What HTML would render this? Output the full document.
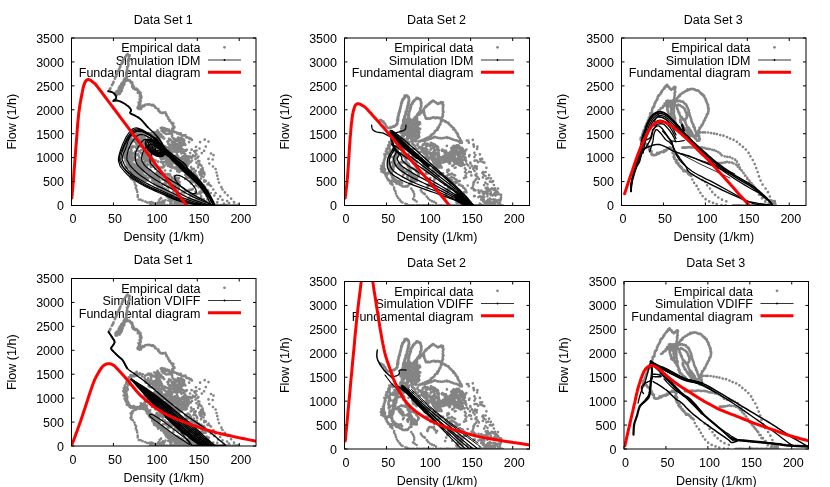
<!DOCTYPE html><html><head><meta charset="utf-8"><title>Fundamental diagrams</title>
<style>html,body{margin:0;padding:0;background:#fff}body{width:830px;height:487px;overflow:hidden}svg{display:block;will-change:transform}text{font-family:"Liberation Sans",sans-serif;font-size:13.33px;fill:#000}</style></head><body>
<svg width="830" height="487" viewBox="0 0 830 487">
<rect width="830" height="487" fill="#fff"/>
<g>
<clipPath id="cT1"><rect x="71.5" y="38" width="184.5" height="167.5"/></clipPath>
<text transform="translate(200.5 52) scale(0.94 1)" text-anchor="end">Empirical data</text>
<text transform="translate(200.5 64.7) scale(0.94 1)" text-anchor="end">Simulation IDM</text>
<text transform="translate(200.5 77) scale(0.94 1)" text-anchor="end">Fundamental diagram</text>
<circle cx="224.5" cy="47.3" r="1.4" fill="#888"/>
<path d="M208 60 H241" stroke="#999" stroke-width="1.8" fill="none"/>
<circle cx="224.5" cy="60" r="0.9" fill="#000"/>
<path d="M208 72.3 H241" stroke="#f00" stroke-width="3" fill="none"/>
<g clip-path="url(#cT1)">
<path d="M109.1 90.7h0M109.9 89.8h0M109.8 89.1h0M110.4 88.4h0M111.9 85.2h0M112.5 84.6h0M112.9 83.4h0M113.4 82.7h0M113.5 81.9h0M114.9 78.7h0M115.3 77.7h0M115.6 76.9h0M116.3 76.2h0M116.4 75h0M117 74.3h0M117.1 73.7h0M118.1 71.1h0M118.8 70.2h0M118.9 69.3h0M119.6 68.6h0M119.9 67.7h0M120.1 66.9h0M120.5 66.1h0M121.6 63.7h0M121.9 62.6h0M122.2 61.8h0M122.4 61.1h0M123 60.6h0M123.4 59.3h0M124 58.7h0M125.1 57h0M125.9 56.3h0M126.3 55.7h0M126.8 54.8h0M127.6 54.2h0M117.3 92.7h0M125 81.5h0M124.9 79.3h0M125.2 78.7h0M123 84.7h0M116.9 94.3h0M120.4 92.3h0M117.6 92h0M125.3 78.4h0M124.4 82.4h0M124.2 83.4h0M123.5 84.1h0M120.6 89.8h0M121.8 85.8h0M120.8 90.3h0M119.5 87h0M116.4 92.4h0M120.1 88.4h0M123.9 83.1h0M121.4 88.2h0M118.9 91.8h0M124.2 82.3h0M121.3 86.5h0M115.6 95h0M124 81.7h0M120.8 90.7h0M124.4 81.5h0M125.1 78.3h0M120.8 86.8h0M119.9 92.8h0M119 92.8h0M123.8 84h0M124.4 80.8h0M119.8 91.7h0M118.8 89.3h0M123.8 80.3h0M117.7 91.6h0M123.3 84.8h0M119.9 86.1h0M122.8 86.1h0M121.2 85.7h0M125.7 78.5h0M125.8 78.7h0M116.8 91.2h0M123.6 84.5h0M124.3 83.8h0M116.6 91.7h0M123.8 84.9h0M120.6 90.1h0M121.5 85.3h0M126.2 78.8h0M118.7 88.3h0M125.5 78.5h0M117.3 91.7h0M126.4 78.5h0M123.6 81.6h0M119.6 89.6h0M124.9 79h0M123.8 83.1h0M121.9 88.9h0M124.4 84.2h0M118.9 92.5h0M123.1 83.4h0M120.2 92.6h0M115.5 92.6h0M126.8 77.5h0M120 91.9h0M123.5 82.3h0M124.5 81.5h0M122 87.6h0M123.3 85.8h0M124.4 79.5h0M122.7 82.3h0M120.6 89.7h0M120.8 91.5h0M118.5 91.1h0M119.7 91.8h0M123.6 85h0M125.5 79.9h0M119.6 94.1h0M125.6 79.6h0M126.5 77.9h0M125 78.7h0M121.3 83.9h0M124 82h0M120.4 90.2h0M126.4 77.5h0M116.5 93.1h0M124.2 79.7h0M121.4 85.2h0M118.6 92.4h0M120.4 90.5h0M120.5 89.1h0M119 88.3h0M124.9 79.2h0M125.3 78.9h0M121.5 89.1h0M122.1 88.7h0M120.7 88.5h0M121.9 90.5h0M120.8 92.2h0M115.6 94.1h0M126.1 78.8h0M123 86.2h0M118 93.1h0M126 78.8h0M117.4 91.6h0M122.7 87.6h0M123.6 83.3h0M126.2 79.1h0M123.8 80.3h0M121.6 87.5h0M126 79.5h0M120.7 86.5h0M119 92.1h0M122.5 83.9h0M120.1 88.8h0M122.7 82.4h0M122.9 85.7h0M124 83.8h0M124.6 80.4h0M118.8 90.4h0M121.4 91h0M121.2 89.7h0M124.8 79.2h0M116.1 93.8h0M119.5 89.2h0M124 81.4h0M124 81.3h0M117.1 94.9h0M126 78.3h0M126.6 77.9h0M126.4 76.1h0M126.2 75.3h0M126.8 74.5h0M126.5 73.1h0M126.7 73.1h0M127.2 71.9h0M127.6 71.3h0M126.8 70.4h0M127.2 69.4h0M127.2 68.1h0M127 67.1h0M127.9 66.5h0M128.3 65.6h0M128.3 64.9h0M128.4 64.1h0M128.1 63.4h0M128.7 61.2h0M127.8 61.3h0M128.9 60h0M129.7 59.2h0M129.2 58.9h0M128.9 57.1h0M129.1 56.4h0M129.6 55.3h0M129.8 55.7h0M125.9 80.2h0M127.2 80.5h0M127.5 79.9h0M129.7 80.3h0M129.9 81.2h0M131.1 81.6h0M131 82.3h0M132.1 82.4h0M132.4 83.1h0M132.4 84.4h0M132.2 86.2h0M132.4 86.9h0M134 87h0M134.3 88.8h0M134.9 88.9h0M136.4 89.7h0M137.5 89.7h0M138.6 90.9h0M138.3 90.6h0M139.5 91.9h0M139.4 93.2h0M140.5 94.1h0M139.9 94.2h0M140 95.6h0M141.4 97.1h0M141.4 96.9h0M140.8 98.2h0M140.6 99.7h0M140.6 99.7h0M140.7 101.3h0M140.2 101.6h0M139.8 103.5h0M140.2 103.6h0M138.9 104.7h0M138 106.8h0M138.3 107.3h0M138 108h0M137.8 108.4h0M139.3 109.1h0M139.6 109h0M140.6 107.2h0M141.6 107.4h0M141.6 106.7h0M143.4 105.9h0M144.3 106.1h0M144.2 105.6h0M145.6 104.5h0M146.9 104.5h0M147.9 104.3h0M148.2 104.5h0M149.6 104.4h0M150.4 104.6h0M151.7 105.3h0M152.4 105.4h0M153.1 104.8h0M154.6 106.2h0M155.2 107.4h0M155.3 107.2h0M156.2 108h0M158.4 109h0M157.9 109.5h0M158.3 110.6h0M159.5 111.4h0M159.9 112.1h0M160.2 112.5h0M161.5 112.9h0M162.7 113.1h0M163 112.6h0M164.5 112.6h0M165.4 112.4h0M166.2 114.2h0M166.6 115.1h0M166.4 115.5h0M167.8 117.1h0M168 117.7h0M168.4 118.8h0M168.4 118.2h0M170 120.4h0M169.5 121h0M171.5 122.5h0M171.4 122.9h0M171.7 123.4h0M173.3 123.4h0M172.8 125.6h0M174.2 126.7h0M173.5 126.3h0M174.4 127.5h0M172.3 128.5h0M173.2 129.7h0M171.9 130.7h0M172.5 132.4h0M173.6 131.6h0M175.2 132.2h0M176.5 132.6h0M177.1 133.5h0M178 133.1h0M179.6 133.6h0M179.3 134.2h0M180.8 133.4h0M181.5 135.5h0M182.7 135.3h0M184 135.7h0M183.8 135.3h0M185.4 135.1h0M186.3 137.5h0M187.1 137.4h0M186.7 137h0M188.9 137.9h0M189.6 138.8h0M190.7 138.6h0M191.6 139.7h0M192 140h0M125.6 81h0M126.9 79.7h0M127.8 79.9h0M129.2 80.5h0M130.1 81h0M130.2 81.4h0M131.4 82.1h0M131.9 82.8h0M131 82.8h0M132.3 85.7h0M133.1 85.4h0M133.2 86.7h0M132.7 87.1h0M133.2 88.3h0M136.3 88.7h0M135.1 89.5h0M137.4 89.4h0M138 90.6h0M138.2 91h0M140 93.2h0M137.8 92.7h0M140.6 92.8h0M140 94.8h0M141 95.7h0M139.9 96.6h0M141.2 98.1h0M139.9 99.5h0M140.3 100.6h0M139.6 99.4h0M140.1 102h0M139.4 102.5h0M138.5 102.5h0M139 104.3h0M139.9 105.6h0M138.6 106.3h0M137.6 108h0M137.6 107.7h0M139.6 108.6h0M139.3 108.9h0M139.4 108h0M140.9 108.9h0M142 106.8h0M143 106.5h0M142.6 105.6h0M200.1 142.2h0M204.7 139.7h0M208.5 141.6h0M196 146.8h0M199.5 148.5h0M205.8 146.6h0M204.1 150.8h0M201.8 153.1h0M211 153.5h0M213.5 155.1h0M198.4 156.6h0M208.5 158.9h0M212.7 159.5h0M209.3 163.5h0M200 165h0M213 166.5h0M215.6 169h0M217.3 175.7h0M216.5 172.5h0M219 182.6h0M218 179h0M203.5 176.9h0M205.8 180.9h0M211 186h0M213.3 189.5h0M215.6 193h0M221.4 187.2h0M222.5 189.5h0M224.8 192.4h0M227.7 195.3h0M231.1 198.7h0M234 202.2h0M238.6 204.5h0M220.2 196.4h0M222.5 199.9h0M227.1 201h0M229 203h0M218 199h0M224 203.5h0M183.9 165.3h0M184.7 166.5h0M184.9 167h0M185.8 168.3h0M185.5 169.2h0M179.3 172.1h0M178.4 170.5h0M177.9 169.5h0M177 169.1h0M176.5 167.6h0M176.7 166.2h0M176.9 165.2h0M177.6 164.9h0M178.6 163.6h0M180.5 163.1h0M181.1 163.5h0M167.6 151.1h0M167.5 151h0M165.3 150.3h0M164.8 150.1h0M164.2 149.5h0M162.7 148.4h0M162.3 147.7h0M161.7 146.3h0M162.1 144.4h0M179 166.4h0M177.2 165.4h0M177.5 164.6h0M177.4 163.2h0M176.6 161.4h0M178.1 161.5h0M178.7 161.3h0M180.4 161.3h0M181.8 161.5h0M182.2 163h0M184.2 163.2h0M184.6 164.7h0M184.5 166.2h0M185.7 167h0M157.6 130.3h0M158.5 132.1h0M159.1 132.8h0M157 133h0M156.2 132.5h0M156.1 132.1h0M175.9 141h0M177 141.1h0M178.9 141.5h0M179 142.7h0M179.9 143.6h0M180.9 145h0M180.6 145.8h0M181.3 147.5h0M181 148.5h0M179.4 149.1h0M177.9 148.3h0M176.7 148.6h0M176 148.1h0M174.8 147h0M174.5 145.4h0M174.5 144.7h0M174.4 142.8h0M174 141.5h0M175 141.4h0M155.8 145.2h0M155.4 144.4h0M154.2 143.5h0M153.6 142.7h0M153.6 141.1h0M154.6 140.7h0M156.3 141.2h0M156.5 141.7h0M158.1 142.2h0M158.4 143.8h0M171.3 149.1h0M170.6 148.2h0M169.8 147.2h0M170.1 146h0M169.4 145.1h0M171 144.8h0M171 144.9h0M172.7 146.1h0M173.1 147.6h0M186.9 149.8h0M185.9 150.7h0M184.5 150.8h0M183.3 149.7h0M182.5 149.3h0M180.5 148.4h0M179.8 147.8h0M178.6 146.3h0M178.8 145h0M179.1 144.4h0M181 143.7h0M181.6 143.7h0M183.4 143.3h0M184.8 144.2h0M185.3 144.9h0M176.6 144.1h0M177.3 144.4h0M178.2 145.8h0M178.2 146.6h0M178.3 147.6h0M179.1 149.3h0M178.3 149.8h0M177 149.7h0M176 149.4h0M174.6 148.5h0M174.3 148h0M173.4 146.2h0M173.3 144.6h0M178.9 138.2h0M179.3 139.1h0M181.4 140h0M181.9 140.3h0M182.5 141.1h0M183 142h0M183 143.1h0M182.9 145.1h0M181.7 145.6h0M180.9 146.5h0M179.1 146.3h0M177.7 146.7h0M177 146.4h0M175 145.7h0M174.8 144.8h0M184 161.6h0M184 163h0M183.6 163.7h0M184.4 165.2h0M183.8 166.6h0M182.5 166.5h0M182 166h0M180.4 164.8h0M180.2 163.7h0M179.5 162.8h0M180 162h0M180.5 164.7h0M181.4 165.1h0M182 165.1h0M183.3 165.6h0M184.2 166.4h0M184.1 167.9h0M183.6 168.7h0M181.9 168.1h0M180.6 168h0M179 168.1h0M177.9 167.8h0M179 159.5h0M180.1 158.3h0M181.7 157.9h0M182.5 157.9h0M183.5 157.8h0M184.4 159.1h0M185.6 159.9h0M186.4 161.5h0M186.5 163.2h0M186.7 163.3h0M186 164.4h0M179.6 158.6h0M180.3 159.2h0M180.8 160.8h0M181.7 161.4h0M181.9 163.2h0M180.7 163.5h0M179.2 164.4h0M178.5 163.7h0M177.7 163.5h0M177 162.7h0M174.8 162.2h0M174.5 162h0M173.2 160.2h0M172.9 159.5h0M172.3 158.1h0M173.9 157.5h0M174.3 157.3h0M175.7 157.2h0M176.8 158.3h0M142.1 135.9h0M142.7 133.9h0M142.3 133.7h0M148.4 133h0M149.6 133.6h0M150.2 134.9h0M151.1 135.7h0M151.3 136.5h0M151.1 138.1h0M151.3 139.7h0M150.3 139.9h0M186.8 164.7h0M187.6 165.8h0M186.3 166.7h0M184.8 166.2h0M183.9 165.6h0M183.5 164.5h0M183.5 164h0M182 162.9h0M164.7 129.7h0M163.3 129.1h0M162.7 128.6h0M161.8 127.7h0M175.3 163.5h0M175.1 162.7h0M174.6 161.7h0M173.6 159.8h0M173.3 158.9h0M174.2 157.8h0M174.8 155.8h0M175.1 157.1h0M177.3 157.6h0M178.7 158.1h0M179.2 159.1h0M179.2 160.2h0M179.9 161.1h0M176.9 167.3h0M175.7 167.4h0M174.2 167.7h0M173 167.3h0M171.8 167.7h0M170.8 166.6h0M169.8 166.7h0M168.5 165.4h0M168.1 164.6h0M168.1 163.6h0M167.8 161.9h0M167.7 161h0M169.2 160.6h0M145.7 142.1h0M145.3 140.8h0M145.1 139.2h0M145.2 138.8h0M144.5 136.8h0M145.3 134.9h0M146.2 134.7h0M146.2 134.7h0M147.8 134.1h0M148.9 133.5h0M151 133.3h0M150.8 134.1h0M152.3 134.7h0M153.3 135.3h0M154.1 136h0M155.8 136.4h0M156.5 138.3h0M173.2 156.9h0M172 156h0M171.2 156h0M169.8 154.8h0M169.9 153.4h0M169.8 152.1h0M170.2 151.6h0M171.2 151.4h0M173 151.6h0M174.8 151.1h0M175.3 151.8h0M176.9 152.6h0M159.8 140.7h0M160.8 141.7h0M161.6 143h0M161.5 144h0M160 145.6h0M159.2 145.6h0M157.4 144.9h0M157.2 144.8h0M156.9 143.3h0M155.9 141.9h0M155.2 140.8h0M156.3 139.8h0M157.2 139.1h0M157.6 139.5h0M163.4 157.5h0M163.9 156.3h0M164.2 154.8h0M165.4 154.2h0M165.5 153.2h0M166.8 153.4h0M168.4 153.6h0M169.1 154.1h0M170.5 154.8h0M171 156h0M171.7 157.2h0M172.2 157.5h0M172.7 159.6h0M171.6 160.6h0M170.8 161.8h0M170.8 161.9h0M169.2 162.4h0M167.6 161.6h0M166.5 161.2h0M172.2 165.1h0M171 164.2h0M171.1 163.6h0M172.3 162.5h0M173.8 162.8h0M175.2 163.1h0M176 163.9h0M153.9 142.7h0M154.2 142.5h0M152.8 144.1h0M151.5 143.4h0M149.8 142.1h0M148.9 142.2h0M148.5 141.7h0M147.6 140.1h0M146.3 139.5h0M144.8 138.6h0M149.7 146.6h0M151.5 146.8h0M152.2 146.6h0M153.9 147h0M154.9 147h0M155.4 147h0M157.1 148.7h0M158.2 148.8h0M158.6 150.4h0M159.3 151.6h0M159.6 153h0M159.9 153.4h0M158.7 154.2h0M157.8 154.4h0M156.9 154.5h0M169 138.8h0M169.7 139.2h0M170.9 139.8h0M171.9 141.3h0M171.7 142.2h0M172.5 142.5h0M173.2 144h0M172.1 145.2h0M170.7 145.5h0M169.6 145.4h0M168.7 144.1h0M168.2 143.8h0M167.9 142.2h0M167.4 141.5h0M179.6 151.4h0M180.6 150.9h0M182.4 152.6h0M182.8 152.3h0M184.2 153h0M185.2 154.2h0M185.2 155.7h0M184.9 156.8h0M185.2 157.7h0M183.8 158.8h0M182.7 158.6h0M181.3 158.8h0M180 158h0M179 157.7h0M177.8 157.3h0M177.7 156.2h0M177 154.5h0M170 157.4h0M169.6 159.4h0M167.9 158.8h0M166.5 158.7h0M165.6 157.3h0M165.4 156.3h0M165.9 154.9h0M166.9 155.4h0M168.2 155.2h0M169.6 156.1h0M169.7 157.1h0M152.6 140.8h0M153.1 142h0M152.8 143.7h0M151.5 143h0M150.5 143h0M149.5 142.3h0M147.9 141.5h0M146.8 141h0M146.2 139.8h0M185.9 155.8h0M187.1 156.4h0M187.9 157h0M188.4 158.7h0M188.6 159.5h0M188.6 160.9h0M187.7 160.8h0M186.9 160.9h0M185.3 160.7h0M184.6 159.2h0M183.6 159h0M183 157.8h0M183.9 156.9h0M184.2 155.5h0M187.3 156.5h0M189 156.5h0M190 156.6h0M191.6 157h0M189.1 161h0M188.7 160.7h0M154.7 148.4h0M155.5 147.3h0M156.9 147.7h0M157.8 147.8h0M159.2 148.2h0M160.9 148.5h0M161 149.9h0M161.7 151.4h0M161.8 152.3h0M162.8 153.8h0M162.1 155.3h0M161.4 155.7h0M160.4 156.5h0M159.8 156.3h0M157.7 155.3h0M156.5 154h0M156.6 152.9h0M155.5 151.6h0M154.4 152.1h0M148.6 145.6h0M148.9 144.8h0M149.2 143.7h0M150.3 143.7h0M151.6 142.5h0M152.5 143.6h0M153.9 144.3h0M188.4 156.7h0M188.2 157.7h0M187.9 159.8h0M186.3 160.2h0M185.7 159.6h0M184.3 159.4h0M184.1 159.4h0M183.1 157.8h0M182.4 156.5h0M160.8 134.3h0M161.4 135.2h0M161.2 136h0M160.7 136.5h0M158.6 137.1h0M158.3 137h0M156.9 136.8h0M156.6 135.2h0M155.9 134.2h0M155.9 133.1h0M156.2 132.5h0M157.7 131h0M188.6 163.8h0M187.6 163h0M186.9 162.3h0M186.3 161.3h0M186.4 159.9h0M186.4 159.3h0M186.9 158.5h0M187.9 158.2h0M179.7 141.4h0M178.1 140.4h0M176.9 141h0M175.5 140.2h0M175 139.6h0M173.8 139.1h0M173.3 138.1h0M172.1 136.7h0M172.2 135.3h0M171.7 134.5h0M172 133.6h0M180.2 163.5h0M180.4 161.7h0M182 161.9h0M183.3 162.9h0M183.8 163.9h0M184.9 163.8h0M185.7 165h0M186.7 166.3h0M181.1 170.7h0M179.6 170.3h0M179.5 170.2h0M178 169.3h0M177.5 168.5h0M178 166.7h0M177.4 165.6h0M178.8 165.1h0M179.7 164.9h0M180.7 164.2h0M182.2 164.4h0M183.3 165.2h0M184.5 165.3h0M185.9 166.3h0M186.9 166.2h0M186.8 168.2h0M179.1 138h0M180.2 138h0M181.2 138.2h0M182.3 138.7h0M183.8 139.6h0M184.2 140.6h0M183.9 142.6h0M184.2 142.9h0M184.1 144.4h0M183.1 144.5h0M181.9 144.7h0M181 143.6h0M180.3 143.1h0M179.5 142.4h0M177 151.6h0M176.3 151.8h0M174.5 150.6h0M173.9 149.7h0M174.4 148.6h0M173.3 148.3h0M173.9 146.2h0M174.9 146.4h0M176.1 147h0M177.4 147h0M177.6 147.4h0M178.6 149.1h0M179.2 149.9h0M179.8 151.3h0M178.2 151.7h0M164.2 148.3h0M164.2 147.8h0M164.2 146.1h0M165.4 146.7h0M166.8 147.4h0M168.4 147.7h0M168.7 148.9h0M169.1 149.9h0M169.8 151.1h0M170.8 151.5h0M169.5 153.2h0M168.9 152.2h0M160.8 128.2h0M162.2 128.7h0M163.1 128.1h0M164.5 128h0M164.8 128.4h0M167.1 129.1h0M167.7 130.7h0M169.4 130.8h0M169.6 131.3h0M170.1 132.7h0M169.4 133.7h0M168.4 133.7h0M166.6 134h0M165.4 133.6h0M164.5 132.5h0M163.3 131.9h0M162.5 131.1h0M165.9 160.8h0M166.9 160.6h0M167.6 162.1h0M167.8 163.3h0M168 163.6h0M161.3 159.1h0M163 158.4h0M164.3 158.3h0M163.2 159.1h0M163.6 157.6h0M163.7 156.6h0M165.7 156.5h0M167.2 157.8h0M167.5 158h0M168.3 159.3h0M169 160.2h0M169.4 161.8h0M169.2 162.5h0M168.2 162.2h0M166.8 162.9h0M169.6 158.8h0M170.2 159.3h0M170.9 159.9h0M171.2 161.7h0M171.2 163.4h0M170.8 164.3h0M169.3 164.8h0M168.6 164.8h0M167.8 165.8h0M161.2 159.1h0M160.5 157.6h0M153.2 135.6h0M155.1 135h0M156.2 134.9h0M157.3 136.5h0M157.8 135.7h0M158.7 136.8h0M159.1 138.3h0M160 139.7h0M159.7 140.8h0M158.8 141.7h0M157.8 141.5h0M156.1 140.7h0M155.9 140.1h0M165.2 131h0M159.3 134.3h0M178.2 160.6h0M176.1 160.9h0M177.5 168.7h0M154.1 132h0M168.7 140.9h0M177.9 166.1h0M181.8 149.4h0M178 166.8h0M172.1 153.6h0M169.1 129.6h0M163.8 131.4h0M174.8 143.6h0M139.8 134.1h0M175.5 157.1h0M158.8 133.5h0M161.6 130.8h0M180 144.6h0M162.4 137.4h0M180.4 139.4h0M171.3 159.4h0M148.2 137.9h0M163.3 132.5h0M174.9 168.4h0M181.5 153.3h0M170.1 158.9h0M176.1 159.6h0M169.9 149.9h0M185.7 160.7h0M191.6 149.7h0M165.1 162.1h0M155.1 143.9h0M145.6 140.1h0M182.7 142.2h0M178.4 164.4h0M177.2 171.2h0M178 137.7h0M168 163.5h0M190.1 153h0M185.6 165.6h0M180.4 144.4h0M148 133.8h0M175.6 139.1h0M185.8 150.1h0M158.2 143h0M157.6 151.4h0M177.2 166.3h0M159 154.9h0M190.9 157.8h0M146.6 141.4h0M175 141.9h0M160.7 158.2h0M164.2 138.6h0M174.9 159.7h0M139.8 132.9h0M163.2 136.9h0M149.3 142.3h0M160 144.5h0M166.6 163.6h0M169.9 158.8h0M179.1 160.7h0M160.1 142.1h0M171.4 166.4h0M177.6 162.1h0M178 139.2h0M182 170.7h0M160.3 150.7h0M177.1 167.1h0M189.1 142.2h0M197.4 184.3h0M199.3 183.5h0M199.9 184.9h0M201.3 185h0M201.7 185.2h0M203 186.7h0M203.8 186.8h0M204.2 188.9h0M205.2 189.9h0M205.4 191.6h0M203.5 192.2h0M203 192.2h0M202.4 191.9h0M200.4 191.6h0M204.5 174.4h0M203.5 173.4h0M202.1 173.5h0M201.6 171.7h0M201 170.6h0M200.9 169.6h0M201.7 169.5h0M202.6 168.1h0M186.7 178.4h0M186.5 178h0M186.4 175.9h0M186.1 174.5h0M186.6 174h0M187.8 173h0M188.9 173.8h0M189.7 174.3h0M190.2 175.3h0M191 176.6h0M190.9 177.4h0M187.6 177.5h0M188.5 178h0M189.9 177.7h0M191 177.9h0M191.6 179.2h0M191.9 180h0M192.4 181.8h0M191.8 182.5h0M201.4 176h0M201.5 175.6h0M200.4 175.2h0M199.8 174.2h0M200 172.9h0M200.9 172.1h0M203 171.6h0M203.7 172.3h0M204.2 172.6h0M198.2 183.2h0M196.5 183.3h0M195.1 182.4h0M195 182h0M194.4 180.7h0M193.7 179.6h0M193.9 178.1h0M202.9 170.1h0M196.5 150.5h0M207.8 190.4h0M196.8 176.1h0M198.5 164.9h0M192 160.5h0M215.4 205h0M196.5 162.7h0M194.3 186.3h0M198 167.3h0M192.6 156.5h0M191.1 183.5h0M191.9 168.8h0M195.7 192.3h0M191.1 167.2h0M193.5 174.6h0M209.6 185h0M196.4 181.2h0M204.3 181.7h0M185.2 178.9h0M205 187h0M199.1 193.2h0M199 187.2h0M204 185.7h0M201.4 165.7h0M185.2 174.8h0M209.8 201.6h0M205.4 181.3h0M191.6 170.1h0M199.4 163.7h0M195 156.2h0M201.2 196.4h0M192.1 157.4h0M214.3 195.5h0M199.4 192.3h0M190.6 162.2h0M197.6 184.3h0M205.5 192.4h0M195.4 191.8h0M192.9 182.1h0M194.2 151.1h0M201.5 184.4h0M197.5 157.6h0M195.7 170.9h0M197.4 193.8h0M208.6 183h0M193.8 168.8h0M194 171.8h0M196.4 154.3h0M199.4 172.2h0M197.2 177.4h0M189.9 177h0M217.3 202.3h0M195.7 174.7h0M198.7 184.3h0M192.7 189.1h0M193.8 179h0M207.6 199.3h0M197.1 185.9h0M195.3 152.4h0M198.3 160.8h0M207.2 199.5h0M210.8 193h0M196.2 184.4h0M202.6 190.4h0M194.9 172.1h0M204.3 172.6h0M201.2 198.1h0M203.8 199.1h0M213.3 202.1h0M199.3 161.1h0M190.6 180.6h0M201.4 188.7h0M195.5 159.1h0M206.7 196.2h0M192.9 155.3h0M204.2 180.3h0M190.7 171h0M196.8 180.3h0M200.5 193.8h0M207.5 184.3h0M204.5 202.8h0M201 178.7h0M208.2 191.1h0M208.9 197.1h0M136.8 131.4h0M135.7 132.9h0M135.9 132.2h0M134.2 133h0M134.5 133.3h0M133.9 134.4h0M132.6 135.7h0M131.3 134.8h0M130.6 134.7h0M130.5 137.1h0M130.3 136h0M128.6 136.9h0M128.6 137.7h0M128.8 138.5h0M127.7 139.2h0M128 139.7h0M126.5 141.4h0M126.2 142.7h0M126.8 143.2h0M126.5 143.5h0M124.8 145.1h0M124.8 145.2h0M124.9 146.6h0M124.1 148.2h0M123.7 147.8h0M124.9 149h0M124.1 150.1h0M123.3 150.6h0M124.2 152.2h0M124.9 151.9h0M124.7 153.4h0M123.6 155h0M125.7 155.3h0M125.2 155.7h0M125.3 157.5h0M125.3 157.5h0M124.5 158h0M125.8 159.2h0M125.4 160.1h0M126.7 160.7h0M126.5 162h0M127.2 162.7h0M126.8 164.2h0M128.1 164.7h0M129.4 165.7h0M129.4 166.1h0M129.9 166.5h0M130.6 167.1h0M131.6 166.2h0M132.9 167.7h0M133.9 165.6h0M133.7 166.3h0M135.3 166.8h0M135.9 166.6h0M137.4 166.5h0M138.4 167.2h0M139.3 166.7h0M140 165.6h0M140.6 165.6h0M141.4 165.3h0M142.1 165.7h0M142.8 165.4h0M143.9 163.4h0M144.8 163.7h0M144.5 161.9h0M145 162h0M145.2 161.4h0M145.3 160.1h0M146.4 159.1h0M146.9 159.2h0M147.1 157.9h0M146.4 156.2h0M139.2 133.2h0M139 133.3h0M137.6 134.2h0M137.1 135.3h0M136.4 134.7h0M134.8 135.4h0M133.6 135.7h0M134.1 135.8h0M131.7 138.8h0M131.2 138.4h0M130 140.1h0M130.4 140.6h0M130 142.4h0M129.4 143.4h0M128.7 143.8h0M128.5 144.4h0M127.2 146.7h0M126.7 147.2h0M127.8 148.9h0M127.6 148.6h0M127.6 149.6h0M126.6 150.6h0M126.2 152.3h0M126.6 153.2h0M126.8 154.8h0M127.4 156.3h0M126.6 155.7h0M125.9 156.8h0M127.1 158h0M127.3 160.1h0M127.3 160h0M128 161.6h0M128.4 162h0M129 163.9h0M129.3 164.1h0M129.6 164.8h0M131.3 165.8h0M131.6 166.7h0M133.6 166.7h0M132.3 167.2h0M133.6 168h0M136.5 167.7h0M136.9 167.9h0M138.2 167.7h0M139.6 168.4h0M140.8 167.9h0M141.8 168.2h0M142.7 166.5h0M143.7 167.5h0M144.3 165.7h0M143.2 165.2h0M146.7 165.2h0M138.9 166.6h0M137.7 167.4h0M136.6 167.7h0M136.6 168.8h0M135 169h0M135.3 169.3h0M133.2 170.8h0M132.9 170.9h0M132.1 171.1h0M132.3 172.8h0M130.7 172.9h0M131.4 174.1h0M131.3 175.4h0M131.5 176.9h0M130.6 177.4h0M130.8 177.5h0M131.1 178.6h0M132.8 179.8h0M134.4 182h0M135.1 184.3h0M136.2 185.9h0M135.8 187.9h0M136.8 189.9h0M137.2 192h0M137.7 195.1h0M137.7 196.8h0M138.8 199.5h0M140.4 199.6h0M142.6 200.7h0M145.3 201.6h0M147.3 202.6h0M149.5 202.4h0M151.5 202.2h0M153.3 202.8h0M155.7 203.6h0M157.8 202.8h0M159.9 203.7h0M162.3 204.4h0M141.5 164.5h0M141.3 164.8h0M143.4 165.1h0M143.1 166h0M143.3 168.3h0M145.4 169h0M145.8 170.2h0M146.4 169.8h0M148.4 171.2h0M149.2 175.4h0M148.7 173.3h0M151.5 174.7h0M151.8 176.3h0M151.2 176.8h0M151.4 177.8h0M152.2 178.9h0M152.3 180.6h0M154.9 182.2h0M155.1 184.1h0M154.2 184.3h0M155.8 184.6h0M156.1 185.1h0M160.7 187.5h0M158.2 187.4h0M160 186.6h0M162.2 187.1h0M161.7 189.9h0M162 189.2h0M165.6 189.6h0M165.6 190.5h0M167.1 191.7h0M167.4 192.9h0M167.2 195.6h0M169.5 197h0M168.2 197.2h0M170.5 198.3h0M171 199.1h0M171.6 199.4h0M172.2 199.6h0M173.6 199.8h0M175.2 203h0M176.1 200.8h0M177.9 201.9h0M140.9 162.8h0M143.3 164.2h0M141.1 166.1h0M142.8 166h0M143.4 165.5h0M143.7 168.6h0M146.6 169.8h0M145.8 170.2h0M147.9 170.4h0M146.9 172.7h0M148.5 174.3h0M149.6 173.8h0M149.1 175.7h0M152.9 175h0M151.2 177.5h0M153.2 177.5h0M152.2 178.1h0M153.7 181h0M154.6 180.2h0M153.8 182.9h0M156.9 185.2h0M158.3 184.2h0M159.5 184.8h0M158 185.9h0M159.4 186.5h0M161.7 185.4h0M162.5 187.3h0M163.8 188h0M165.7 188.9h0M165.2 189.9h0M165.4 191.2h0M166.6 192.1h0M167.1 193.5h0M168.6 193.6h0M170 193.6h0M171 196.9h0M171.1 199h0M169.8 198.8h0M171.9 200.2h0M171.6 200.3h0M174.4 200.6h0M175.7 200.5h0M177.7 201.7h0M177.6 201.6h0M141.4 166.4h0M142.9 165.4h0M141.9 165.8h0M143.2 165.7h0M144.2 167.5h0M146.7 167.2h0M146.6 167.3h0M147.5 168.7h0M149.6 172h0M148 171.4h0M148.9 173.6h0M149.2 172.9h0M151.3 174.7h0M150.3 177h0M153.4 176.4h0M153.4 178.7h0M153.6 180h0M153.6 180.8h0M155.4 182.9h0M155.8 182.9h0M156.9 185.6h0M157.6 183.7h0M159.1 185.4h0M159 187.1h0M161.4 186.2h0M162.5 188.6h0M163.1 189.2h0M163.9 190.4h0M164.2 192.4h0M165.8 191.7h0M166.3 192h0M166.1 193.7h0M169.2 196.1h0M170.2 194.1h0M173.4 195h0M171.8 196.8h0M173.8 197.4h0M173.6 197h0M173.9 198.8h0M176.4 198.2h0M177.4 200.8h0M180.4 200.4h0M165.1 173.9h0M165.3 175.4h0M164.4 175.5h0M163.2 176.8h0M162.1 176.3h0M160.7 175.4h0M158.9 175.1h0M158.6 174h0M157.9 174.2h0M156.6 173.1h0M156.9 172.3h0M154.9 178.6h0M155.6 178.9h0M156.1 179.3h0M157.7 179.6h0M158.1 181h0M158.6 182.2h0M158.7 183.7h0M158 184.6h0M156.8 183.3h0M156.3 183.1h0M155.3 182h0M154.2 180.8h0M177.6 199.9h0M176.4 200.3h0M174.9 199.7h0M173.8 199h0M172.4 198.8h0M171.7 197.8h0M170.9 197h0M172 195.2h0M172.7 195.4h0M173.7 194.9h0M174.1 195.8h0M175 196.6h0M176.8 196.6h0M177.5 197.3h0M192.2 204.1h0M191.7 202.5h0M191.3 201.7h0M193.1 200.3h0M194.5 200.1h0M194.9 200.1h0M196.2 199.7h0M196.9 201h0M197.8 200.7h0M178.1 189.9h0M176.8 189.5h0M175.5 188.4h0M175.1 187h0M174.8 186.3h0M174.3 184.7h0M174.8 183.6h0M175.9 182.8h0M176.3 184.3h0M177.5 184.8h0M178.3 186.1h0M178.9 186.5h0M178.8 187.9h0M161.3 190h0M161.2 189.7h0M163.4 190.3h0M164.6 190.1h0M165.4 191h0M165.5 191.8h0M166.2 192.6h0M167.2 193.8h0M167.8 195.7h0M166.9 196.3h0M154.2 162.9h0M154.5 164h0M155.7 165.5h0M154.3 166.4h0M152.5 165.9h0M152.2 166.5h0M151.4 164.5h0M168.1 195.1h0M168.8 196.2h0M169.8 196.6h0M169.7 198.1h0M168.8 198.1h0M168.2 197.7h0M166.8 196.4h0M166.3 195.8h0M165.4 194.3h0M153.2 174.6h0M154 175.4h0M154.9 175.3h0M156 175h0M157.1 176.3h0M158.6 177.5h0M158.4 178.2h0M159.2 179.2h0M159.7 180.9h0M159.3 181.7h0M158.8 182.7h0M190.9 201.8h0M189.8 201.9h0M188.7 200.1h0M188.2 200.6h0M188 199.3h0M188.6 198.1h0M189.5 197.5h0M190.7 199.4h0M191.4 200.1h0M192.4 200.7h0M192.1 202.2h0M174.9 179h0M176.3 180.3h0M177.7 180.6h0M178.2 181.1h0M179.5 182h0M179.2 183.7h0M179.7 184.8h0M178.8 185.7h0M178.3 185.2h0M177.2 185.1h0M175.6 185.1h0M174.5 184.1h0M174 182.3h0M173.8 181.5h0M178.5 198.8h0M179.2 197.3h0M180.4 197.8h0M181.4 198.2h0M183.1 199h0M183.4 200h0M185 201h0M185.5 201.1h0M184.8 202.9h0M183.4 203.2h0M182.4 202.6h0M182.2 202.7h0M180.3 201.2h0M179.7 200.5h0M179 185.1h0M177.4 184.5h0M176.7 182.9h0M175.8 182h0M175.3 181h0M175 180h0M175.1 178.1h0M176.3 178.3h0M177.7 178.1h0M171.7 177.3h0M172.5 178.7h0M171.9 179.8h0M170.3 179.7h0M169.5 178.9h0M168.5 177.7h0M167.7 177.5h0M166.5 176.1h0M166.7 174.7h0M167.6 174.2h0M168.9 174.7h0M169.5 174.1h0M170.3 175.4h0M174.5 176.2h0M176.1 177.8h0M177.1 177.9h0M178.2 179.2h0M177.9 180.3h0M177.7 181.5h0M177.6 183.3h0M177 183.6h0M174.7 183.5h0M173.5 183.5h0M172.7 182.5h0M172.2 181.9h0M171.4 180.8h0M171.2 179.5h0M163.7 175.6h0M163.1 174.9h0M161.5 175.2h0M161.1 173.8h0M159.8 172.6h0M159.9 171.2h0M159.2 170.7h0M159.8 168.9h0M160.2 167.5h0M161.8 167.3h0M162.5 167.5h0M163.5 167.3h0M192.2 196.1h0M191.6 195.6h0M190.5 194.8h0M189.6 193.6h0M189.6 192.8h0M188.4 190.7h0M189.3 190.2h0M190.6 189.6h0M191.6 189.9h0M195.2 194.8h0M195.6 196.1h0M192.7 203.1h0M193.7 203.5h0M194.3 204.7h0M187.2 204h0M187.3 202.5h0M187.9 201.8h0M189.3 201.3h0M190.2 201.6h0M169.3 194.3h0M168.9 194.9h0M168 195h0M166.2 194.7h0M165.5 194.4h0M165 192.7h0M163.9 192.2h0M163.1 189.7h0M164.7 165.6h0M163.7 165.8h0M162.9 163.7h0M162.6 162.8h0M163.3 162h0M166.9 181.8h0M168.7 182.7h0M169 182.7h0M170.2 183.9h0M171.6 184.1h0M172 185.4h0M171.5 186.4h0M170.4 186.7h0M169.7 186.1h0M168.7 185.4h0M167.7 186.2h0M165.8 184.1h0M165.2 183.4h0M165.3 182.1h0M165.6 182.7h0M166.4 182.7h0M167.8 182.2h0M168.6 183.5h0M168.9 184.7h0M169 186.4h0M168.2 187.6h0M144.6 156.1h0M144.5 154.9h0M146.7 155.9h0M146.9 157h0M148.4 157.2h0M149.2 157.7h0M150.6 158.6h0M151 159.9h0M151.2 160.9h0M151.3 162.1h0M151.2 163.5h0M152 164.5h0M151.4 163.3h0M150.3 162.1h0M149.2 161.8h0M149.5 160.4h0M150 159h0M150.9 158.6h0M152.6 159.1h0M154 159.8h0M190.4 194.7h0M191.7 195.5h0M193.4 195.1h0M194.8 196.2h0M195.3 196.7h0M196 198h0M197.4 198.3h0M197.7 199.6h0M198.7 200.9h0M198.3 201.8h0M197.5 202.4h0M195.7 202.4h0M149.9 159.3h0M148.7 159.4h0M148 158.6h0M147.2 157.1h0M146.7 156h0M146.4 155.6h0M146.8 154h0M148 154.5h0M150.1 154.5h0M150.2 154.3h0M151.4 156.1h0M152 157.1h0M151.5 158.2h0M151.2 158.7h0M173.4 191.7h0M156.8 184.7h0M150.6 155.4h0M165.8 181.7h0M170.6 170.7h0M162.6 179.4h0M177.3 180.8h0M155.2 168.8h0M183.5 191.8h0M184.4 193.1h0M151.5 177.8h0M155.9 160.6h0M156.7 168.2h0M180.9 197.9h0M150.6 158.1h0M199 203.8h0M149.9 152.5h0M199.6 203.3h0M188.3 198.4h0M168.1 190.6h0M151.2 158.2h0M198.6 198.2h0M201.7 201.6h0M154.1 180.5h0M170.2 179.6h0M149.1 154.8h0M160.3 173.7h0M189 200.1h0M193 197.1h0M156.6 177.1h0M178.8 196.9h0M153.4 178.2h0M164.9 180.1h0M170.5 193.7h0M157 185.9h0M153.8 164.5h0M172.8 198.2h0M147.2 157.1h0M176.8 180.7h0M185.7 191.1h0M158.3 180.8h0M161.1 161.9h0M174 178.4h0M185.1 202.9h0M161.3 176h0M152.2 176.1h0M176.8 203.6h0M181.6 192.6h0M149.4 171.8h0M159.3 167.7h0M160.4 171h0M173.7 189.4h0M146.6 151.3h0M158.2 161.7h0M178.9 178h0M198.9 203.6h0M160.1 170.4h0M149.3 161.2h0M155.3 177.3h0M184.9 202.4h0M155.3 182.4h0M147 159.4h0M143.1 163.7h0M176.4 204.9h0M172.4 195.7h0M160.9 172.5h0M165.1 170.5h0M153.8 177.6h0M176.1 188.7h0M162.4 188h0M199.8 201.9h0M182.1 201.1h0M175.3 182.9h0M191.5 203.4h0M178 191.5h0M163 183.9h0M178.9 186.7h0M159.8 175.4h0M152.7 166.3h0M161.1 175.9h0M201.8 203.9h0M178.7 203.8h0M150.2 169.8h0M177.4 195.9h0M151.5 175.6h0M169.3 192.7h0M158.3 188.2h0M151.5 173.4h0M154 176h0M154.3 179.2h0M171.4 203.9h0M158.7 201.5h0M159.6 199.5h0M188.9 201.1h0M194.8 204.2h0M172.8 205h0M174.4 197.8h0M163.9 203.4h0M187.8 204.4h0M176.4 197.1h0M161.3 203.8h0M165.5 200h0M174.5 202.2h0M170.1 201.3h0M161 204.6h0M174.9 203.9h0M180.3 200.8h0M191.1 204.6h0M186.6 201h0M161.5 203.4h0M164 202.1h0M171.6 201.9h0M176.4 196.5h0M177.7 198h0M175.6 200.5h0M180 199.4h0M157.8 204.3h0M151.2 204.6h0M174.1 198.9h0M192.8 201.6h0M157.5 203.5h0M177.4 200.5h0M162.9 200.9h0M162.7 202.1h0M174.2 200.5h0M174.8 202.7h0M181.8 203.9h0M175.4 198.4h0M181.2 204.3h0M175.9 200.1h0M161 198.2h0M182.9 198.9h0M161.3 202.1h0M168.3 200.5h0M170.4 203.4h0M176.5 198.2h0M180.2 201.9h0M164.4 201.7h0M170.7 205h0M185 202.3h0M181.5 198h0M185.4 202.5h0M169.8 199.2h0M190.8 204.6h0M193.7 203h0M171.2 202.1h0M195.7 203.4h0M173.7 197.4h0M175.3 202.7h0M194.1 203.9h0M150 205.1h0M151.1 205.3h0M152 205.3h0M152.9 205.3h0M154.3 205.4h0M155 205.2h0M156.1 205.1h0M157 205.1h0M157.8 205.4h0M159 205.1h0M159.8 205.3h0M161 205.1h0M161.9 205.4h0M163 205.3h0M164 205.3h0M165.1 205.3h0M166 205.5h0M167 205.1h0M168 205.5h0M169.1 205.3h0M170.1 205.3h0M171.1 205.2h0M171.6 205.4h0M173.1 205h0M173.9 205.5h0M175.1 205.2h0M176.1 205.4h0M177.1 205.5h0M178.1 204.9h0M179 205.5h0M179.7 205.3h0M181 205.1h0M182.1 205.4h0M183.1 205.2h0M184.2 205.6h0M185 205.3h0M185.9 205.1h0M186.8 205.3h0M188 205.4h0M189.1 205.2h0M189.9 205.7h0M191 205.4h0M191.8 205.4h0M193.1 205.3h0M194 205.5h0M194.9 205.3h0M195.8 205.4h0M197 205.4h0M197.8 205.7h0M199.2 205.5h0M200.1 205.4h0M201.1 205h0M201.9 205.2h0M203.1 205.4h0M203.9 205.3h0M205.2 205.3h0M206.1 205.3h0M206.9 205.1h0M207.9 205.4h0M208.8 205.3h0M210.1 205.4h0M211.2 205.3h0M212 205.3h0M212.9 205.4h0M214.2 205.1h0M215 205.1h0M215.9 205.2h0M217.1 205.2h0M217.9 205.4h0M219.3 205.4h0M220.1 205.3h0M221 205.2h0M222.3 205.2h0M223.3 205.1h0M224 205.3h0M224.8 205.4h0M226.3 205.2h0M227.1 205.2h0M228 205.5h0M228.9 205.2h0M230.2 205.1h0M231.1 205.3h0M232.1 205.3h0M233.1 205.1h0M234.3 205.2h0M235 205.1h0M236 205.2h0M237.2 205.2h0M237.9 205.3h0M238.9 205.3h0M147.1 146.3h0M148.4 146.6h0M149 147.3h0M149.8 148.7h0M150.5 149.8h0M150.5 150.5h0M150.4 151.6h0M150 152.1h0M148.5 152.5h0M148.1 153.9h0M146.3 153.2h0M145.1 152.4h0M144.9 151.4h0M144.4 150.4h0M143.8 150.4h0M125.8 161.2h0M123.8 152.4h0M125.1 151.9h0M125.6 152.1h0M126.4 152.4h0M128.3 152.9h0M129 153.3h0M130.1 153.6h0M130.5 155.3h0M131.3 155.3h0M131.3 157.3h0M132 158.1h0M131.6 158.5h0M131.9 159.9h0M131 160.3h0M129.9 160.7h0M128.8 161h0M142.3 162.4h0M143.1 163.7h0M142.5 164.5h0M141.2 165h0M139.1 164.6h0M138.7 165h0M138.4 164.4h0M136.9 163h0M137.2 162.5h0M138.4 162h0M139.7 161.5h0M130.1 162.7h0M131.1 162.9h0M131.4 163.4h0M132 164.5h0M131.7 165.8h0M131.9 167.1h0M131 167.6h0M129.6 167h0M128.4 167.5h0M127.6 167.6h0M127.1 166.8h0M135.1 173.8h0M135.8 172.4h0M137.3 172.6h0M138.3 173.1h0M138.3 174.2h0M140.3 174.5h0M141 175.3h0M140.8 176.5h0M139.1 176.2h0M141.4 177.3h0M140.7 177.5h0M138.5 177.3h0M137.9 177.6h0M136.3 177.1h0M136.5 176.5h0M135.5 175.6h0M135.8 174.7h0M135 173.8h0M135.3 172.4h0M136.2 171.2h0M136.3 170.6h0M137.9 171h0M139.6 171h0M139.3 171.4h0M140.5 172.1h0M126.7 150.2h0M126.3 149.4h0M126 148h0M127.7 147.6h0M127.8 147h0M129.7 148.2h0M130.3 148h0M131 149.1h0M131.1 150.1h0M137.5 141.7h0M138.2 140.5h0M139.2 141.3h0M140.5 142.4h0M141 143.4h0M141.2 143.7h0M141.7 145.6h0M141.4 146.1h0M140.8 146.4h0M129 158.4h0M130 159h0M130.8 158.4h0M131.6 160.6h0M131.9 160.9h0M131.6 162.9h0M131 163.1h0M129.3 162.8h0M129 162.6h0M127.5 162.2h0M127.1 161.1h0M127.3 160.1h0M127.6 159h0M140.7 169.6h0M139.6 170.1h0M138.1 171h0M137.9 170.6h0M137.4 169.4h0M135.7 168.4h0M135.1 169h0M134.3 167.8h0M133.4 167.2h0M132.4 166.2h0M133.4 165.1h0M135 165.4h0M136 165.6h0M148.1 178.2h0M146.7 179.5h0M145.9 178.5h0M144.5 178.1h0M143.6 177.6h0M142.8 176.9h0M142.2 176.1h0M141.7 175.2h0M141.2 173.6h0M141.5 172.2h0M141.5 171.4h0M141.8 170.9h0M143.1 170.7h0M144.4 170.7h0M145.7 171.4h0M146.2 171.7h0M127.7 156.9h0M127.1 158.1h0M127.3 158.8h0M126 157.2h0M125.4 157.1h0M124.4 156.5h0M124.9 155h0M124.8 154.4h0M143.9 139.5h0M144.7 139.9h0M144.4 141.6h0M142.8 142.1h0M141.6 142.1h0M140.5 142.5h0M139.2 142.2h0M138.6 141.5h0M137.7 141.2h0M136.3 141.3h0M135.5 140.4h0M134.7 139.1h0M135.3 138.2h0M134.6 137.2h0M135.3 136.5h0M136.9 135.6h0M139.3 167.4h0M140 168.8h0M141.4 168.7h0M141.6 169.9h0M142.4 170.7h0M141.8 172.3h0M142.4 173h0M141.6 174h0M141.2 174.9h0M140.1 175.2h0M139.3 175.2h0M137.7 176.2h0M136.3 175.2h0M134.5 174.6h0M131.2 171.1h0M130.8 170.1h0M131.2 169.2h0M131.8 168.1h0M138.7 135.3h0M139.4 135.6h0M141.1 135.8h0M142.1 136.5h0M142.8 137.8h0M144 137.9h0M144.8 139.1h0M145.2 140.3h0M145.2 141.4h0M144.7 142.9h0M144.5 143.5h0M144.2 144.3h0M142.2 144.1h0M141.8 144.2h0M145.7 180.9h0M143.2 178.6h0M142.5 178.4h0M142.8 177.5h0M142.5 176.3h0M143.4 176.5h0M144.8 176.9h0M145.7 176.6h0M147.5 178h0M147.9 179.2h0M138.8 146.4h0M137.3 145.9h0M137.5 145.4h0M136.4 143.8h0M136.3 143.1h0M136.1 141.9h0M136.9 141.3h0M138.9 141.8h0M139.5 142.9h0M140.7 143.2h0M140.7 144.7h0M142.5 145.5h0M141.8 145.8h0M133.7 167.3h0M133.5 167.1h0M134.1 165.7h0M134.2 164.5h0M136.2 164.8h0M136.8 164.8h0M136.9 165.3h0M138.2 165.2h0M140.3 166.6h0M140.6 167.9h0M140.9 168.6h0M141.5 169.5h0M141.3 170.7h0M140.9 171.8h0M140.6 172.1h0M139.6 173.8h0M138.7 174.3h0M143.8 148.9h0M145.3 148.7h0M147.1 148.6h0M148 149.2h0M148.1 149.6h0M149.2 150.4h0M150.1 151.9h0M150.4 152.7h0M150.4 153.4h0M151.3 154.5h0M150.6 155.4h0M150.1 156.6h0M148.6 156.9h0M147.6 156.4h0M147.4 156.5h0M146.3 156.6h0M145.1 155.5h0M144.4 154.4h0M142.8 154.4h0M141.8 153h0M143.1 137.7h0M147.2 165.5h0M147.4 164.4h0M148.3 164.5h0M150 164.1h0M150.6 165.1h0M151.6 165.8h0M124.3 153.3h0M126.1 153.2h0M126.5 154.2h0M127 155h0M128.1 156h0M128.4 157h0M128.7 158.2h0M128.2 158.6h0M127.3 159.4h0M125.7 160h0M140.7 138.2h0M141.4 137.9h0M141.6 136.7h0M142.1 136.4h0M134.8 139.3h0M134.6 139.2h0M134.4 140.8h0M133 140.6h0M131.9 140.4h0M130.8 139.6h0M130.7 139.2h0M129.6 138.9h0M150.8 166.8h0M148.8 173.3h0M148 173h0M146.9 172.4h0M146.2 170.7h0M146.2 170.6h0M143.4 140.1h0M142.6 140.3h0M141.6 140.4h0M139.7 140.1h0M139.5 139.8h0M139.3 139.1h0M138 137.7h0M137.7 137.8h0M136.5 136.6h0M136.8 135.1h0M138.4 165.8h0M138.5 167h0M139.3 167.8h0M139.8 168.4h0M140.4 169.3h0M140.8 170.3h0M141.4 171.7h0M141 172.5h0M141.6 173.7h0M141.3 174.6h0M140 176.2h0M139.7 175.6h0M138.5 175.5h0M137.4 174.9h0M136.9 173.9h0M136.9 173.5h0M135.2 172.6h0M134.6 171.4h0M134.6 170.4h0M133.6 169.8h0M133.4 169.2h0M133.7 166.8h0M133.5 166.3h0M132.8 154.2h0M133.8 153.2h0M134.5 153.7h0M136.2 154.7h0M137.5 154.6h0M137.8 154.2h0M138.6 155.2h0M139.1 156.6h0M139.8 157.8h0M139.5 158.1h0M139.9 159.5h0M137.7 159.9h0M137.2 159.8h0M135.5 160.2h0M134.9 160.1h0M133.8 159.5h0M133.1 159.5h0M132.3 159.2h0M131.3 158.4h0M130.5 157.4h0M129.9 156.6h0M131.8 168.7h0M132.9 169.2h0M133.6 169.7h0M134.9 170.4h0M134.6 171.6h0M134.2 173.5h0M134.2 173.4h0M130.6 159.8h0M129.9 159.4h0M127.9 159.3h0M126.9 158.5h0M126.9 157.7h0M127.9 157h0M128.5 155.8h0M129.8 155.6h0M130.4 154.9h0M131.5 156.4h0M132 157.1h0M133.5 157.6h0M133.4 158.6h0M133.4 159.9h0M132.5 160h0M147.2 169.9h0M126.1 151.1h0M137.1 177.5h0M143.6 167.6h0M131.3 142.4h0M132.7 146.1h0M135.4 151.6h0M142.5 136.5h0M147 179.5h0M133.5 163.5h0M147.1 161.3h0M129.9 153.6h0M144.3 142.6h0M150.1 156.2h0M134.9 146.6h0M128.3 156.3h0M145.6 159.1h0M143.8 148.7h0M134.4 157.2h0M141.2 150h0M138.3 178.1h0M134.5 141.6h0M133.2 173.3h0M143.2 146.3h0M127 158.7h0M135 157.6h0M138.7 162.8h0M148.1 178.4h0M144 158h0M150.8 161.9h0M136.2 143.7h0M135.7 166.7h0M146.6 165.7h0M148.8 172.3h0M133.6 141h0M132.2 157.8h0M138.5 143.1h0M138.3 169.5h0M137.5 154.5h0M144.3 153.4h0M140.8 161h0M142.2 174.9h0M147.9 160.2h0M138.7 135.9h0M131.5 163.6h0M143.4 157.5h0M136.7 173h0M124.7 153.3h0M131.5 162.5h0M145.2 145.7h0M128.2 145h0M142.9 180h0M131.1 143.6h0M148.6 145.6h0M126.5 149.9h0M138.4 173.2h0M144.8 151.1h0M130.5 169.4h0M141.5 163.5h0M128.2 147h0M137.9 147.7h0M142 180h0M133.9 174.6h0M128.4 160h0M146.3 177.8h0M137.8 150.7h0M142.6 179h0M143.6 159.2h0M134.4 158h0M128.8 138.8h0M130.7 166h0M149 161.1h0M139.3 157.4h0M136.4 160h0M137.2 170.3h0M127.6 143.7h0M151.6 153.5h0M140.5 164.9h0M131.6 153h0M150.5 156.5h0M130.6 147.2h0M135.8 155.5h0M127.7 154.4h0M129.7 151.8h0M139.5 151.7h0M146.2 177.4h0M142.7 145h0M139.1 134.3h0M131.6 150.8h0M141 153.2h0M144.6 138.3h0M150.3 156h0M125.1 152.4h0M137.6 155.1h0M139.7 135.1h0M144.6 155.7h0M136 160.6h0M136.6 148.2h0M137 167.4h0M134.4 154.5h0M139.6 151.4h0M146.4 147.7h0M139.4 157.8h0M130.5 168.5h0M147.4 180.3h0M142.5 155.2h0M139.8 178.5h0M145.8 175.9h0M140.6 166.6h0M145.4 153.1h0M134.2 170.1h0M143.7 174.9h0M136.8 138.6h0M130.5 151.7h0M131.1 149.5h0M136.1 154h0M132.6 147.5h0M136 147.3h0M129 166.7h0M143.6 180.5h0" stroke="#848484" stroke-width="2.7" stroke-linecap="round" fill="none"/><path d="M108.1 91.3L108.8 91.4L109.7 91.6L110.8 91.8L111.8 92L112.7 92.4L113.4 92.9L114.1 93.4L114.6 94.1L115.1 94.7L115.5 95.3L115.8 95.9L116.1 96.5L116.2 97L116.2 97.6L116.1 98.2L115.6 98.8L114.9 99.5L114 100.1L113.4 100.7L113.2 101L113.5 101.1L114.3 100.9L115.2 100.7L116.3 100.5L117.3 100.5L118.3 100.8L119.5 101.1L120.6 101.6L121.8 102.2L123 102.8L124.2 103.5L125.5 104.3L126.7 105.2L127.9 106L128.8 106.8L129.5 107.5L130.1 108.3L130.6 109L130.9 109.7L131.1 110.3L131 110.9L130.7 111.5L130.3 112L130 112.6L130.1 113.1L130.6 113.6L131.4 114L132.4 114.4L133.4 114.9L134.5 115.4L135.5 115.9L136.6 116.5L137.8 117.1L139 117.9L140.3 118.9L141.8 120.4L143.6 122.3L145.3 124.3L146.8 126.1L147.9 127.3" stroke="#000" stroke-width="1.9" stroke-linejoin="round" stroke-linecap="round" fill="none"/><path d="M147.9 127.3L149.2 128.5L151 130.2L153.1 132.2L155.3 134.4L157.2 136.5L158.9 138.7L160.4 141.1L162 143.5L163.5 145.9L165.2 148L166.9 149.8L168.7 151.5L170.6 153L172.5 154.5L174.4 156L176.5 157.7L178.8 159.4L181.1 161L183.2 162.6L184.8 164L185.8 165.1L186.2 165.8L186.5 166.6L186.9 167.5L188 168.8L189.8 170.7L192.1 172.9L194.7 175.3L197.2 177.8L199.5 180.3L201.5 182.8L203.5 185.4L205.4 187.9L207.1 190.5L208.7 193L210.2 195.6L211.5 198.2L212.8 200.8L213.8 203L214.5 204.5" stroke="#000" stroke-width="1.5" stroke-linejoin="round" stroke-linecap="round" fill="none"/><path d="M135 128L133.4 128.5L132 129.5L130.6 130.7L129.3 132.3L128 134L126.7 136L125.4 138.4L124.2 140.9L123 143.5L122 146L121.1 148.5L120.2 151.1L119.5 153.6L118.9 156L118.5 158L118.4 159.6L118.5 160.9L118.8 162L119.2 163L119.5 164L119.7 164.8L119.9 165.5L120.2 166.1L120.7 166.9L121.5 168L122.7 169.5L124.1 171.2L125.9 173.2L127.8 175.1L130 177L132.5 178.8L135.2 180.6L138.2 182.5L141.3 184.3L144.5 186L147.8 187.7L151.3 189.3L154.9 190.9L158.5 192.5L162 194L165.4 195.5L168.6 197L171.9 198.5L175.4 199.8L179 201L183.1 202.1L187.5 203L192 203.8L196.2 204.5L200 205L203.4 205.4L206.6 205.8L209.5 206L211.7 205.8L213 205L213.2 203.5L212.5 201.5L211.2 199.1L209.6 196.5L208 194L206.4 191.4L204.5 188.7L202.4 185.9L200.2 183.1L198 180.5L195.7 178.1L193.4 175.8L191 173.6L188.5 171.3L186 169L183.4 166.5L180.7 163.9L178 161.3L175.4 158.8L173 156.5L170.9 154.6L169.1 152.8L167.3 151.2L165.7 149.7L164 148L162.4 146.2L160.9 144.4L159.4 142.6L157.8 140.7L156 139L153.9 137.3L151.6 135.5L149.1 133.8L146.7 132.3L144.5 131L142.4 129.9L140.4 129L138.5 128.3L136.7 127.9Z" stroke="#000" stroke-width="1.2" stroke-linejoin="round" stroke-linecap="round" fill="none"/><path d="M135.7 129.1L134.2 129.7L132.8 130.7L131.5 132L130.2 133.6L128.9 135.3L127.7 137.3L126.4 139.6L125.2 142.1L124.1 144.6L123.1 146.9L122.1 149.2L121.1 151.5L120.3 153.7L119.6 155.7L119.3 157.6L119.3 159.3L119.6 160.7L120.2 162.1L120.8 163.3L121.3 164.3L121.6 165.2L121.9 165.7L122.2 166.2L122.7 166.9L123.5 167.8L124.6 169.2L125.9 170.9L127.5 172.7L129.3 174.6L131.4 176.4L133.8 178.3L136.5 180.2L139.5 182.1L142.5 183.9L145.7 185.7L148.9 187.2L152.2 188.7L155.6 190.1L159.1 191.5L162.5 193L165.8 194.6L168.9 196.2L172.2 197.9L175.5 199.4L179.2 200.7L183.3 201.8L187.9 202.8L192.5 203.6L196.9 204.3L200.7 204.8L204.1 205.3L207.3 205.7L210.1 205.9L212.2 205.7L213.5 205L213.7 203.6L213 201.5L211.7 199.1L210 196.5L208.3 194L206.5 191.4L204.4 188.7L202.1 186L199.7 183.2L197.4 180.7L195.1 178.2L192.9 175.9L190.6 173.6L188.4 171.3L186 169L183.6 166.7L181 164.4L178.5 162.1L176 159.8L173.7 157.7L171.5 155.8L169.5 154L167.6 152.3L165.7 150.6L163.9 148.8L162.4 147L161 145.2L159.6 143.4L158.2 141.7L156.4 139.9L154.3 138.2L151.8 136.4L149.3 134.7L146.8 133.2L144.5 131.9L142.6 130.9L140.7 130L139 129.4L137.3 129Z" stroke="#000" stroke-width="1.2" stroke-linejoin="round" stroke-linecap="round" fill="none"/><path d="M136.4 130.2L135 130.7L133.7 131.6L132.5 132.7L131.4 134.1L130.2 135.7L128.9 137.5L127.6 139.6L126.3 141.9L125.1 144.3L124.1 146.5L123.2 148.8L122.4 151.1L121.7 153.4L121.2 155.6L120.9 157.5L120.8 159L120.9 160.4L121.2 161.6L121.6 162.6L121.9 163.6L122.1 164.4L122.2 165L122.3 165.6L122.7 166.2L123.6 167.3L124.8 168.7L126.3 170.4L128.2 172.2L130.3 174.1L132.5 176L135.1 177.9L137.9 179.8L140.9 181.7L144 183.6L147.1 185.4L150.3 187.1L153.6 188.6L156.9 190.1L160.2 191.6L163.6 193L166.9 194.5L170.2 196L173.6 197.5L177.1 198.9L180.7 200.1L184.8 201.3L189.1 202.3L193.5 203.3L197.7 204.1L201.3 204.7L204.5 205.3L207.5 205.9L210.1 206.2L212 206.1L213.1 205.4L213.1 204L212.2 201.9L210.8 199.3L209 196.7L207.4 194.1L205.8 191.6L204 188.9L202.1 186.3L200.1 183.6L198 181.1L195.8 178.6L193.5 176.2L191.1 173.8L188.6 171.5L186.1 169.2L183.5 166.8L180.8 164.4L178 162.1L175.4 159.8L173.1 157.7L171 155.8L169.2 154.1L167.5 152.5L165.9 150.9L164.4 149.3L162.9 147.7L161.6 146.1L160.3 144.5L158.9 142.9L157.2 141.2L155.1 139.4L152.8 137.5L150.3 135.6L147.8 133.8L145.6 132.5L143.5 131.5L141.6 130.7L139.7 130.3L138 130.1Z" stroke="#000" stroke-width="1.2" stroke-linejoin="round" stroke-linecap="round" fill="none"/><path d="M137.4 131.3L135.7 131.7L134.2 132.5L132.8 133.5L131.5 134.9L130.3 136.5L129.2 138.4L128.3 140.7L127.4 143.2L126.6 145.7L125.8 148L124.9 150.2L124 152.3L123.2 154.4L122.6 156.3L122.2 158L122.2 159.4L122.4 160.4L122.9 161.3L123.4 162.2L123.8 163.1L124.1 164L124.4 164.7L124.8 165.5L125.3 166.5L126.2 167.6L127.3 169L128.6 170.6L130.2 172.4L132.1 174.1L134.2 175.9L136.6 177.6L139.4 179.3L142.4 181L145.5 182.8L148.6 184.4L151.8 186L155.1 187.6L158.4 189.2L161.8 190.7L165.1 192.2L168.2 193.7L171.3 195.1L174.3 196.5L177.5 197.8L180.9 199.1L184.8 200.4L189 201.8L193.3 203.1L197.4 204.1L200.9 204.8L204.1 205.3L207 205.5L209.6 205.5L211.6 205.2L212.8 204.4L213.1 203.2L212.6 201.5L211.5 199.5L210.1 197.2L208.6 194.9L207 192.4L205 189.7L202.9 186.8L200.6 183.9L198.4 181.3L196.1 179.1L193.8 177L191.5 175L189.1 173L186.7 170.8L184.2 168.4L181.6 165.8L179 163.2L176.5 160.7L174.1 158.5L172 156.6L170.1 154.9L168.2 153.4L166.4 151.9L164.7 150.3L163.1 148.5L161.7 146.7L160.3 144.8L158.8 143L157.2 141.3L155.3 139.7L153.3 138.1L151.3 136.6L149.2 135.2L147.1 134L145.1 133.1L143.1 132.2L141.1 131.6L139.1 131.2Z" stroke="#000" stroke-width="1.2" stroke-linejoin="round" stroke-linecap="round" fill="none"/><path d="M140 134.6L138.6 135L137.3 135.8L136 136.9L134.9 138.2L133.7 139.6L132.6 141.1L131.5 142.9L130.5 144.8L129.6 146.7L128.8 148.6L128.1 150.6L127.6 152.6L127.2 154.7L126.9 156.5L126.8 158.1L126.9 159.4L127.2 160.4L127.7 161.2L128.2 162L128.7 162.9L129 163.7L129.4 164.4L129.8 165.2L130.4 166L131.4 167.1L132.6 168.4L134.1 169.9L135.8 171.5L137.7 173.2L139.7 174.8L141.9 176.4L144.3 178.1L146.8 179.8L149.5 181.5L152.3 183.2L155.3 184.8L158.5 186.4L161.8 187.9L165.1 189.5L168.3 191L171.4 192.5L174.3 193.9L177.3 195.4L180.4 196.8L183.6 198.1L187.1 199.4L190.8 200.7L194.6 202L198.2 203.1L201.5 203.9L204.5 204.7L207.5 205.4L210.2 205.9L212.3 206L213.5 205.5L213.6 204.2L212.8 202.2L211.5 199.9L209.9 197.4L208.2 194.9L206.6 192.5L204.7 189.8L202.6 187.2L200.4 184.6L198.3 182.2L196.3 180.1L194.2 178.2L192.1 176.5L189.9 174.6L187.6 172.6L185.1 170.3L182.5 167.8L179.8 165.2L177.2 162.8L175 160.7L173.1 158.9L171.5 157.4L170 156L168.6 154.6L167.1 153.1L165.6 151.5L164.2 149.8L162.7 148.1L161.1 146.4L159.4 144.8L157.4 143.1L155.1 141.4L152.8 139.7L150.5 138.3L148.4 137.1L146.5 136.1L144.7 135.3L143.1 134.8L141.5 134.5Z" stroke="#000" stroke-width="1.2" stroke-linejoin="round" stroke-linecap="round" fill="none"/><path d="M145 139.5L143.7 140L142.6 140.9L141.6 142L140.7 143.4L139.8 144.7L138.8 146.1L137.9 147.7L137 149.3L136.2 151L135.6 152.6L135.3 154.1L135.2 155.7L135.3 157.2L135.4 158.6L135.6 159.7L135.7 160.7L135.8 161.4L136 162L136.3 162.6L136.6 163.2L136.9 163.8L137.1 164.3L137.5 164.8L138.1 165.5L138.9 166.4L140.1 167.6L141.5 169L143.1 170.5L144.9 172.2L146.8 173.8L149 175.4L151.4 177L153.9 178.7L156.6 180.4L159.2 182L161.9 183.6L164.7 185.1L167.6 186.6L170.4 188.1L173.2 189.6L176 191.2L178.8 192.8L181.5 194.4L184.4 195.9L187.3 197.3L190.4 198.6L193.7 199.9L197.1 201.1L200.2 202.1L203 203L205.7 203.9L208.3 204.7L210.5 205.4L212.3 205.7L213.3 205.4L213.4 204.4L212.8 202.9L211.6 200.9L210.2 198.8L208.7 196.6L207.2 194.4L205.5 191.9L203.6 189.4L201.6 186.9L199.6 184.6L197.5 182.5L195.3 180.6L193.1 178.6L190.8 176.7L188.7 174.8L186.5 172.7L184.4 170.6L182.3 168.5L180.3 166.4L178.4 164.6L176.6 162.9L174.9 161.5L173.3 160.1L171.7 158.8L170.2 157.3L168.8 155.7L167.6 154.1L166.4 152.5L165.1 150.9L163.5 149.4L161.7 147.9L159.7 146.5L157.6 145.1L155.5 143.9L153.5 142.8L151.7 141.8L149.8 140.9L148.1 140.1L146.4 139.6Z" stroke="#000" stroke-width="1.2" stroke-linejoin="round" stroke-linecap="round" fill="none"/><path d="M150 144.6L148.8 145L147.6 145.7L146.5 146.7L145.5 147.8L144.7 149L143.9 150.2L143.3 151.6L142.7 153.1L142.3 154.5L142 155.7L141.7 156.8L141.6 157.7L141.6 158.6L141.7 159.4L141.8 160.3L142.1 161.1L142.5 162L143 162.8L143.5 163.6L144 164.3L144.2 164.8L144.4 165.1L144.6 165.4L145.1 165.9L145.8 166.6L147 167.6L148.5 168.8L150.2 170.1L152.1 171.5L154 172.9L156 174.4L158.1 175.9L160.3 177.5L162.6 179.1L164.9 180.6L167.4 182.1L169.8 183.6L172.4 185L174.9 186.5L177.5 188L180 189.5L182.5 191L185 192.5L187.5 194L190.2 195.4L193 196.8L196.1 198.2L199.1 199.5L202 200.7L204.5 201.7L206.8 202.7L208.9 203.7L210.8 204.6L212.2 205L213 204.9L213.1 204L212.5 202.6L211.4 200.7L210.1 198.7L208.8 196.8L207.3 194.8L205.6 192.7L203.8 190.5L201.8 188.3L199.9 186.2L198.1 184.2L196.1 182.3L194.2 180.4L192.2 178.5L190.2 176.6L188.2 174.7L186 172.6L183.9 170.7L181.9 168.8L180 167L178.3 165.5L176.7 164.2L175.1 163L173.7 161.8L172.3 160.5L171.1 159.1L170 157.6L169 156L167.8 154.6L166.5 153.1L164.9 151.8L163.1 150.4L161.2 149.1L159.3 147.9L157.5 147L155.9 146.1L154.3 145.4L152.8 144.9L151.4 144.6Z" stroke="#000" stroke-width="1.2" stroke-linejoin="round" stroke-linecap="round" fill="none"/><path d="M156.2 150.5L155.1 150.9L154 151.7L153 152.6L152.1 153.7L151.3 154.7L150.8 155.7L150.4 156.8L150.2 157.9L150 159L149.9 160L150 160.9L150.1 161.7L150.3 162.5L150.6 163.2L150.9 163.8L151.2 164.3L151.5 164.7L151.9 165L152.3 165.3L152.7 165.7L153 166.1L153.3 166.5L153.6 166.9L154.1 167.4L154.8 168.2L155.8 169.2L157.1 170.4L158.6 171.7L160.1 173L161.8 174.3L163.6 175.6L165.5 176.8L167.5 178.1L169.6 179.3L171.7 180.7L174 182.1L176.4 183.6L178.9 185.1L181.3 186.6L183.6 188.1L185.6 189.5L187.5 190.8L189.3 192.1L191.2 193.4L193.3 194.7L195.8 196.1L198.6 197.6L201.4 199.1L204.1 200.4L206.3 201.6L208.2 202.8L210 203.9L211.4 204.9L212.4 205.4L213 205.4L212.9 204.5L212.3 203.1L211.4 201.2L210.2 199.2L209 197.3L207.7 195.4L206.3 193.5L204.7 191.5L203.1 189.5L201.5 187.7L199.9 186.1L198.4 184.6L196.9 183.2L195.2 181.7L193.5 180.2L191.7 178.6L189.6 176.8L187.6 175L185.6 173.3L183.8 171.7L182.2 170.2L180.9 168.8L179.6 167.5L178.4 166.2L177.2 165L176 163.7L175 162.6L174 161.4L172.9 160.3L171.6 159.1L170 157.8L168.2 156.4L166.3 155L164.4 153.8L162.8 152.7L161.3 151.9L159.9 151.2L158.6 150.7L157.4 150.5Z" stroke="#000" stroke-width="1.2" stroke-linejoin="round" stroke-linecap="round" fill="none"/><path d="M155.9 137.6L157 139.2L158.5 141.5L160.2 144.2L162.1 146.8L163.9 149.1L165.6 150.9L167.4 152.6L169.3 154.1L171.2 155.6L173.1 157.1L175.2 158.8L177.5 160.5L179.8 162.1L181.9 163.7L183.5 165.1L184.5 166.2L184.9 166.9L185.2 167.7L185.6 168.6L186.7 169.9L188.5 171.8L190.8 174L193.4 176.4L195.9 178.9L198.2 181.4L200.2 183.9L202.2 186.5L204.1 189L205.8 191.6L207.4 194.1L208.9 196.7L210.2 199.3L211.5 201.9L212.5 204.1L213.2 205.6" stroke="#000" stroke-width="1.2" stroke-linejoin="round" stroke-linecap="round" fill="none"/><path d="M154.5 138.7L155.6 140.3L157.1 142.6L158.8 145.3L160.7 147.9L162.5 150.2L164.2 152L166 153.7L167.9 155.2L169.8 156.7L171.7 158.2L173.8 159.9L176.1 161.6L178.4 163.2L180.5 164.8L182.1 166.2L183.1 167.3L183.5 168L183.8 168.8L184.2 169.7L185.3 171L187.1 172.9L189.4 175.1L192 177.5L194.5 180L196.8 182.5L198.8 185L200.8 187.6L202.7 190.1L204.4 192.7L206 195.2L207.5 197.8L208.8 200.4L210.1 203L211.1 205.2L211.8 206.7" stroke="#000" stroke-width="1.2" stroke-linejoin="round" stroke-linecap="round" fill="none"/><path d="M163.9 155.3L163.6 155.6L163.2 155.9L162.7 156.2L162.2 156.4L161.7 156.6L161.2 156.7L160.5 156.7L159.9 156.7L159.2 156.7L158.5 156.5L157.8 156.4L157.1 156.2L156.3 155.9L155.5 155.6L154.8 155.2L154 154.8L153.3 154.4L152.5 153.9L151.8 153.3L151.1 152.8L150.4 152.2L149.7 151.6L149.1 151L148.5 150.3L148 149.6L147.5 149L147 148.3L146.6 147.6L146.2 146.9L145.9 146.2L145.7 145.6L145.5 144.9L145.4 144.3L145.3 143.7L145.3 143.1L145.3 142.6L145.4 142L145.6 141.6L145.8 141.1L146.1 140.7L146.4 140.4L146.8 140.1L147.3 139.8L147.8 139.6L148.3 139.4L148.8 139.3L149.5 139.3L150.1 139.3L150.8 139.3L151.5 139.5L152.2 139.6L152.9 139.8L153.7 140.1L154.5 140.4L155.2 140.8L156 141.2L156.7 141.6L157.5 142.1L158.2 142.7L158.9 143.2L159.6 143.8L160.3 144.4L160.9 145L161.5 145.7L162 146.4L162.5 147L163 147.7L163.4 148.4L163.8 149.1L164.1 149.8L164.3 150.4L164.5 151.1L164.6 151.7L164.7 152.3L164.7 152.9L164.7 153.4L164.6 154L164.4 154.4L164.2 154.9Z" stroke="#000" stroke-width="1.25" stroke-linejoin="round" stroke-linecap="round" fill="none"/><path d="M163.4 154.8L163.1 155.1L162.7 155.4L162.3 155.6L161.9 155.8L161.4 156L160.9 156.1L160.4 156.1L159.8 156.1L159.2 156L158.5 156L157.9 155.8L157.2 155.6L156.6 155.4L155.9 155.1L155.2 154.8L154.5 154.4L153.8 154L153.2 153.6L152.5 153.1L151.9 152.6L151.3 152.1L150.7 151.5L150.1 150.9L149.6 150.4L149.1 149.8L148.7 149.2L148.2 148.6L147.9 147.9L147.5 147.3L147.3 146.7L147.1 146.1L146.9 145.5L146.8 145L146.7 144.4L146.7 143.9L146.7 143.4L146.8 143L147 142.5L147.2 142.1L147.4 141.8L147.7 141.5L148.1 141.2L148.5 141L148.9 140.8L149.4 140.6L149.9 140.5L150.4 140.5L151 140.5L151.6 140.6L152.3 140.6L152.9 140.8L153.6 141L154.2 141.2L154.9 141.5L155.6 141.8L156.3 142.2L157 142.6L157.6 143L158.3 143.5L158.9 144L159.5 144.5L160.1 145.1L160.7 145.7L161.2 146.2L161.7 146.8L162.1 147.4L162.6 148L162.9 148.7L163.3 149.3L163.5 149.9L163.7 150.5L163.9 151.1L164 151.6L164.1 152.2L164.1 152.7L164.1 153.2L164 153.6L163.8 154.1L163.6 154.5Z" stroke="#000" stroke-width="1.25" stroke-linejoin="round" stroke-linecap="round" fill="none"/><path d="M162.8 154.4L162.6 154.6L162.3 154.9L161.9 155.1L161.5 155.3L161.1 155.4L160.7 155.5L160.2 155.5L159.7 155.5L159.1 155.4L158.6 155.4L158 155.2L157.4 155.1L156.8 154.8L156.2 154.6L155.6 154.3L155 154L154.4 153.6L153.8 153.2L153.3 152.8L152.7 152.4L152.2 151.9L151.6 151.4L151.1 150.9L150.7 150.4L150.2 149.9L149.8 149.4L149.5 148.8L149.2 148.3L148.9 147.7L148.6 147.2L148.4 146.7L148.3 146.2L148.2 145.7L148.1 145.2L148.1 144.7L148.1 144.3L148.2 143.9L148.4 143.5L148.5 143.1L148.8 142.8L149 142.6L149.3 142.3L149.7 142.1L150.1 141.9L150.5 141.8L150.9 141.7L151.4 141.7L151.9 141.7L152.5 141.8L153 141.8L153.6 142L154.2 142.1L154.8 142.4L155.4 142.6L156 142.9L156.6 143.2L157.2 143.6L157.8 144L158.3 144.4L158.9 144.8L159.4 145.3L160 145.8L160.5 146.3L160.9 146.8L161.4 147.3L161.8 147.8L162.1 148.4L162.4 148.9L162.7 149.5L163 150L163.2 150.5L163.3 151L163.4 151.5L163.5 152L163.5 152.5L163.5 152.9L163.4 153.3L163.2 153.7L163.1 154.1Z" stroke="#000" stroke-width="1.25" stroke-linejoin="round" stroke-linecap="round" fill="none"/><path d="M162.3 153.9L162.1 154.1L161.8 154.4L161.5 154.5L161.2 154.7L160.8 154.8L160.4 154.9L160 154.9L159.6 154.9L159.1 154.8L158.6 154.8L158.1 154.7L157.6 154.5L157.1 154.3L156.6 154.1L156.1 153.9L155.5 153.6L155 153.3L154.5 152.9L154 152.6L153.5 152.2L153 151.8L152.6 151.4L152.2 150.9L151.7 150.5L151.4 150L151 149.6L150.7 149.1L150.4 148.6L150.2 148.1L150 147.7L149.8 147.2L149.7 146.8L149.6 146.3L149.5 145.9L149.5 145.5L149.6 145.2L149.6 144.8L149.7 144.5L149.9 144.2L150.1 143.9L150.3 143.7L150.6 143.4L150.9 143.3L151.2 143.1L151.6 143L152 142.9L152.4 142.9L152.8 142.9L153.3 143L153.8 143L154.3 143.1L154.8 143.3L155.3 143.5L155.8 143.7L156.3 143.9L156.9 144.2L157.4 144.5L157.9 144.9L158.4 145.2L158.9 145.6L159.4 146L159.8 146.4L160.2 146.9L160.7 147.3L161 147.8L161.4 148.2L161.7 148.7L162 149.2L162.2 149.7L162.4 150.1L162.6 150.6L162.7 151L162.8 151.5L162.9 151.9L162.9 152.3L162.8 152.6L162.8 153L162.7 153.3L162.5 153.6Z" stroke="#000" stroke-width="1.25" stroke-linejoin="round" stroke-linecap="round" fill="none"/><path d="M161.8 153.4L161.6 153.6L161.4 153.8L161.1 154L160.8 154.1L160.5 154.2L160.2 154.2L159.8 154.3L159.4 154.3L159.1 154.2L158.7 154.2L158.2 154.1L157.8 153.9L157.4 153.8L156.9 153.6L156.5 153.4L156 153.2L155.6 152.9L155.2 152.6L154.7 152.3L154.3 152L153.9 151.6L153.5 151.3L153.2 150.9L152.8 150.5L152.5 150.1L152.2 149.8L152 149.4L151.7 149L151.5 148.6L151.3 148.2L151.2 147.8L151.1 147.4L151 147L150.9 146.7L150.9 146.3L151 146L151 145.7L151.1 145.4L151.3 145.2L151.4 145L151.6 144.8L151.8 144.6L152.1 144.4L152.4 144.3L152.7 144.2L153 144.2L153.4 144.1L153.8 144.1L154.1 144.2L154.5 144.2L155 144.3L155.4 144.5L155.8 144.6L156.3 144.8L156.7 145L157.2 145.2L157.6 145.5L158 145.8L158.5 146.1L158.9 146.4L159.3 146.8L159.7 147.1L160 147.5L160.4 147.9L160.7 148.3L161 148.6L161.2 149L161.5 149.4L161.7 149.8L161.9 150.2L162 150.6L162.1 151L162.2 151.4L162.3 151.7L162.3 152.1L162.2 152.4L162.2 152.7L162.1 153L161.9 153.2Z" stroke="#000" stroke-width="1.25" stroke-linejoin="round" stroke-linecap="round" fill="none"/><path d="M161.3 153L161.1 153.2L160.9 153.3L160.7 153.4L160.5 153.5L160.2 153.6L159.9 153.6L159.7 153.7L159.3 153.7L159 153.6L158.7 153.6L158.3 153.5L158 153.4L157.6 153.3L157.3 153.1L156.9 152.9L156.5 152.7L156.2 152.5L155.8 152.3L155.5 152L155.1 151.8L154.8 151.5L154.5 151.2L154.2 150.9L153.9 150.6L153.6 150.3L153.4 150L153.2 149.6L153 149.3L152.8 149L152.7 148.6L152.6 148.3L152.5 148L152.4 147.7L152.4 147.4L152.4 147.2L152.4 146.9L152.4 146.6L152.5 146.4L152.6 146.2L152.7 146L152.9 145.8L153.1 145.7L153.3 145.6L153.5 145.5L153.8 145.4L154.1 145.4L154.3 145.3L154.7 145.3L155 145.4L155.3 145.4L155.7 145.5L156 145.6L156.4 145.7L156.7 145.9L157.1 146.1L157.5 146.3L157.8 146.5L158.2 146.7L158.5 147L158.9 147.2L159.2 147.5L159.5 147.8L159.8 148.1L160.1 148.4L160.4 148.7L160.6 149L160.8 149.4L161 149.7L161.2 150L161.3 150.4L161.4 150.7L161.5 151L161.6 151.3L161.6 151.6L161.6 151.8L161.6 152.1L161.6 152.4L161.5 152.6L161.4 152.8Z" stroke="#000" stroke-width="1.25" stroke-linejoin="round" stroke-linecap="round" fill="none"/><path d="M160.7 152.5L160.6 152.7L160.5 152.8L160.3 152.9L160.1 152.9L159.9 153L159.7 153L159.5 153.1L159.2 153L159 153L158.7 153L158.5 152.9L158.2 152.8L157.9 152.7L157.6 152.6L157.3 152.5L157 152.3L156.8 152.2L156.5 152L156.2 151.8L155.9 151.6L155.7 151.4L155.4 151.1L155.2 150.9L155 150.6L154.8 150.4L154.6 150.2L154.4 149.9L154.3 149.6L154.1 149.4L154 149.1L153.9 148.9L153.9 148.6L153.8 148.4L153.8 148.2L153.8 148L153.8 147.8L153.8 147.6L153.9 147.4L154 147.2L154.1 147.1L154.2 146.9L154.3 146.8L154.5 146.7L154.7 146.7L154.9 146.6L155.1 146.6L155.3 146.5L155.6 146.6L155.8 146.6L156.1 146.6L156.3 146.7L156.6 146.8L156.9 146.9L157.2 147L157.5 147.1L157.8 147.3L158 147.4L158.3 147.6L158.6 147.8L158.9 148L159.1 148.2L159.4 148.5L159.6 148.7L159.8 149L160 149.2L160.2 149.4L160.4 149.7L160.5 150L160.7 150.2L160.8 150.5L160.9 150.7L160.9 151L161 151.2L161 151.4L161 151.6L161 151.8L161 152L160.9 152.2L160.8 152.4Z" stroke="#000" stroke-width="1.25" stroke-linejoin="round" stroke-linecap="round" fill="none"/><path d="M160.2 152.1L160.1 152.2L160 152.2L159.9 152.3L159.8 152.4L159.6 152.4L159.5 152.4L159.3 152.4L159.1 152.4L158.9 152.4L158.8 152.4L158.6 152.3L158.4 152.3L158.2 152.2L158 152.1L157.8 152L157.5 151.9L157.3 151.8L157.1 151.7L156.9 151.5L156.8 151.4L156.6 151.2L156.4 151.1L156.2 150.9L156.1 150.7L155.9 150.5L155.8 150.3L155.7 150.2L155.5 150L155.4 149.8L155.4 149.6L155.3 149.4L155.2 149.3L155.2 149.1L155.2 148.9L155.2 148.8L155.2 148.6L155.2 148.5L155.3 148.4L155.3 148.2L155.4 148.1L155.5 148L155.6 148L155.7 147.9L155.8 147.8L156 147.8L156.1 147.8L156.3 147.8L156.5 147.8L156.7 147.8L156.8 147.8L157 147.9L157.2 147.9L157.4 148L157.6 148.1L157.8 148.2L158.1 148.3L158.3 148.4L158.5 148.5L158.7 148.7L158.8 148.8L159 149L159.2 149.1L159.4 149.3L159.5 149.5L159.7 149.7L159.8 149.9L159.9 150L160.1 150.2L160.2 150.4L160.2 150.6L160.3 150.8L160.4 150.9L160.4 151.1L160.4 151.3L160.4 151.4L160.4 151.6L160.4 151.7L160.3 151.8L160.3 152Z" stroke="#000" stroke-width="1.25" stroke-linejoin="round" stroke-linecap="round" fill="none"/><path d="M195.9 193L195.7 193.2L195.4 193.4L195 193.5L194.5 193.6L194 193.7L193.5 193.6L192.9 193.5L192.2 193.4L191.5 193.2L190.8 193L190.1 192.7L189.3 192.3L188.5 191.9L187.6 191.4L186.8 191L186 190.4L185.1 189.9L184.3 189.2L183.4 188.6L182.6 188L181.8 187.3L181 186.6L180.2 185.9L179.5 185.1L178.8 184.4L178.2 183.7L177.6 183L177 182.2L176.5 181.5L176.1 180.9L175.7 180.2L175.3 179.6L175.1 179L174.9 178.4L174.7 177.9L174.7 177.4L174.7 176.9L174.7 176.5L174.9 176.1L175.1 175.8L175.3 175.6L175.6 175.4L176 175.3L176.5 175.2L177 175.1L177.5 175.2L178.1 175.3L178.8 175.4L179.5 175.6L180.2 175.8L180.9 176.1L181.7 176.5L182.5 176.9L183.4 177.4L184.2 177.8L185 178.4L185.9 178.9L186.7 179.6L187.6 180.2L188.4 180.8L189.2 181.5L190 182.2L190.8 182.9L191.5 183.7L192.2 184.4L192.8 185.1L193.4 185.8L194 186.6L194.5 187.3L194.9 187.9L195.3 188.6L195.7 189.2L195.9 189.8L196.1 190.4L196.3 190.9L196.3 191.4L196.3 191.9L196.3 192.3L196.1 192.7Z" stroke="#000" stroke-width="1.2" stroke-linejoin="round" stroke-linecap="round" fill="none"/><path d="M203 205.5L227 205.5" stroke="#000" stroke-width="1.3" stroke-linejoin="round" stroke-linecap="round" fill="none"/><path d="M71.8 198L71.9 197.4L71.9 196.7L72 196.1L72.1 195.3L72.2 194.3L72.3 193.1L72.4 191.7L72.6 189.9L72.8 187.7L73 185L73.3 181.7L73.6 177.8L73.9 173.3L74.3 168.4L74.7 163.4L75.1 158.2L75.5 153.2L75.8 148.4L76.2 143.9L76.5 140L76.8 136.5L77 133.4L77.2 130.4L77.4 127.6L77.6 125L77.8 122.5L78.1 120.1L78.3 117.8L78.5 115.4L78.8 113L79.1 110.6L79.5 108.1L79.8 105.7L80.2 103.3L80.6 101L81 98.9L81.4 96.8L81.8 94.9L82.1 93.1L82.4 91.6L82.6 90.3L82.9 89.2L83 88.3L83.2 87.6L83.4 87L83.5 86.5L83.6 86L83.8 85.6L83.9 85.1L84.1 84.6L84.3 84.1L84.5 83.6L84.6 83.1L84.8 82.7L85 82.3L85.2 82L85.4 81.6L85.6 81.3L85.8 81.1L86 80.8L86.2 80.6L86.4 80.4L86.6 80.2L86.8 80L87 79.9L87.2 79.8L87.4 79.7L87.7 79.7L87.9 79.6L88.1 79.6L88.3 79.6L88.6 79.6L88.8 79.6L89 79.7L89.3 79.8L89.5 79.8L89.8 79.9L90 80L90.3 80.2L90.5 80.3L90.7 80.4L91 80.6L91.2 80.8L91.4 80.9L91.7 81.1L91.9 81.3L92.2 81.5L92.4 81.8L92.7 82L93 82.3L93.3 82.5L93.5 82.7L93.7 82.7L93.9 82.8L94.1 83L94.4 83.2L94.8 83.6L95.3 84.1L95.9 84.8L96.7 85.8L97.7 87.1L98.9 88.6L100.2 90.4L101.7 92.3L103.2 94.4L104.8 96.5L106.4 98.7L108 100.8L109.6 102.9L111.1 104.9L112.6 106.8L114 108.8L115.6 110.8L117.1 112.8L118.6 114.9L120 116.8L121.5 118.8L122.9 120.6L124.2 122.4L125.5 124.1L126.5 125.4L127.1 126.3L127.6 126.9L127.9 127.3L128.3 127.8L128.8 128.6L129.7 129.7L131 131.5L133 134.1L135.6 137.6L139.3 142.5L144 148.8L149.5 156.1L155.5 164.1L161.7 172.4L167.9 180.6L173.8 188.4L179 195.4L183.4 201.2L186.6 205.5" stroke="#f00" stroke-width="3" stroke-linejoin="round" stroke-linecap="round" fill="none"/>
</g>
<rect x="71.5" y="38" width="184.5" height="167.5" fill="none" stroke="#000" stroke-width="1"/>
<path d="M71.5 205.5 v-3 M71.5 38 v3 M113.43 205.5 v-3 M113.43 38 v3 M155.36 205.5 v-3 M155.36 38 v3 M197.3 205.5 v-3 M197.3 38 v3 M239.23 205.5 v-3 M239.23 38 v3 M71.5 205.5 h3 M256 205.5 h-3 M71.5 181.57 h3 M256 181.57 h-3 M71.5 157.64 h3 M256 157.64 h-3 M71.5 133.71 h3 M256 133.71 h-3 M71.5 109.79 h3 M256 109.79 h-3 M71.5 85.86 h3 M256 85.86 h-3 M71.5 61.93 h3 M256 61.93 h-3 M71.5 38 h3 M256 38 h-3" stroke="#000" stroke-width="1" fill="none"/>
<text transform="translate(73.1 223.2) scale(0.94 1)" text-anchor="middle">0</text>
<text transform="translate(115.03 223.2) scale(0.94 1)" text-anchor="middle">50</text>
<text transform="translate(156.96 223.2) scale(0.94 1)" text-anchor="middle">100</text>
<text transform="translate(198.9 223.2) scale(0.94 1)" text-anchor="middle">150</text>
<text transform="translate(240.83 223.2) scale(0.94 1)" text-anchor="middle">200</text>
<text transform="translate(64 210.3) scale(0.94 1)" text-anchor="end">0</text>
<text transform="translate(64 186.37) scale(0.94 1)" text-anchor="end">500</text>
<text transform="translate(64 162.44) scale(0.94 1)" text-anchor="end">1000</text>
<text transform="translate(64 138.51) scale(0.94 1)" text-anchor="end">1500</text>
<text transform="translate(64 114.59) scale(0.94 1)" text-anchor="end">2000</text>
<text transform="translate(64 90.66) scale(0.94 1)" text-anchor="end">2500</text>
<text transform="translate(64 66.73) scale(0.94 1)" text-anchor="end">3000</text>
<text transform="translate(64 42.8) scale(0.94 1)" text-anchor="end">3500</text>
<text transform="translate(163.25 23.5) scale(0.94 1)" text-anchor="middle">Data Set 1</text>
<text transform="translate(163.75 241) scale(0.94 1)" text-anchor="middle">Density (1/km)</text>
<text transform="translate(15.9 121.75) rotate(-90) scale(0.94 1)" text-anchor="middle">Flow (1/h)</text>
</g>
<g>
<clipPath id="cT2"><rect x="344.5" y="38" width="185" height="167.5"/></clipPath>
<text transform="translate(473.5 52) scale(0.94 1)" text-anchor="end">Empirical data</text>
<text transform="translate(473.5 64.7) scale(0.94 1)" text-anchor="end">Simulation IDM</text>
<text transform="translate(473.5 77) scale(0.94 1)" text-anchor="end">Fundamental diagram</text>
<circle cx="497.5" cy="47.3" r="1.4" fill="#888"/>
<path d="M481 60 H514" stroke="#999" stroke-width="1.8" fill="none"/>
<circle cx="497.5" cy="60" r="0.9" fill="#000"/>
<path d="M481 72.3 H514" stroke="#f00" stroke-width="3" fill="none"/>
<g clip-path="url(#cT2)">
<path d="M397.3 122.6h0M397.3 122.3h0M397.2 120.7h0M397.2 120.9h0M398.2 119.9h0M398.1 119.4h0M397.7 117.9h0M397.7 117.4h0M398.3 116.8h0M398.1 116h0M398.7 115h0M398.9 114.6h0M398.5 113.7h0M399.2 112.9h0M399.9 111.6h0M399.6 111.1h0M399.8 110.6h0M400.1 109.6h0M400.3 109h0M400.4 107.9h0M400.8 107.3h0M400.6 106.4h0M400.8 106.4h0M401.3 105h0M401.3 104.3h0M401.6 103.7h0M401.4 102.6h0M401.9 102.1h0M402 101.1h0M402.1 101.1h0M402.9 99.7h0M404 98.8h0M403 98.8h0M404.6 98h0M404.8 97.5h0M404.7 95.7h0M405.5 96.2h0M406.5 95.4h0M407.2 96h0M407.7 96.3h0M408.4 96.9h0M408.3 97.3h0M408.6 98.3h0M409.1 99.4h0M408.8 100h0M409.2 100.9h0M409 101.5h0M408.7 102.4h0M408.2 102.7h0M408.4 104.2h0M408.5 104.8h0M408 105.1h0M407.8 106.1h0M407.4 106.8h0M407.3 107.8h0M406.8 108.7h0M407.1 109.8h0M407.2 110.2h0M407.1 110.8h0M405.8 111.7h0M406.1 112.1h0M405.6 113.7h0M405.4 113.9h0M405.4 114.9h0M405.4 115.9h0M404.5 116.2h0M404.4 117.1h0M404.2 117.7h0M404.6 118.4h0M403.8 119.6h0M404 119.4h0M403.2 120.2h0M403.2 121.3h0M407.3 120.9h0M408.1 120h0M407.4 119h0M407.6 119h0M408.2 117.2h0M408.5 117.5h0M408.4 115.6h0M408.8 115.4h0M409.1 115.1h0M408.6 113.8h0M409 112.3h0M409.3 112.3h0M409.7 111.3h0M410 110.5h0M410.1 109.8h0M410.1 108.7h0M410.4 108.3h0M410.9 107.5h0M410.5 107h0M411.2 106.1h0M411.1 105.1h0M411.6 104.2h0M412 103.3h0M412 103.3h0M412.5 102.9h0M413.3 101.4h0M414 100.7h0M414.6 100.1h0M415.1 99.6h0M415.1 99.7h0M416.3 98.6h0M416.5 97.9h0M417.3 98.2h0M418 98h0M418.4 98.6h0M419.3 99.1h0M420.4 99.4h0M420.3 100.2h0M420.7 100.7h0M420.8 101h0M421.2 102.3h0M421.5 103.1h0M421.2 104.2h0M421.2 105.3h0M421.1 105.7h0M421.2 106.5h0M421.2 107h0M421 107.6h0M420.6 108.6h0M420.3 109.6h0M420.2 110.5h0M419.5 111.6h0M419.6 111.8h0M419 112.8h0M418.4 113.2h0M418.4 113.7h0M417.5 114.2h0M417.5 115.2h0M417.1 116.1h0M416.7 115.9h0M416 116.7h0M414.9 117.3h0M414.6 118.5h0M414.3 119h0M413.1 119.9h0M413.1 120.2h0M412.5 120.4h0M411.3 120.8h0M410.2 121.2h0M410 121.9h0M409.9 122.2h0M409.2 122.6h0M419.5 114.6h0M419.7 113.7h0M420.2 113.7h0M420.5 113.1h0M421.3 112.3h0M421.7 112.3h0M422.6 111.6h0M422.5 110.9h0M423.3 109.9h0M423.7 109.7h0M424.2 108.5h0M424.6 108.3h0M425.1 107.4h0M425.9 107h0M425.8 106.2h0M427 106.1h0M427.6 105.1h0M427.8 104.7h0M428.8 104.4h0M429.4 103.2h0M429.9 103.5h0M430.6 102.6h0M431.1 101.9h0M431.8 101.8h0M432.1 101h0M433.1 100.7h0M433.9 101.1h0M434.7 101.8h0M435.4 102.2h0M436 102.6h0M436.6 103.1h0M437.5 103.7h0M437.8 103.9h0M438.5 103.7h0M439 103.2h0M440.1 103.2h0M440.4 102.8h0M441.2 102h0M441.7 102.3h0M443 102.6h0M442.6 104h0M442.5 104.6h0M443.4 105.1h0M443.2 106.6h0M443.3 106.4h0M442.9 107.7h0M442.9 108.3h0M443 109.1h0M442.9 110h0M442.8 110.8h0M443.5 111.9h0M443 112.1h0M442.8 113.5h0M442.7 114h0M442.8 114.8h0M443 115.9h0M442.3 116.5h0M442.5 116.9h0M441.9 118.3h0M441.9 118.8h0M442.2 120.1h0M442.3 120.5h0M441 120.2h0M441.5 121.6h0M440.8 122.3h0M440.4 124h0M439.9 124.3h0M440.1 124.8h0M439.8 125.1h0M439.1 125.8h0M438.9 127.2h0M437.9 127.5h0M438.2 128.2h0M437.3 128.4h0M437.5 130h0M435.8 130.5h0M436.1 130.5h0M435 131.1h0M434.8 131.7h0M434.4 132.7h0M433.3 133.7h0M432.8 133.9h0M432.8 134.2h0M431.4 135.2h0M431.1 135.7h0M431 135h0M430.4 136.5h0M429.7 136.6h0M429.1 137.7h0M428.3 138.1h0M427.7 137.5h0M426.7 138.1h0M425.7 138.5h0M425.2 139.5h0M425.1 138.9h0M423.4 139.6h0M423.5 139.8h0M422.1 140.3h0M422.1 140.7h0M421.2 140.8h0M423.9 110.9h0M424.2 112.4h0M423.7 113h0M424.4 114.1h0M424.3 114.7h0M424.5 114.9h0M425.2 116h0M425.2 116.5h0M425.5 117.9h0M426 118.6h0M426.7 118.3h0M427.5 118.8h0M428 118.3h0M428.7 118.4h0M429.9 118.8h0M430.5 118.5h0M431.3 117.9h0M432.1 117.8h0M433.2 117.6h0M433.6 117.3h0M435 117.7h0M435.5 118.3h0M436.2 117.9h0M437 117.6h0M437.7 117.7h0M438.5 118.1h0M439.7 117.8h0M440.3 118.4h0M440.8 118.5h0M441.6 119.3h0M441.8 119.4h0M443.2 120h0M443.5 120.4h0M444.5 120.8h0M445.4 121.1h0M445.4 122h0M446.5 122h0M447.4 122.7h0M447.3 122.5h0M448.5 122.8h0M448.8 123.7h0M449.7 124.5h0M449.8 125.1h0M450.4 125.5h0M451.1 125.8h0M451.7 126.6h0M451.7 126.8h0M452.9 127.5h0M453.7 128h0M453.3 129.2h0M454.5 129.7h0M455.1 130.1h0M455.6 131.3h0M455.8 131.7h0M456.2 132.4h0M456.6 132.8h0M457.5 133.4h0M457.5 134.6h0M458 134.9h0M458.2 135.9h0M458 135.9h0M458.7 137h0M459.8 138h0M459.9 138.7h0M459.8 139h0M460.6 140.1h0M461.4 141h0M461.4 141.4h0M461.4 141.4h0M461.9 142.8h0M397.5 123.5h0M397.6 121.8h0M397.9 121.1h0M397.2 119.8h0M398.2 119.1h0M398.2 118.2h0M398.1 117.5h0M398.4 116.2h0M398.8 115.1h0M398.8 114.9h0M398.9 113.3h0M399.2 111.9h0M399.4 111.1h0M399.5 110.6h0M400 108.9h0M400.2 108.1h0M400.5 107.5h0M400.6 106.7h0M401.1 105.5h0M401.1 104.6h0M401.1 103.7h0M402 103h0M401.9 101.7h0M402.8 100.6h0M402.4 99.7h0M403.6 99.1h0M404.1 98h0M404.1 97.3h0M405.6 96.6h0M406 96.1h0M407.2 95.8h0M407.4 95.9h0M407.8 97h0M408.9 97.8h0M408.8 99h0M408.9 99.7h0M408.7 100.9h0M408.8 101.4h0M408.1 103.1h0M408.7 103.1h0M408.2 104.6h0M407.5 105.7h0M407.6 106.4h0M407.7 107.9h0M407.8 108h0M407 109.5h0M406.6 110.3h0M406.7 110.9h0M405.7 112.4h0M406.3 112.6h0M405.9 114.3h0M404.9 115.8h0M405.2 116.2h0M405 117.1h0M404.8 118.4h0M404 118.6h0M403.4 120h0M403.4 121.2h0M407.6 121h0M407.9 120.2h0M408.2 118.4h0M408.1 117.8h0M408.6 116.8h0M408.9 115.3h0M408.3 115.1h0M409.2 113.1h0M409 112.3h0M409.3 112h0M409.7 110.9h0M410.1 109.9h0M410.6 108.4h0M410.1 108h0M410.8 107.6h0M410.8 106.2h0M411.1 105.2h0M412.4 103.9h0M412.7 103.3h0M412.7 102.3h0M413.2 101.5h0M414.2 101.3h0M414.3 100.4h0M415.2 99.7h0M416.2 99.1h0M416.8 98.3h0M417.5 98.2h0M418.5 98.9h0M419.2 98.8h0M420.3 99.9h0M420.7 100.4h0M420.7 101.4h0M421.1 102.9h0M420.9 103.6h0M421 104.3h0M421.4 105.6h0M421.3 106.4h0M420.7 107.8h0M420.2 108.5h0M420.3 109.5h0M420.4 110.2h0M419.9 111.4h0M419.3 112.2h0M419.3 112.9h0M418.2 114h0M418 114.7h0M416.9 115.6h0M416 116.6h0M415.5 117.2h0M415.1 117.5h0M414.7 118.7h0M414.1 119.3h0M412.6 119.9h0M412.1 120.5h0M411 121h0M410.8 121.9h0M410 122.7h0M408.5 123.2h0M434.1 137h0M435.1 137.1h0M436.9 137.6h0M438.1 137.9h0M440.2 138.2h0M441.2 138.3h0M442.8 138.1h0M444.5 137.9h0M446.7 137.2h0M447.3 137.9h0M448.9 137.8h0M450.4 138.6h0M451.8 139h0M453 139.6h0M454.6 140h0M456.3 140.4h0M457.8 141.1h0M459.1 141.5h0M459.9 142.8h0M418.5 141.6h0M418.9 141.4h0M420.2 141.4h0M420.7 140.6h0M422.3 140.8h0M422.6 140.7h0M424.3 140.8h0M424.9 141h0M426 139.6h0M426.6 140.1h0M428.3 139.4h0M428.4 138.8h0M429.8 138.8h0M430.2 138.6h0M431.3 138.6h0M432.3 138h0M433.8 137.4h0M435 137.2h0M419.1 152.2h0M419.9 152.1h0M421.4 151.6h0M422.4 152.1h0M422.9 151.8h0M423.5 152.2h0M424.5 152h0M425 152.6h0M425.7 152.3h0M426.6 152.9h0M428.5 153.3h0M429.2 153.1h0M430.3 154.2h0M430.7 154.1h0M431.1 154.1h0M431.8 155.8h0M432.4 155.9h0M433.3 156.9h0M434.4 156.6h0M434.4 157.5h0M435 158.6h0M435.4 159h0M436.4 158.8h0M437.1 159.3h0M438 160.2h0M440 160.5h0M439.4 161.6h0M440.5 161.3h0M441.3 162.7h0M442.9 162.4h0M442.9 162.6h0M443.4 162.5h0M443.8 162.1h0M445.2 161h0M446 160.6h0M447.2 159.4h0M446.9 158.8h0M447 159h0M447.8 158.1h0M447.7 156.7h0M448.7 155.5h0M449.7 155.8h0M449.7 154h0M450.2 154.1h0M450.5 153.3h0M450.3 152.5h0M451.8 151.8h0M451.8 150.6h0M451.5 149.2h0M452.4 149.1h0M453.3 148.3h0M452.5 147h0M453.2 146.5h0M380.1 120.2h0M380.8 120.1h0M382 120.8h0M382.1 121.4h0M383.2 121.9h0M383.5 121.6h0M384.2 123.5h0M385 123.6h0M385.2 124.1h0M385.5 125h0M385.7 126.4h0M385.7 126.6h0M386.6 126.4h0M387.4 127.6h0M388.2 128h0M389.8 128.1h0M390.5 127.2h0M390.9 127.7h0M392.1 127.2h0M392.4 127h0M394.2 126.7h0M393.8 126.1h0M395.3 125.8h0M396 124.5h0M396.6 124.9h0M419.3 123.5h0M419.3 123.5h0M418.1 122.7h0M417 121.5h0M416.3 120.8h0M415.8 120.4h0M415.2 119.5h0M415.1 119.7h0M413.9 118.6h0M415.2 129h0M416.8 129.1h0M417 130.5h0M418.5 130.8h0M418.3 132.3h0M418.3 132.8h0M418.3 133.5h0M418.7 135.2h0M417.8 135h0M416.7 135.9h0M415.7 135.2h0M414.8 136.2h0M413.7 135.2h0M412.6 134.9h0M412.3 134.2h0M410.9 133h0M410.8 131.9h0M410.7 130.6h0M410.8 130.6h0M411.8 129.6h0M412.1 129h0M409.4 131.2h0M408.8 131.6h0M407.4 130.6h0M406.8 130.4h0M405.4 130.7h0M404.9 129.5h0M404.5 128.4h0M403.3 128.6h0M404.1 126.5h0M403.7 125.5h0M404.6 124.5h0M409.1 147.5h0M407.9 147.7h0M406.2 146.6h0M405.1 146.2h0M404.1 145.8h0M403.3 142.8h0M404.4 142.4h0M404.9 142.2h0M405.6 143.4h0M407.4 143.7h0M409 143.6h0M409.8 127.4h0M408.4 128.3h0M408 128.7h0M406.3 129.3h0M405.8 129.3h0M404.8 128.6h0M403.9 128.5h0M402.6 127.7h0M402 126.7h0M405.6 120.7h0M405.9 120.1h0M406.3 120.3h0M407.9 120.1h0M408.6 121.7h0M409.4 121.8h0M410.5 122.5h0M410 123.5h0M411.4 137.2h0M411.5 136.7h0M411.9 135.6h0M412.1 135.9h0M414.4 134.7h0M414.9 135h0M416 135.6h0M416.6 135.7h0M417.7 136.1h0M418.3 136.4h0M419.3 136.7h0M407.4 119.5h0M407.9 120.4h0M408.6 120.9h0M407.5 122.3h0M407.3 122.5h0M406.3 122.5h0M405.1 122.6h0M404.7 122.1h0M403 121.8h0M403.3 121.2h0M419.6 122.2h0M417.4 121.8h0M417.7 122.2h0M416.4 120.5h0M417.2 120h0M415.7 119.2h0M400.8 132.9h0M400.5 132.3h0M401 130.9h0M401.6 131h0M403 131.2h0M403.4 130.6h0M405.5 130.3h0M405.4 130.8h0M407 132.2h0M407.1 131.6h0M408.3 132.4h0M408.5 133.1h0M410.1 133.2h0M410.8 134.6h0M411.7 134.7h0M411.8 135.7h0M412.2 136.7h0M411.2 136.8h0M410 137.5h0M409.5 137.6h0M420.2 128.9h0M419.4 129.4h0M418.5 128.2h0M417.6 127.3h0M417.7 127.3h0M417.6 126.1h0M416.3 125.5h0M416.5 124.4h0M416.6 123.6h0M418 122.9h0M419.1 123.9h0M420.1 123.7h0M414.8 146h0M414.3 144.8h0M413.2 144.6h0M412.5 144.1h0M412.2 143.5h0M412.6 142.4h0M411.6 141.1h0M411.3 139.6h0M411.9 138.8h0M412.1 138h0M413 137.5h0M413.9 136.5h0M413.9 137.2h0M415.3 136.7h0M417.2 137.5h0M410.9 134.5h0M410.7 133h0M410.5 132.3h0M410 131.2h0M410.7 131.1h0M411.1 130.6h0M412.7 129.9h0M412.9 129.7h0M414.5 129.4h0M415.3 129.9h0M416.3 130.6h0M417.4 130.7h0M417.7 130.4h0M418.8 131.4h0M419.4 132.4h0M419 135.9h0M418.8 136.5h0M406 129.1h0M407.5 127.3h0M407.5 127.2h0M409.2 127.4h0M410 126.8h0M411.1 126.7h0M412.5 126.9h0M412.5 127.8h0M413.4 128.5h0M414.2 128.2h0M414.6 129.5h0M414.6 131h0M414.9 131.3h0M413.1 132.2h0M412.2 132.5h0M411.6 133.1h0M410.4 133h0M409.2 132.6h0M412.9 131.2h0M413.3 132.6h0M413.2 134h0M413.7 134h0M413.2 135.1h0M412.8 136h0M411.7 136h0M410.3 136h0M410.1 135.6h0M409.2 134.4h0M408 134.8h0M407.9 133.9h0M407.3 132.2h0M406.7 132h0M406.2 131.2h0M407.1 130h0M407.2 129h0M407.8 129h0M416.5 126h0M416.7 127.1h0M417.8 127.4h0M418 128.3h0M419.4 129.5h0M418.8 130.4h0M418.8 131.2h0M418 131.8h0M416.5 132.5h0M415.7 132.9h0M415.6 132.2h0M402.3 125h0M403.1 123.8h0M404.6 123.6h0M405.3 124.5h0M406.1 124.7h0M407.9 125.1h0M408 124.6h0M408.8 125.2h0M410.2 126.1h0M409.9 125.4h0M410.9 127.7h0M411.5 128.3h0M412.4 129.3h0M412.4 130.8h0M411.9 131.6h0M412.5 132.5h0M411.4 133.7h0M410.1 133.4h0M409.8 134.1h0M408.9 134.3h0M408.2 134.7h0M407.4 134.6h0M405.7 134.7h0M405.1 134.6h0M403.8 134.1h0M403.6 133.5h0M402.8 133.4h0M401.9 133h0M401 132h0M400.7 131h0M411.2 128.4h0M411.9 128.8h0M412.9 129.4h0M413.3 129.8h0M414.2 131h0M413.8 131.4h0M413.1 132.6h0M412.8 133.7h0M412.3 133h0M410.7 133.4h0M409.8 133.1h0M408.6 133.5h0M408.2 133.3h0M407.6 131.9h0M406.2 132.2h0M406.1 130.8h0M405 130.8h0M404.2 129.6h0M403.2 128.9h0M403.7 128.3h0M409.2 132.6h0M407.9 132.5h0M407.4 132.9h0M406.1 132.3h0M405.4 131.6h0M404.5 131.4h0M403.8 131h0M403.1 130h0M401.7 129.7h0M401.5 128.2h0M402.8 124.6h0M403.1 125h0M404.4 125.1h0M405 125.7h0M405.9 126.5h0M407.2 127.5h0M407.6 127.4h0M408.5 128.4h0M409.2 129h0M410.2 130.2h0M410.3 130.7h0M406.1 125h0M407.1 123.9h0M407 122.8h0M407.6 122.2h0M409.2 122.4h0M409.7 122.4h0M411.3 121.9h0M411.4 123.1h0M412.3 123.1h0M413.4 124.7h0M414.2 123.7h0M415 125.7h0M415.8 126.2h0M415.5 126.4h0M416.4 128.2h0M416.8 129.4h0M416.7 130h0M416.1 131.4h0M416.5 131.7h0M415 133.2h0M413.9 133.7h0M412.9 133.4h0M412.3 133.5h0M411.5 133h0M410.6 132.7h0M409.2 131.9h0M408.2 131.6h0M419.1 136.6h0M418.1 138h0M417.7 136.1h0M416.6 135.4h0M415.8 135.3h0M415.2 134.2h0M414.7 133.3h0M414.5 132.5h0M414.9 130.9h0M403 141.7h0M404.8 142.8h0M405.2 142.7h0M406 143.2h0M406.8 144h0M407.6 145h0M408 146.2h0M407.4 146.9h0M406.6 119.9h0M406.9 121.2h0M407.3 122h0M408.1 122.7h0M408.2 123.2h0M408.1 124.3h0M408.2 125.2h0M407.8 125.6h0M406.1 125.9h0M405.5 124.7h0M405.1 124.4h0M404.6 124.1h0M404 122.8h0M403.1 121.6h0M407.2 120.6h0M408.2 121.7h0M408.8 122.5h0M407.9 123.8h0M407.7 124.5h0M407.4 125h0M406.5 126.4h0M405.9 126.4h0M404.7 126.6h0M404 126.6h0M403.1 126.9h0M401.8 126.2h0M411.1 133h0M412 133.7h0M412.8 134.1h0M413.7 135.6h0M414.9 135.7h0M414.9 136.2h0M415.5 137.5h0M416 137h0M415.7 138.8h0M416.3 140.1h0M414.9 140.8h0M414.1 140.4h0M412.9 140.5h0M412.5 138.9h0M412.4 139h0M411.5 136.9h0M411.5 136.7h0M410.6 136.7h0M410.3 134.5h0M410.6 119.5h0M418.8 133.1h0M413.8 123.4h0M415.7 141.5h0M401.7 130.6h0M418.7 125h0M407.3 141.6h0M407.5 138.2h0M415.3 130.8h0M403.6 142.4h0M412.3 149.4h0M406.9 139.4h0M409.9 137.5h0M414.2 123.1h0M408.2 124.2h0M418.3 130.8h0M413.1 148.9h0M407.3 142.2h0M412.4 124.6h0M401.3 128.4h0M409.3 137.8h0M413.9 140.1h0M401.8 135.5h0M418.8 134.1h0M406 127.6h0M407.4 131.2h0M408.1 132.5h0M417.7 138h0M403.2 143.1h0M416.3 130.2h0M417.8 132.3h0M412.5 130.7h0M414.6 119.1h0M417.4 135.9h0M418.2 128.8h0M407.2 124h0M414.7 139.9h0M417.2 135.2h0M409.5 121.8h0M418.1 124.1h0M419.1 136.6h0M401.6 128.8h0M414.6 132.8h0M407.6 128.9h0M409.4 142h0M409.2 117.7h0M408.9 118h0M407.7 120.1h0M408.4 120.9h0M408.3 120.8h0M407 121.8h0M406.8 122.8h0M407.5 123.1h0M407.1 124.8h0M406.4 125.9h0M406.1 126h0M405.9 127.1h0M405.5 128.6h0M405.1 128.4h0M405.6 130.1h0M405.1 130.9h0M404.6 131.6h0M404.8 132.6h0M404 133h0M403 134.7h0M401.9 135.7h0M403.8 136.1h0M402.5 136.4h0M402.4 137.7h0M402.4 138h0M402.2 139.2h0M401.5 140.4h0M401.4 140.5h0M401.4 142h0M417.4 115.6h0M416.4 116.7h0M416 118.1h0M417.1 118.1h0M415.1 118.7h0M415.6 120.7h0M414.6 120.5h0M414.4 121.1h0M414.5 122.6h0M414.1 124h0M414 123.9h0M413.2 124.9h0M412.4 125.5h0M412.6 125.8h0M412.4 128h0M412.6 128.6h0M411.6 129.3h0M410.6 130.9h0M410.2 131.2h0M409.9 132.5h0M409.3 132.9h0M409.6 132.5h0M410.1 133.5h0M409.1 135.9h0M408.3 135.3h0M407.2 136.9h0M408.5 137.4h0M407.3 138.3h0M407.7 139.5h0M406.7 139.6h0M406 141h0M406.4 141.4h0M403.7 174.6h0M403.4 174.8h0M403 175.8h0M393.4 168.8h0M393.2 167.4h0M394 165.8h0M394.6 165.6h0M396.5 165.6h0M397.2 164.8h0M398.4 165.5h0M399.8 165.5h0M401.1 166h0M401.7 167.8h0M402.7 168.5h0M403.1 169.2h0M403.7 171h0M417 161.7h0M416.5 162.7h0M415.7 161.8h0M414.2 160.4h0M413.2 160.3h0M413.2 159.1h0M412.7 158.1h0M412.1 156.9h0M396.4 146.3h0M397.7 145.7h0M398.5 146.2h0M399.4 147.7h0M400.9 147.3h0M401.2 148.4h0M401.3 149.8h0M402.5 151.1h0M402.3 152.3h0M400.5 153.5h0M399.4 153.4h0M459.7 181.1h0M458.4 181h0M457 182.2h0M455.7 182.5h0M455.2 182.4h0M453.3 182.5h0M451.9 181.9h0M450.9 182h0M449.8 181.4h0M449.1 181.1h0M448.5 179.6h0M447.3 179h0M446.8 177.9h0M445.9 176.7h0M447.1 175.8h0M447.9 174.9h0M449 174.3h0M449.8 174.6h0M451.7 173.5h0M452.3 174.1h0M454.2 175h0M455.1 175.3h0M409.1 165.7h0M410.1 166.5h0M410.5 168.7h0M409.9 168.7h0M408.5 170.9h0M409.5 171.1h0M407.5 171.8h0M407.1 171.8h0M405 171.8h0M404.3 171.7h0M402.9 171h0M402 170.9h0M400.8 169.9h0M399.6 168.7h0M398.9 167.5h0M398.9 166.8h0M398.2 165.4h0M398.6 164.7h0M398.2 163.7h0M400.3 162.5h0M401.4 161.9h0M402.5 162.6h0M403.8 162.3h0M405 163.1h0M405.7 163.1h0M407.3 163.5h0M449.6 191h0M449 189.8h0M448 189h0M448.4 187.4h0M449.4 187.2h0M450.2 187.2h0M451.3 188.2h0M452.9 188.4h0M454.1 189.2h0M454.3 190.1h0M455.1 191.7h0M466.9 201.5h0M467.3 202.3h0M468.4 203.9h0M468.6 203.8h0M457.8 204.6h0M457.5 203.2h0M456.5 202.5h0M457.9 201.4h0M457 200.9h0M457.7 199.4h0M458.7 198.9h0M459.2 197.2h0M461 196.9h0M462.2 197.5h0M413.1 177.5h0M414.1 178.8h0M412.4 179.8h0M407.8 177.9h0M407.5 177.4h0M407.3 176.3h0M408.1 175.5h0M409 175.3h0M411.1 175.5h0M438 171h0M438.9 172.1h0M440 173.3h0M440 174.4h0M439.1 175.2h0M438.3 176h0M436.8 175.9h0M435.4 175.8h0M434.7 175.3h0M433.4 174.6h0M432.4 172.9h0M432.9 171.7h0M433.1 171.2h0M451.6 176.9h0M453.4 177.8h0M453.8 178.1h0M455.1 179.1h0M456.3 179.7h0M456.7 180.7h0M457.2 182.3h0M456.2 182.8h0M455.5 183.3h0M454.9 182h0M453 181.8h0M451.9 181.2h0M451.7 180.1h0M450.6 179.2h0M449.4 178.1h0M458.9 196.9h0M458 196.4h0M457.2 195.5h0M457.1 194.7h0M455.8 193.7h0M457.3 192.2h0M458.1 191.8h0M459.5 192.9h0M460.6 193.1h0M461.4 194.5h0M462.4 195h0M462.4 196.1h0M430.5 172.1h0M428.9 171.9h0M428.8 171.9h0M427.5 170.2h0M426.4 168.7h0M425.9 167.7h0M425.6 166.5h0M426 165.7h0M426.2 165.7h0M459 184.5h0M459 184.7h0M460.1 184.9h0M461.4 185.8h0M462.7 186.2h0M463.3 187.7h0M464.2 188h0M465.3 189.4h0M465.9 190.5h0M466.5 192.3h0M464.4 192.3h0M464 192.4h0M413.7 175.7h0M415.1 176.7h0M415.1 178h0M414.7 178.6h0M414.1 179.7h0M413 180.4h0M410.8 179.7h0M407.9 178.3h0M407.7 177.8h0M408 176.1h0M408.6 175.2h0M409.9 174.6h0M410.6 174.3h0M426.6 169.6h0M424.8 168.7h0M424.3 168.2h0M423.3 166.8h0M422.8 165.6h0M423.6 164.7h0M424.6 164.2h0M425.6 164.8h0M427.1 164.7h0M428.5 165.1h0M429.3 166.3h0M386.5 148.8h0M389.3 142.1h0M390.2 143h0M392.1 143.1h0M392.6 143.6h0M392.8 143.6h0M394.4 146.5h0M394.6 146.7h0M395.4 148.3h0M395.8 149h0M395.6 150.1h0M395.6 151.7h0M439.6 165.3h0M438.2 165.8h0M437.2 165.7h0M435.9 165.4h0M434.3 164.1h0M434.1 163.1h0M433.1 162.3h0M432.8 160.4h0M432.6 160.4h0M432.8 159.4h0M433.9 157.9h0M416.8 179.4h0M416.7 180.9h0M415.7 181h0M414.1 180.8h0M412.8 180.2h0M412 180.1h0M411.2 179.6h0M411 178.7h0M386.1 154.5h0M388.2 153.6h0M389.2 154.7h0M390 154.5h0M390.1 156h0M390.8 156.8h0M393 157.2h0M393.4 158.4h0M393.6 159.4h0M393.3 161.2h0M392.1 162h0M457.1 202.8h0M456.6 201.3h0M457.1 200.3h0M458 200.4h0M459 200.1h0M460.4 199.5h0M461.3 201h0M462.5 201.4h0M427.3 187.3h0M427.5 187.6h0M428.2 186.1h0M428.7 184.2h0M429.9 183.5h0M431.1 183.5h0M432 183.9h0M434 184.1h0M434.3 185.8h0M434.8 186.1h0M435.9 187.4h0M436.6 188.1h0M436.2 189.1h0M394.8 149.2h0M394.1 150.4h0M393 151.5h0M391.3 151h0M390.7 149.8h0M389.6 148.8h0M389.4 147.9h0M388.8 146.4h0M389.5 145.8h0M389.5 144.6h0M449 170.5h0M448.4 169.7h0M447.4 170.1h0M405.3 148.9h0M404.4 148.2h0M402.8 148.6h0M401.7 148.3h0M401.6 147.8h0M399.4 146.6h0M400 145.7h0M400.4 145h0M402 145.1h0M403 145.3h0M404 146.4h0M405.8 146.2h0M406.2 147h0M400.4 139.1h0M401.3 138h0M402.3 138.4h0M403.7 139.3h0M404.6 139.1h0M405.8 140.2h0M406.3 141.3h0M406.8 143.1h0M405.2 142.1h0M403.7 142.6h0M403.4 142.5h0M402 142h0M401.4 141.3h0M400.2 140.3h0M425.5 174.2h0M426 173h0M427.9 173.4h0M429.3 172.5h0M430.1 172.7h0M431.6 173.2h0M432 173.5h0M433.2 174.7h0M433.6 175.8h0M434.5 177.1h0M435 178.3h0M434.4 179.2h0M434.2 180.2h0M408.8 170h0M410.1 168.8h0M410.6 168.5h0M412.2 168.1h0M413.9 168.8h0M414.3 168.8h0M416.1 170h0M416.1 170.8h0M416.6 171.8h0M418.2 173.7h0M418.2 174.3h0M418.9 174.9h0M417.9 176.4h0M416.7 177.9h0M415.8 178.4h0M415.1 178.9h0M413.1 178.4h0M413 178.2h0M412.1 177.8h0M410.9 176.8h0M410.3 175.2h0M409.3 174.4h0M409.3 173.3h0M443.1 173.4h0M441.7 173.4h0M440.8 173.4h0M439.1 173.3h0M437.9 172.5h0M436.2 172.3h0M436 171.8h0M434.3 171.1h0M434.5 170.1h0M433.4 169.1h0M432.6 168.5h0M434.5 167.4h0M435.4 167.4h0M436.4 167h0M437.5 167.5h0M438.8 167.5h0M440.5 167.5h0M441.6 167.6h0M427.8 185.8h0M405.8 158.5h0M428.9 157.9h0M427.7 165h0M408.5 154.3h0M400.3 142.8h0M409.2 142.6h0M428.7 184.5h0M407.9 166.5h0M447.4 191.3h0M410 175.9h0M447.3 171.9h0M430.3 165.3h0M446.2 194.1h0M462.2 204h0M437.1 187.3h0M402.5 144.7h0M421.4 158h0M430.3 178.1h0M399.1 165.2h0M417 171.5h0M449.6 180.4h0M401.3 168.2h0M434.5 171h0M428.2 169.3h0M402.4 171.8h0M436.4 172.4h0M393.3 149.2h0M445 184.7h0M415.6 148.1h0M425.6 150.8h0M435.9 168.6h0M452.2 197.3h0M407.5 170.9h0M449.2 190.2h0M450 184.2h0M390 163.3h0M417.6 149.4h0M433.8 183.4h0M445.2 197.6h0M392.3 141h0M391.3 141.1h0M390.7 142.4h0M390.9 143h0M389.6 144h0M389.1 144.6h0M389.8 145.8h0M388.3 145.4h0M388.3 147.1h0M388 148.4h0M388.1 148.5h0M387.2 149.3h0M386.5 150.3h0M386.7 151.5h0M385.8 151.5h0M386.7 153.4h0M385.5 154.5h0M384.4 154.4h0M385 156.1h0M385 156.4h0M385.5 157.1h0M384.7 157.9h0M384.8 158.9h0M384.3 160.3h0M383.9 160.4h0M384 161.8h0M383.8 162.8h0M382.9 163h0M383.7 163.9h0M383.8 165.2h0M383.5 166h0M383.9 166.3h0M383.8 168.2h0M384.2 169h0M384.2 170.3h0M384.9 170.4h0M384.6 171.3h0M384.7 172.7h0M385.6 172.8h0M385.1 174h0M387 174.8h0M387.5 173h0M388.5 173.2h0M390 173.3h0M388.9 172.5h0M389.4 172.9h0M391.2 170.8h0M391.6 171.1h0M392.7 170h0M393.2 169.6h0M392.7 168.2h0M393.6 167.5h0M393.3 166.7h0M394 165.6h0M394.3 165.3h0M394.8 163.8h0M394.6 162.7h0M395.3 162.7h0M395.4 161.8h0M395.3 160.5h0M395.6 160h0M395.2 159.4h0M396.3 158.7h0M396.5 156.9h0M396.3 156.6h0M396.6 155.7h0M397.1 154.6h0M396.5 153.7h0M397.6 152.7h0M397.2 151.7h0M397.4 151.2h0M397.8 149.7h0M397.3 148.8h0M397.7 148.8h0M397.6 147.7h0M398.4 146.3h0M397.9 145.6h0M398.5 146.9h0M397.7 147.6h0M397.1 148.5h0M396.6 149.4h0M397.8 150.9h0M396.7 150.4h0M396.3 152.3h0M395.7 152.8h0M396.6 154.4h0M395.4 154.2h0M395.8 155.6h0M394.2 156.4h0M394.5 157.2h0M395 158.2h0M393.9 158.9h0M394.2 159.5h0M394.6 160.2h0M393.8 161.7h0M392.6 162.7h0M393.1 163.5h0M393.5 166h0M393.1 164.9h0M392.5 165.9h0M392.7 166.4h0M392.2 168.1h0M392 168.4h0M392.6 170h0M392.7 170.8h0M392.6 171h0M391.9 172.3h0M391.9 172.8h0M392 174.3h0M391.6 175.2h0M392 175.3h0M392.2 175.9h0M392.1 177.5h0M392.8 177.8h0M393.3 179.2h0M393.9 180.1h0M394.3 181h0M394.6 181.3h0M395.1 182h0M395.7 181.9h0M396.4 183.4h0M397.9 183.7h0M398.7 183.4h0M399.7 184.7h0M400.3 184.4h0M400.4 185h0M401.5 185.5h0M402.1 185.6h0M402.6 186.4h0M404.3 186.5h0M405.4 186.5h0M405.8 186.2h0M406.5 186.4h0M407.7 186.3h0M408.1 185.7h0M409.1 184.6h0M409.3 184h0M410.4 183.3h0M411.5 183.2h0M411.3 182.5h0M410.7 180.9h0M411.8 179.8h0M411.7 179.4h0M411.8 177.9h0M412 177.8h0M412.6 176.4h0M412.1 175.2h0M412.5 174.5h0M411.8 174.4h0M411.8 173.3h0M411.6 172.8h0M410.8 171.7h0M410.4 170.7h0M410.1 169.5h0M410 169.1h0M410.1 168.5h0M408.7 167.6h0M409 166.9h0M407.8 166.1h0M408.7 164.2h0M407.5 164.2h0M407.2 164.2h0M407.2 162.7h0M405.9 162h0M406 160.5h0M406.2 159.6h0M405.9 159.4h0M405.2 158.2h0M405 157.1h0M404.7 156.8h0M403.6 156.2h0M403.8 154.4h0M404.4 153.5h0M403.7 152.8h0M403.6 152.7h0M402.8 151.2h0M403 150.6h0M402.1 149.3h0M401.8 149.2h0M390 149.9h0M390.3 151.6h0M389.5 151.6h0M389.5 153h0M389.6 153.6h0M389.1 154.4h0M389.6 155.5h0M389.1 155.9h0M389.4 157.4h0M388.6 158.1h0M388.5 159h0M388.6 160h0M388.4 160.9h0M389.2 161.7h0M389.2 162.1h0M389.8 163.9h0M388.9 163.9h0M388.6 164.3h0M390.2 167.4h0M389.6 166.9h0M390 167.4h0M389.4 169.2h0M389.4 170.4h0M390.3 170.3h0M390.4 171.3h0M391.5 172.6h0M391 173.4h0M391.8 174h0M391.2 174.7h0M392 174.8h0M392.5 176.4h0M392.2 176.9h0M393.6 177.9h0M393.5 179.3h0M394.5 178.9h0M395.4 179.7h0M395.8 180h0M396.3 180.9h0M397.5 181.1h0M397.7 181.2h0M399.1 181.1h0M400.9 180.8h0M400.1 181.4h0M402.1 182.7h0M447.9 159.1h0M447.2 158.2h0M446.6 157.6h0M445.1 156.4h0M445 155.8h0M444.8 154.1h0M444.9 153.4h0M445.7 152.4h0M447.1 153.1h0M441.2 166.4h0M440.3 165h0M439.5 164.3h0M439.6 163.3h0M437.8 162.5h0M438.6 161.4h0M438.9 159.1h0M440.1 159.6h0M441.3 159.1h0M442 159.5h0M442.8 159.8h0M443.8 161.7h0M433.1 158.6h0M434.6 159h0M435.1 158.9h0M435.8 160.4h0M437.6 161.6h0M437.9 162h0M436.6 162.7h0M436 162.8h0M434.6 163.4h0M435.3 146h0M434.8 147.3h0M433.3 146.9h0M432.9 145.9h0M432.3 145.3h0M430.7 144.2h0M430.9 142.8h0M434.5 146.2h0M433.9 146h0M433.4 144.1h0M437.9 146.8h0M436.9 147.8h0M436.3 146.6h0M447 153h0M445.4 153.4h0M444.5 151.5h0M444 151.4h0M442 150.8h0M432.9 148h0M433.8 148.4h0M434.8 150.1h0M434.4 150.9h0M434.7 152.1h0M433.7 152.5h0M432.5 152.8h0M430.7 153.5h0M430.3 153.2h0M428.6 152.6h0M427.5 151.5h0M427.2 150.8h0M427.4 149.5h0M423.3 152.6h0M424.8 152.7h0M425.6 153.6h0M426.5 153.9h0M426.6 156.1h0M426.7 157.4h0M425.8 157.1h0M423.5 149.4h0M422.9 148h0M421.7 146.8h0M422.8 145.2h0M423 144.6h0M424.3 143.8h0M424.8 143.4h0M425.8 143.7h0M427.1 143.7h0M428 144.2h0M428.9 145.2h0M430.3 146.5h0M431.3 148.6h0M430.6 149.7h0M423.8 153.5h0M424.5 154.2h0M426.1 155h0M427.1 155.4h0M427.5 156.1h0M428 157.2h0M428.3 158.7h0M428.5 159.7h0M437.4 159.2h0M436.3 159.1h0M434.9 158.8h0M434.7 157.5h0M433.4 156.8h0M433.3 155h0M435.1 155.1h0M435.7 154.6h0M437.2 154.4h0M438.2 156.1h0M439 155.7h0M440.2 157.3h0M441.3 158.1h0M429.6 158.2h0M428.9 159.3h0M426.7 158.5h0M431.9 159.7h0M432.8 159.6h0M434.9 160.3h0M435.6 160.6h0M435.7 161.7h0M436.5 163.4h0M435.5 163.7h0M425.8 145.5h0M426.4 146.2h0M425.7 148.1h0M424.8 149h0M424.1 148.7h0M423.2 149.4h0M421.4 149.1h0M420.4 148.3h0M419.5 147.4h0M418.9 146.9h0M417.4 145.4h0M417.6 144.1h0M438.1 147.4h0M437.2 146.9h0M436.4 145.8h0M435.5 164.6h0M435.4 163.9h0M436.5 163.1h0M437.9 163.5h0M438.9 163.1h0M439.1 164.6h0M440.3 165.5h0M440.1 166.8h0M422.9 149.6h0M437 149.7h0M433.1 157.1h0M430.6 156h0M434.8 144.5h0M437.2 153.5h0M427.4 146h0M431.7 158h0M443.8 157.8h0M444.3 150.7h0M442.4 149.5h0M422.1 148.7h0M437.7 157.9h0M446 150.8h0M438.6 152.4h0M441.9 157.9h0M447.8 156.8h0M443.2 156.3h0M435.2 146h0M444.8 161.9h0M438.9 154.7h0M420.5 148.3h0M440.8 157.4h0M443.7 159.4h0M437.6 157.2h0M432.2 143.6h0M430.5 145.5h0M422.9 150.6h0M426 155.3h0M446.7 158h0M440.8 158.5h0M438.6 162.6h0M438.3 150.9h0M432.7 154h0M429.4 152.1h0M439.1 149.9h0M435.6 152.3h0M433.9 151h0M447 161.5h0M427.5 156.6h0M457.7 154.4h0M458.8 155.3h0M459.9 155.6h0M459.6 155.7h0M460.8 157h0M461.5 157.3h0M461.6 158.6h0M462.1 160.3h0M461.2 161.4h0M460.6 160.3h0M459.3 161.6h0M458.2 161.7h0M457.3 161h0M456.9 160.9h0M455.3 160.4h0M454.1 159.7h0M453.8 158.1h0M453.5 158.2h0M453 157.7h0M452.4 156.7h0M455.5 148.8h0M455 148.3h0M454.2 147.1h0M454.1 146h0M455.6 146h0M456.9 147.1h0M457.1 147.5h0M459.3 148.5h0M458.2 148.4h0M453.7 145.9h0M454.6 147.3h0M454.4 147.6h0M454.9 148.9h0M454.4 150.1h0M453.7 151.3h0M452.7 150.3h0M454 151.8h0M455.2 152h0M455.9 153.6h0M455.9 154.1h0M455.2 154.6h0M454.5 156h0M453.8 155.1h0M452.5 154.7h0M451.5 154.5h0M451.1 153.6h0M449.9 152.3h0M450.6 151.7h0M451.7 151.4h0M464.3 152.9h0M464 153.2h0M462.7 152.3h0M461.1 151.3h0M461.2 150.6h0M460.5 150.2h0M460.2 149h0M460.6 148.4h0M461.6 148.1h0M462.2 148.5h0M449.8 161.5h0M448.5 160.8h0M447.6 160.7h0M446.7 160.7h0M445.8 159.4h0M445.9 158h0M444.8 157.6h0M446.1 154.5h0M446.7 155.4h0M448.2 156.1h0M447.5 157h0M447.6 158.2h0M447 158.7h0M445.9 158.9h0M444.5 158h0M456.8 148.5h0M455.9 148.3h0M456 146.7h0M456.8 145.7h0M457.9 146.3h0M458.3 145.4h0M459.2 146.6h0M456.6 164h0M455.7 163.3h0M455 163.1h0M454.7 161.3h0M454.6 160.6h0M454 160.2h0M454.2 158.9h0M455.6 159h0M456.6 158.9h0M457.4 160h0M458.3 160.7h0M458.3 162.4h0M459 162.8h0M458.6 163.2h0M458.5 164.5h0M459.3 151.7h0M459.8 151.2h0M459.9 150.7h0M461.7 150.2h0M463.3 150.1h0M463.9 150.7h0M464.4 151h0M465.5 157.6h0M461.9 159.6h0M461.6 159.2h0M460.3 158.5h0M460.5 158h0M459.6 157.5h0M458.4 156.7h0M458.8 155.6h0M458.6 154.4h0M459.6 153.3h0M460.8 153.2h0M461.3 153h0M462.7 153.1h0M463.5 153.5h0M464.1 153.6h0M464.9 154.2h0M465 159.2h0M463.9 159.7h0M459.9 160.2h0M459.7 160.9h0M458.6 161.6h0M457.8 162h0M456.4 161.5h0M456.2 160.6h0M455.2 160.2h0M454.4 158.9h0M453.4 159h0M452.8 157.7h0M452.9 156.8h0M453 155.6h0M453.5 154.7h0M454.7 154.4h0M455.1 153.8h0M456.6 154.5h0M456.9 154.5h0M458.6 154.4h0M459.1 155.2h0M451.9 148.2h0M453.1 148.8h0M453.9 148.9h0M455 149.6h0M454.8 150.2h0M455.8 150.8h0M456.1 152h0M456.1 152.4h0M456.7 153.7h0M456 154.2h0M455.4 154.2h0M454.4 153.7h0M453 153.4h0M452.5 152.4h0M452.4 151.1h0M452.3 150.6h0M454.8 157.4h0M452.6 148.8h0M454.7 167.8h0M452.2 156.9h0M458.2 161h0M457.2 151.8h0M453.8 164.8h0M455 151.1h0M451.4 157.7h0M449.7 154h0M461.4 149.8h0M460.4 165.6h0M457.9 158.4h0M457.9 163.2h0M447.4 157.1h0M446.9 161.2h0M449.4 157.5h0M462.1 153.6h0M456.2 158.5h0M461.7 150.6h0M461.9 160.6h0M457 151.2h0M451.3 154.8h0M450.8 160.6h0M451.3 148.1h0M454 150.8h0M457.5 152h0M459.9 162.8h0M463.6 156.2h0M451.9 156.1h0M449.5 158.4h0M452.5 157.8h0M453 154.5h0M449.1 155.6h0M458.9 164.9h0M449.3 154.2h0M452 160.1h0M449 153.1h0M452.2 156.4h0M454 161.9h0M458.3 156.8h0M457 151.1h0M453.5 149.3h0M461.1 152.6h0M455.1 153.1h0M457.9 155.4h0M452.9 160.7h0M455.6 167.5h0M457.7 164h0M456 161.8h0M459.2 159.2h0M450.1 162.9h0M461.6 158.8h0M462.6 156.3h0M459.6 147.2h0M452.3 165.9h0M462.6 164.4h0M456 153.5h0M462.7 154.9h0M458.8 155.7h0M461.7 153.1h0M460.4 165.8h0M456.9 145.4h0M456.9 145.7h0M465.5 158.9h0M461.9 163h0M459 146.1h0M453.5 146.3h0M461.7 165.1h0M449 162.7h0M462.9 149h0M449.5 163.7h0M461.5 163.8h0M447.1 152.8h0M452.4 147.4h0M454.9 163.6h0M461.9 147.9h0M447.6 161.7h0M457.7 162.6h0M459.3 146.1h0M450.2 163.1h0M461.4 149.8h0M460.8 152.9h0M464 156.8h0M454.6 160.8h0M484.8 192.9h0M497.1 194.5h0M475.5 175.2h0M470.8 172.2h0M465.8 169.8h0M492.1 182h0M486.4 178.8h0M466.1 177.2h0M475.4 155h0M479.8 203.6h0M492.6 202.2h0M493.4 199.4h0M462 165.6h0M466.1 160.7h0M476.3 175.9h0M491.9 182h0M479.9 154.4h0M466.5 173.3h0M489.9 181.6h0M475.1 166.1h0M489.8 198.5h0M466.1 161.5h0M476.7 168.9h0M489.7 203.5h0M474.6 160.7h0M489.8 200.9h0M495.1 188.3h0M483.4 172.3h0M483.6 174.7h0M485.6 172h0M482.5 161.9h0M464.1 178.2h0M474.4 152.8h0M493.9 185h0M482.9 193.4h0M476.8 160.5h0M470.3 162.6h0M474.1 196.2h0M474.6 171h0M483.2 172h0M477.1 149h0M473.9 189.2h0M474 182.6h0M478.1 162.2h0M473.5 182.8h0M480.2 159.1h0M478.9 178.9h0M478.4 197.1h0M490.5 202.6h0M466.4 149.5h0M490.3 193.9h0M477.5 176.8h0M464.9 168.3h0M470.5 163.5h0M489.7 199.7h0M473.3 169.1h0M466.9 140.6h0M462.8 162.7h0M474.7 167.5h0M471.6 188.2h0M486.1 201.7h0M489.1 175.2h0M487.3 202h0M473.6 182.4h0M484.1 185.1h0M464.4 164.9h0M486.4 167.8h0M493.6 189.7h0M474.8 196h0M476.9 166.5h0M477.7 182.5h0M471.4 175.4h0M488.2 178.1h0M469.1 156.3h0M468.8 142.7h0M469.1 171.8h0M485.5 176h0M482.1 158.8h0M480.5 161.1h0M473.9 190.2h0M490.8 192h0M492.5 195.4h0M493.7 204h0M465 172h0M490.7 181.6h0M469.5 155h0M474.6 166.7h0M468.2 165.4h0M490.7 195.1h0M473.6 168.2h0M476.1 179.2h0M473.4 184.5h0M474.4 157.1h0M478.7 192.3h0M466.9 164.1h0M470 167.9h0M472.9 186.7h0M476.5 173.8h0M482.4 172.9h0M473.7 144.7h0M493.1 194.9h0M475.5 190.3h0M493.1 181.2h0M485.4 182.7h0M487.5 184.3h0M471.9 165.9h0M484.3 162.7h0M467.7 185.5h0M487.2 201h0M465.2 151.4h0M474.9 180.6h0M465.5 175.6h0M490.8 178.4h0M486.9 194h0M482.9 177.4h0M446.9 145.9h0M468.2 140.5h0M472.8 139.8h0M473.4 144.7h0M473.9 146.7h0M477.4 146.7h0M484.8 203.9h0M484.3 201.8h0M483.2 201.5h0M483.8 199.8h0M483.6 196.6h0M483.4 196.2h0M483.8 194.3h0M484 191.8h0M485.6 192.6h0M486.3 191.7h0M486.8 189.9h0M489.2 189.6h0M490.4 189.6h0M492.7 188.5h0M494.2 190.1h0M495 189h0M498 188.6h0M498 192.6h0M497.2 191.7h0M499.6 194.5h0M501.1 194.9h0M501.1 197.3h0M500.7 198.2h0M500.3 200.3h0M500 201.5h0M499.2 203.9h0M498 204.4h0M492.8 204.8h0M495.9 190.5h0M495.1 199.6h0M500.1 203.9h0M485.8 188.1h0M487.7 190.9h0M485.6 204.6h0M490.9 199.5h0M479.4 192.9h0M490.9 193.2h0M485.2 192.8h0M494.4 193.6h0M483.8 204.8h0M480 196.4h0M496.9 201.9h0M495 193.2h0M491.6 188.9h0M487.8 199.9h0M494.8 203.5h0M495 201.5h0M491.9 204h0M487.8 199.9h0M480.6 204.1h0M478.5 190.4h0M484.3 197.1h0M482.5 199.3h0M497.4 200.5h0M489.2 190.5h0M481.3 199.7h0M494.7 189.4h0M488.9 200h0M487.4 194.5h0M491.8 188.4h0M487.4 196.3h0M486.4 202h0M487.7 188.4h0M481.4 190.6h0M495.9 191.9h0M494.5 199.8h0M482.1 198.7h0M498.1 192.8h0M487.2 190.3h0M485.7 188h0M495.5 195.6h0M486.8 203.6h0M486.1 204.8h0M481.1 197.2h0M498.8 203.1h0M495.6 200h0M480.9 196.7h0M498.8 200h0M488.1 202.8h0M500.9 199.3h0M482.6 192.2h0M489.7 202.2h0M497.9 193.5h0M487.6 187.7h0M487.8 193.3h0M479.4 192h0M380.9 168.7h0M384.9 169.2h0M383.1 166h0M381.4 171.4h0M383.5 172h0M384.2 171.3h0M384.8 170.5h0M381.8 167.8h0M382 167.4h0M383.2 172.3h0M383.7 170.2h0M383.4 168h0M383.3 169.7h0M383.3 167.7h0M384.1 167.9h0M384.4 171h0M381.3 165.8h0M383.2 165.3h0M383.1 166.8h0M382.7 166.7h0M383.3 165.5h0M383.5 171.1h0M384 170h0M384.1 171.3h0M385 169.3h0M382.7 168.9h0M383.4 171.7h0M384.3 172.8h0M385.4 173.8h0M385.5 174.8h0M385.8 175.7h0M386.3 175.9h0M386.6 177.1h0M387 178.2h0M388.1 178.8h0M388 180.1h0M389 180.3h0M389.8 181.5h0M390.4 182.5h0M390.4 183.4h0M391.4 183.8h0M391.5 180.6h0M392.2 182.4h0M392.5 184.9h0M394.1 187.6h0M394.2 189.3h0M395.4 191.3h0M396 193.6h0M396.9 196h0M398.2 197.9h0M399.8 199.9h0M400.9 201.3h0M402.5 202.5h0M405.4 203.8h0M407.1 204.4h0M411.2 188.5h0M412.5 190.5h0M413.4 191.9h0M414.2 194h0M414.2 196.3h0M413.1 198.9h0M414.6 200.1h0M416.6 201.5h0M420.9 190.2h0M421.8 191.8h0M423.5 193.3h0M424.9 194.2h0M426.8 196.7h0M428.2 198.4h0M430 200h0M432 201.2h0M434 201.8h0M436 203.1h0M408.1 205.2h0M409.1 205.4h0M409.9 205.4h0M411.1 205.6h0M411.8 205.3h0M413 205.4h0M414.1 205.4h0M415.1 205.5h0M416 205.6h0M416.9 205.2h0M418 205.5h0M418.9 205.4h0M419.9 205.3h0M421.2 205.6h0M422 205.3h0M423.1 205.4h0M424 205.4h0M424.9 205.4h0M426.1 205.4h0M427.1 205.3h0M428 205.4h0M428.8 205.5h0M430.2 205.4h0M431 205.6h0M431.9 205.5h0M433 205.3h0M434 205.5h0M435.2 205.6h0M436 205.3h0M436.9 205.4h0M438.3 205.3h0M439.1 205.5h0M440.2 205.3h0M440.9 205.3h0M441.9 205.3h0M443.1 205.6h0M444.1 205.3h0M444.9 205.5h0M446 205.5h0M446.7 205.2h0M447.9 205.5h0M449 205.3h0M450.1 205.4h0M450.8 205.5h0M452 205.3h0M453.1 205.5h0M454.1 205.3h0M454.9 205.4h0M455.9 205.5h0M457 205.2h0M457.8 205.4h0M458.8 205.3h0M460.1 205.4h0M461.1 205.4h0M462 205.5h0M463.2 205.5h0M464.2 205.4h0M465.1 205.2h0M466 205.5h0M467.1 205.5h0M468 205.6h0M469 205.5h0M470.1 205.3h0M470.9 205.2h0M472 205.1h0M473.2 205.4h0M474.1 205.6h0M475.1 205.3h0M476.1 205.4h0M476.9 205.6h0M477.9 205.5h0M479.1 205.4h0M479.9 205.4h0M481 205.5h0M482.3 205.3h0M483.1 205.6h0M484 205.5h0M485.1 205.5h0M486 205.4h0M486.9 205.6h0M487.9 205.4h0M489.1 205.3h0M490 205.3h0M490.9 205.3h0M491.9 205.5h0M493.1 205.5h0M493.9 205.4h0M495.1 205.1h0M496 205.5h0M497.2 205.5h0M498 205.3h0M499 205.3h0M500.1 205.3h0M501.1 205.5h0M502.1 205.3h0M502.9 205.6h0" stroke="#848484" stroke-width="2.7" stroke-linecap="round" fill="none"/><path d="M371.6 125.2L371.7 125.9L371.8 126.8L372 127.9L372.3 129L372.8 129.8L373.5 130.4L374.3 130.9L375.2 131.4L376.3 131.8L377.3 132.1L378.4 132.4L379.5 132.5L380.7 132.7L381.9 132.9L383.1 133.2L384.3 133.6L385.4 134.2L386.6 134.8L387.7 135.4L388.8 136L390 136.6L391.2 137.3L392.3 138L393.3 138.6L394 139" stroke="#000" stroke-width="1.3" stroke-linejoin="round" stroke-linecap="round" fill="none"/><path d="M406 125.2L405.9 125.9L405.9 126.8L405.7 127.9L405.4 129L404.8 129.8L403.8 130.4L402.3 131L400.8 131.4L399.3 131.8L398 132.1L397 132.4L396 132.6L395.2 132.8L394.5 132.9L394 133" stroke="#000" stroke-width="1.3" stroke-linejoin="round" stroke-linecap="round" fill="none"/><path d="M392.5 133.5L394.2 135.2L396.6 137.7L399.4 140.5L402.3 143.4L405 146L407.6 148.4L410.4 150.8L413.1 153.2L415.4 155.1L417 156.5" stroke="#000" stroke-width="5" stroke-linejoin="round" stroke-linecap="round" fill="none"/><path d="M416 155.5L428 166" stroke="#000" stroke-width="3" stroke-linejoin="round" stroke-linecap="round" fill="none"/><path d="M391.9 130.6L395.2 132.8L399.9 136.5L405.2 141L410.5 145.5L414.9 149.3L418.3 152.2L421.2 154.9L423.9 157.3L426.5 159.7L429.2 162.2L432.1 164.8L435 167.5L438 170.1L440.8 172.7L443.6 175.2L446.2 177.6L448.8 179.8L451.3 182L453.7 184.2L456 186.3L458.2 188.4L460.4 190.5L462.4 192.6L464.3 194.5L466 196.3L467.5 198L468.9 199.6L470.2 201.1L471.2 202.4L472 203.5L472.6 204.3L473.1 204.8L473.4 205.1L473.4 205.3L473 205.4L472.2 205.5L470.9 205.4L469.4 205.3L467.7 205L466 204.6L464.3 204L462.6 203.4L460.7 202.5L458.6 201.6L456 200.6L452.9 199.4L449.4 198.1L445.7 196.7L441.8 195.3L437.9 193.9L433.9 192.5L429.8 191.1L425.7 189.6L421.6 188.1L417.7 186.7L414 185.3L410.3 183.9L406.8 182.5L403.5 181L400.5 179.5L397.7 177.9L395 176.3L392.6 174.6L390.6 172.8L389 170.9L388 168.8L387.4 166.5L387.2 164.1L387.3 161.7L387.6 159.4L388.4 157.1L389.7 154.7L391.2 152.4L392.5 150.1L393.3 147.9L393.4 145.8L393 143.7L392.4 141.7L391.8 139.8L391.5 138L391.1 135.9L390.4 133.6L390 131.6L390.3 130.4Z" stroke="#000" stroke-width="1.3" stroke-linejoin="round" stroke-linecap="round" fill="none"/><path d="M391.2 134.1L394.4 136.2L399 139.8L404.4 144.1L409.7 148.4L414.1 152L417.5 154.8L420.4 157.2L423.1 159.4L425.7 161.7L428.5 164.1L431.6 166.6L434.7 169.3L437.9 171.9L440.9 174.5L443.8 177L446.4 179.3L448.9 181.4L451.3 183.5L453.6 185.5L455.8 187.5L458 189.5L460.1 191.5L462.2 193.4L464 195.2L465.7 196.9L467.2 198.5L468.6 200.1L469.8 201.5L470.8 202.7L471.6 203.7L472.2 204.3L472.7 204.7L473.1 204.9L473.1 205L472.7 205L472 205L470.8 204.8L469.3 204.6L467.7 204.2L466.1 203.8L464.5 203.3L462.8 202.7L461.1 202L459 201.1L456.5 200.1L453.6 198.8L450.4 197.3L446.8 195.7L443.1 194L439.4 192.4L435.5 190.9L431.5 189.5L427.4 188L423.4 186.5L419.6 185L416 183.5L412.4 181.9L409 180.3L405.9 178.7L402.9 177.1L400.2 175.5L397.6 174L395.3 172.4L393.3 170.7L391.8 168.9L390.7 167L389.9 165L389.5 162.9L389.4 160.8L389.6 158.8L390.1 156.8L391.2 154.9L392.5 153L393.5 151.1L394.1 149.3L394.1 147.5L393.7 145.7L393.1 144L392.5 142.3L392.1 140.7L391.4 138.9L390.5 136.8L389.8 134.9L389.8 133.8Z" stroke="#000" stroke-width="1.3" stroke-linejoin="round" stroke-linecap="round" fill="none"/><path d="M392.3 139.1L395.5 141.3L400.2 144.8L405.6 149L410.9 153.2L415.3 156.7L418.5 159.3L421.2 161.6L423.6 163.7L426 165.8L428.6 167.9L431.5 170.3L434.5 172.6L437.5 175L440.4 177.3L443.3 179.5L446 181.6L448.6 183.6L451.2 185.6L453.6 187.5L455.9 189.3L458.1 191.2L460.1 193L462 194.8L463.7 196.4L465.4 198L466.9 199.4L468.3 200.7L469.5 201.9L470.6 203L471.4 203.8L472.1 204.4L472.6 204.9L472.9 205.1L472.9 205.2L472.6 205.3L472 205.2L471 205.1L469.8 204.9L468.5 204.5L467 204L465.6 203.3L464.1 202.5L462.5 201.6L460.6 200.6L458.3 199.3L455.5 197.9L452.2 196.3L448.7 194.5L445.1 192.8L441.6 191.1L438.1 189.4L434.4 187.8L430.7 186.2L427.1 184.6L423.6 183L420.2 181.3L416.8 179.7L413.5 178.1L410.4 176.5L407.5 174.9L404.9 173.4L402.5 171.8L400.4 170.3L398.5 168.8L396.9 167.1L395.7 165.4L394.8 163.7L394.2 161.9L393.8 160.2L393.7 158.5L393.9 157L394.6 155.6L395.3 154.2L396 152.8L396.3 151.4L396 150L395.3 148.5L394.6 147.1L393.8 145.7L393.2 144.4L392.5 142.9L391.6 141.1L390.9 139.5L390.9 138.7Z" stroke="#000" stroke-width="1.3" stroke-linejoin="round" stroke-linecap="round" fill="none"/><path d="M392.9 144.5L396 146.6L400.7 149.8L406 153.6L411.2 157.3L415.6 160.4L418.8 162.8L421.6 164.9L424.1 166.8L426.6 168.7L429.2 170.8L432 173L434.9 175.3L437.7 177.6L440.5 179.9L443.2 182L445.7 183.9L448.2 185.7L450.5 187.4L452.8 189.1L455 190.8L457.3 192.4L459.5 194L461.6 195.5L463.6 197L465.4 198.4L467.1 199.7L468.6 201.1L470 202.3L471.1 203.4L472 204.2L472.7 204.8L473 205.1L473.2 205.3L473.1 205.3L472.7 205.2L472.1 205L471.2 204.6L470 204.2L468.7 203.6L467.4 203L466 202.3L464.6 201.5L463 200.6L461.2 199.6L459.1 198.4L456.5 197L453.6 195.4L450.5 193.7L447.2 191.9L444 190.1L440.6 188.3L437.1 186.3L433.5 184.4L430 182.5L426.7 180.6L423.5 178.9L420.4 177.3L417.4 175.7L414.5 174.1L411.9 172.6L409.4 171L407 169.6L404.8 168.1L402.8 166.7L401.2 165.3L399.9 163.9L398.9 162.5L398.1 161.2L397.6 160L397.3 158.8L397.4 157.8L398 156.9L398.6 156L399.1 155.1L399.2 154.1L398.6 152.9L397.6 151.6L396.4 150.2L395.3 148.9L394.5 147.8L393.6 146.7L392.4 145.4L391.6 144.3L391.6 143.9Z" stroke="#000" stroke-width="1.3" stroke-linejoin="round" stroke-linecap="round" fill="none"/><path d="M394.7 149.6L397.7 151.6L402.1 154.6L407.2 158.1L412.2 161.6L416.4 164.6L419.7 166.8L422.6 168.8L425.2 170.6L427.8 172.4L430.4 174.2L433.2 176.2L436 178.2L438.7 180.2L441.4 182.2L444 184.1L446.5 185.8L449 187.5L451.4 189.2L453.7 190.8L455.9 192.4L458.1 194L460.2 195.6L462.1 197.2L464 198.6L465.7 200L467.3 201.1L468.8 202.2L470.1 203.2L471.2 204L472.1 204.7L472.6 205.1L472.9 205.4L473 205.6L472.9 205.6L472.6 205.5L472.1 205.1L471.4 204.6L470.5 204L469.4 203.3L468.2 202.5L467 201.8L465.6 201L464.1 200.2L462.4 199.2L460.3 197.9L457.9 196.5L455.2 194.7L452.3 192.9L449.3 191L446.2 189.1L443.1 187.2L439.8 185.3L436.5 183.4L433.2 181.5L430.1 179.6L427.3 177.8L424.5 176.1L421.9 174.3L419.3 172.7L416.9 171.1L414.5 169.6L412.1 168.1L409.9 166.8L407.9 165.5L406.3 164.2L404.9 163.1L403.8 162.1L403 161.1L402.3 160.2L401.8 159.4L401.6 158.7L401.6 158.2L401.7 157.8L401.8 157.3L401.5 156.6L400.8 155.8L399.9 154.8L398.8 153.8L397.8 152.9L396.9 152.1L396 151.2L394.7 150.1L393.8 149.3L393.6 149Z" stroke="#000" stroke-width="1.3" stroke-linejoin="round" stroke-linecap="round" fill="none"/><path d="M466.6 203.9L466.4 204.1L466.1 204.3L465.8 204.4L465.5 204.5L465.1 204.6L464.7 204.6L464.3 204.6L463.8 204.6L463.3 204.5L462.9 204.4L462.3 204.2L461.8 204L461.3 203.7L460.7 203.5L460.2 203.2L459.7 202.9L459.2 202.5L458.7 202.1L458.2 201.7L457.7 201.3L457.3 200.9L456.9 200.4L456.5 200L456.2 199.5L455.9 199.1L455.7 198.6L455.5 198.2L455.3 197.7L455.2 197.3L455.1 196.9L455.1 196.6L455.1 196.2L455.2 195.9L455.3 195.6L455.4 195.3L455.6 195.1L455.9 194.9L456.2 194.8L456.5 194.7L456.9 194.6L457.3 194.6L457.7 194.6L458.2 194.6L458.7 194.7L459.1 194.8L459.7 195L460.2 195.2L460.7 195.5L461.3 195.7L461.8 196L462.3 196.3L462.8 196.7L463.3 197.1L463.8 197.5L464.3 197.9L464.7 198.3L465.1 198.8L465.5 199.2L465.8 199.7L466.1 200.1L466.3 200.6L466.5 201L466.7 201.5L466.8 201.9L466.9 202.3L466.9 202.6L466.9 203L466.8 203.3L466.7 203.6Z" stroke="#000" stroke-width="1.4" stroke-linejoin="round" stroke-linecap="round" fill="none"/><path d="M465.4 202.9L465.2 203.1L465 203.3L464.8 203.4L464.5 203.5L464.3 203.5L463.9 203.5L463.6 203.5L463.2 203.5L462.9 203.4L462.5 203.3L462.1 203.2L461.7 203L461.3 202.8L460.8 202.6L460.4 202.4L460 202.1L459.6 201.8L459.2 201.5L458.8 201.2L458.5 200.9L458.2 200.5L457.8 200.2L457.5 199.8L457.3 199.5L457 199.1L456.8 198.8L456.7 198.4L456.5 198.1L456.4 197.8L456.4 197.5L456.4 197.2L456.4 196.9L456.4 196.7L456.5 196.5L456.6 196.3L456.8 196.1L457 195.9L457.2 195.8L457.5 195.7L457.7 195.7L458.1 195.7L458.4 195.7L458.8 195.7L459.1 195.8L459.5 195.9L459.9 196L460.3 196.2L460.7 196.4L461.2 196.6L461.6 196.8L462 197.1L462.4 197.4L462.8 197.7L463.2 198L463.5 198.3L463.8 198.7L464.2 199L464.5 199.4L464.7 199.7L465 200.1L465.2 200.4L465.3 200.8L465.5 201.1L465.6 201.4L465.6 201.7L465.6 202L465.6 202.3L465.6 202.5L465.5 202.7Z" stroke="#000" stroke-width="1.4" stroke-linejoin="round" stroke-linecap="round" fill="none"/><path d="M464.2 202L464.1 202.1L463.9 202.2L463.8 202.3L463.6 202.4L463.4 202.4L463.2 202.4L462.9 202.4L462.7 202.4L462.4 202.3L462.1 202.2L461.8 202.1L461.5 202L461.2 201.9L460.9 201.7L460.6 201.5L460.3 201.3L460.1 201.1L459.8 200.9L459.5 200.7L459.2 200.5L459 200.2L458.7 200L458.5 199.7L458.3 199.5L458.2 199.2L458 199L457.9 198.7L457.8 198.5L457.7 198.2L457.7 198L457.6 197.8L457.6 197.6L457.7 197.5L457.7 197.3L457.8 197.2L457.9 197.1L458.1 197L458.2 196.9L458.4 196.8L458.6 196.8L458.8 196.8L459.1 196.8L459.3 196.8L459.6 196.9L459.9 197L460.2 197.1L460.5 197.2L460.8 197.3L461.1 197.5L461.4 197.7L461.7 197.9L461.9 198.1L462.2 198.3L462.5 198.5L462.8 198.7L463 199L463.3 199.2L463.5 199.5L463.7 199.7L463.8 200L464 200.2L464.1 200.5L464.2 200.7L464.3 201L464.3 201.2L464.4 201.4L464.4 201.6L464.3 201.7L464.3 201.9Z" stroke="#000" stroke-width="1.4" stroke-linejoin="round" stroke-linecap="round" fill="none"/><path d="M463 201.1L462.9 201.2L462.8 201.2L462.8 201.3L462.6 201.3L462.5 201.3L462.4 201.3L462.2 201.3L462.1 201.3L461.9 201.2L461.8 201.2L461.6 201.1L461.4 201L461.2 200.9L461 200.8L460.8 200.7L460.7 200.6L460.5 200.5L460.3 200.3L460.1 200.2L460 200L459.8 199.9L459.7 199.7L459.5 199.6L459.4 199.4L459.3 199.3L459.2 199.1L459.1 199L459 198.8L459 198.7L458.9 198.6L458.9 198.5L458.9 198.3L458.9 198.2L459 198.2L459 198.1L459.1 198L459.2 198L459.2 197.9L459.4 197.9L459.5 197.9L459.6 197.9L459.8 197.9L459.9 197.9L460.1 198L460.2 198L460.4 198.1L460.6 198.2L460.8 198.3L461 198.4L461.2 198.5L461.3 198.6L461.5 198.7L461.7 198.9L461.9 199L462 199.2L462.2 199.3L462.3 199.5L462.5 199.6L462.6 199.8L462.7 199.9L462.8 200.1L462.9 200.2L463 200.4L463 200.5L463.1 200.6L463.1 200.7L463.1 200.9L463.1 201L463 201Z" stroke="#000" stroke-width="1.4" stroke-linejoin="round" stroke-linecap="round" fill="none"/><path d="M462 205.5L482.6 205.5" stroke="#000" stroke-width="1.4" stroke-linejoin="round" stroke-linecap="round" fill="none"/><path d="M345.2 198L345.3 196.8L345.5 195.2L345.7 193.5L346 191.5L346.2 189.2L346.5 186.9L346.8 184.3L347.1 181.6L347.3 178.9L347.6 176L347.8 172.9L348.1 169.5L348.3 165.8L348.6 162L348.8 158L349.1 154.1L349.3 150.3L349.5 146.6L349.8 143.1L350 140L350.2 137.1L350.5 134.4L350.7 131.8L350.9 129.3L351.1 127L351.3 124.7L351.5 122.7L351.8 120.7L352 118.9L352.2 117.2L352.4 115.7L352.6 114.3L352.9 113.1L353.1 112.1L353.3 111.1L353.6 110.3L353.8 109.5L354 108.8L354.2 108.1L354.4 107.5L354.6 106.9L354.8 106.5L354.9 106.1L355.1 105.8L355.2 105.5L355.4 105.3L355.5 105.1L355.7 104.9L355.8 104.8L356 104.6L356.2 104.4L356.4 104.3L356.5 104.1L356.7 104L356.9 103.9L357.1 103.9L357.3 103.8L357.5 103.8L357.7 103.7L357.9 103.7L358.1 103.7L358.3 103.7L358.5 103.7L358.7 103.8L358.9 103.8L359.1 103.9L359.3 103.9L359.6 104L359.8 104.1L360 104.2L360.2 104.3L360.5 104.4L360.7 104.5L360.9 104.6L361.2 104.8L361.4 104.9L361.7 105.1L361.9 105.2L362.2 105.4L362.5 105.6L362.8 105.8L363 105.9L363.2 105.9L363.4 106L363.6 106.1L363.9 106.3L364.3 106.5L364.7 106.9L365.2 107.3L365.9 108L366.7 108.8L367.7 109.8L368.7 111L369.9 112.2L371.1 113.6L372.3 115L373.6 116.4L374.9 117.8L376.1 119.2L377.3 120.5L378.4 121.8L379.6 123.1L380.7 124.4L381.9 125.7L383.1 127.1L384.2 128.4L385.4 129.8L386.5 131.1L387.7 132.5L388.8 133.8L389.9 135.2L391.1 136.5L392.2 137.9L393.4 139.3L394.5 140.6L395.6 142L396.8 143.4L397.9 144.8L399.1 146.1L400.2 147.5L401.3 148.9L402.5 150.2L403.6 151.5L404.7 152.9L405.9 154.2L407 155.5L408.2 156.9L409.3 158.2L410.5 159.6L411.7 161L412.9 162.4L413.9 163.6L415 164.9L416.1 166.1L417.1 167.4L418.3 168.7L419.6 170.2L420.9 171.9L422.5 173.7L424.3 175.8L426.4 178.3L429 181.3L431.8 184.6L434.7 188L437.7 191.6L440.7 195L443.5 198.3L446 201.2L448 203.7L449.6 205.5" stroke="#f00" stroke-width="3" stroke-linejoin="round" stroke-linecap="round" fill="none"/>
</g>
<rect x="344.5" y="38" width="185" height="167.5" fill="none" stroke="#000" stroke-width="1"/>
<path d="M344.5 205.5 v-3 M344.5 38 v3 M386.55 205.5 v-3 M386.55 38 v3 M428.59 205.5 v-3 M428.59 38 v3 M470.64 205.5 v-3 M470.64 38 v3 M512.68 205.5 v-3 M512.68 38 v3 M344.5 205.5 h3 M529.5 205.5 h-3 M344.5 181.57 h3 M529.5 181.57 h-3 M344.5 157.64 h3 M529.5 157.64 h-3 M344.5 133.71 h3 M529.5 133.71 h-3 M344.5 109.79 h3 M529.5 109.79 h-3 M344.5 85.86 h3 M529.5 85.86 h-3 M344.5 61.93 h3 M529.5 61.93 h-3 M344.5 38 h3 M529.5 38 h-3" stroke="#000" stroke-width="1" fill="none"/>
<text transform="translate(346.1 223.2) scale(0.94 1)" text-anchor="middle">0</text>
<text transform="translate(388.15 223.2) scale(0.94 1)" text-anchor="middle">50</text>
<text transform="translate(430.19 223.2) scale(0.94 1)" text-anchor="middle">100</text>
<text transform="translate(472.24 223.2) scale(0.94 1)" text-anchor="middle">150</text>
<text transform="translate(514.28 223.2) scale(0.94 1)" text-anchor="middle">200</text>
<text transform="translate(337 210.3) scale(0.94 1)" text-anchor="end">0</text>
<text transform="translate(337 186.37) scale(0.94 1)" text-anchor="end">500</text>
<text transform="translate(337 162.44) scale(0.94 1)" text-anchor="end">1000</text>
<text transform="translate(337 138.51) scale(0.94 1)" text-anchor="end">1500</text>
<text transform="translate(337 114.59) scale(0.94 1)" text-anchor="end">2000</text>
<text transform="translate(337 90.66) scale(0.94 1)" text-anchor="end">2500</text>
<text transform="translate(337 66.73) scale(0.94 1)" text-anchor="end">3000</text>
<text transform="translate(337 42.8) scale(0.94 1)" text-anchor="end">3500</text>
<text transform="translate(436.5 23.5) scale(0.94 1)" text-anchor="middle">Data Set 2</text>
<text transform="translate(437 241) scale(0.94 1)" text-anchor="middle">Density (1/km)</text>
<text transform="translate(288.9 121.75) rotate(-90) scale(0.94 1)" text-anchor="middle">Flow (1/h)</text>
</g>
<g>
<clipPath id="cT3"><rect x="621.5" y="38" width="184.5" height="167.5"/></clipPath>
<text transform="translate(750.5 52) scale(0.94 1)" text-anchor="end">Empirical data</text>
<text transform="translate(750.5 64.7) scale(0.94 1)" text-anchor="end">Simulation IDM</text>
<text transform="translate(750.5 77) scale(0.94 1)" text-anchor="end">Fundamental diagram</text>
<circle cx="774.5" cy="47.3" r="1.4" fill="#888"/>
<path d="M758 60 H791" stroke="#999" stroke-width="1.8" fill="none"/>
<circle cx="774.5" cy="60" r="0.9" fill="#000"/>
<path d="M758 72.3 H791" stroke="#f00" stroke-width="3" fill="none"/>
<g clip-path="url(#cT3)">
<path d="M654.2 106.6h0M654.2 106.5h0M654.5 105h0M654.4 104.3h0M654.6 103.8h0M655.4 102.7h0M655.3 102.1h0M655.9 101.4h0M656.1 100.9h0M657.1 99.8h0M657 99.1h0M657.6 98.5h0M657.7 98h0M657.7 96.9h0M658.3 95.9h0M658.7 95.3h0M659.2 95.6h0M660.1 94.3h0M660.6 93.7h0M660.9 92.7h0M661.2 92h0M661.8 92.1h0M661.7 91.3h0M662.6 90.2h0M662.8 90h0M663.7 88.8h0M664.4 88.4h0M664.4 87.6h0M665 87.7h0M665.9 86.7h0M665.7 85.8h0M666.5 85.6h0M667 84.8h0M667.3 85.3h0M667.7 86.2h0M668.7 86.5h0M668.6 86.9h0M669.2 87.6h0M669.7 88.6h0M670.4 88.7h0M671.3 89.8h0M671.4 89.6h0M671.9 89.1h0M672.5 88.8h0M673.1 88.3h0M673.7 87.8h0M674.1 87.2h0M674.8 86.8h0M675.3 87.1h0M675.5 87.7h0M675.1 88.4h0M675 89.5h0M674.7 90h0M675 91.3h0M675.3 92h0M674.8 92.6h0M674.5 93.7h0M674.5 93.4h0M674.9 94.8h0M674.6 95.5h0M674.6 96.2h0M674.3 97.5h0M674.1 98h0M674.2 99h0M674.3 99.5h0M674.6 100.4h0M674.4 101.3h0M674.2 102h0M673.6 103.2h0M674.2 103.5h0M674.6 104.3h0M674.2 105h0M674 106.1h0M674 106.4h0M673.9 108.2h0M673.9 108h0M673.5 109.4h0M673.4 109.8h0M673.9 110.7h0M674 111.6h0M674 112.2h0M673.5 113.4h0M673.4 113.9h0M676.1 99.9h0M676.5 99.4h0M676.9 98.6h0M677.3 98.2h0M677.9 97.5h0M678.3 96.6h0M679.4 96.3h0M679.3 95.6h0M680.1 95.6h0M680.1 94.6h0M680.9 94h0M681.8 93.5h0M682.4 93.2h0M682.6 92.8h0M684 92.2h0M684.3 92.1h0M685 91.5h0M685.7 90.9h0M686.5 90.5h0M687.4 90.6h0M687.6 89.4h0M688.7 89.9h0M689.6 89.5h0M690 89.2h0M691.4 89.2h0M691.9 89.1h0M692.7 89h0M693.4 89h0M694.4 89.6h0M694.9 89.5h0M695.6 90.1h0M696 90.3h0M697.5 90.4h0M697.6 90.4h0M698.8 91.1h0M699.5 91.8h0M699.9 92.5h0M700.5 92.8h0M701 93h0M701.2 93.8h0M702.4 94.2h0M702.5 94.9h0M703.4 95.8h0M704 95.6h0M704.2 96.6h0M704.4 97.1h0M705.2 98.3h0M705 98.6h0M706 99.6h0M705.9 100.7h0M706.4 101.2h0M706.5 101.9h0M707 103h0M707.1 103.2h0M707.5 104.7h0M708.1 104.9h0M707.8 105.8h0M708.2 107h0M708.2 107.7h0M708 107.9h0M708.6 108.6h0M708.7 109.7h0M708.4 110.4h0M708.4 111.3h0M708.4 111.7h0M708 112.9h0M708 113.6h0M706.9 114.4h0M706.9 115.2h0M706.7 115.6h0M706.5 116.6h0M705.9 117.5h0M705.3 118.1h0M705.3 118.5h0M704.7 119.8h0M704.9 120.1h0M704.1 120.8h0M704 120.8h0M703.4 122.4h0M703.1 123.2h0M703 123.6h0M702.7 124.5h0M701.7 124.8h0M701.5 125.5h0M701.6 126.1h0M700.7 127.3h0M699.7 127.5h0M699.7 128.1h0M699.6 129.2h0M699.1 129.8h0M698.6 130.7h0M698.3 130.9h0M698.5 132.1h0M698.4 132.7h0M698.3 133.7h0M698.4 135.1h0M698.2 135.4h0M699.2 136.1h0M698.9 136.7h0M699.3 137.4h0M699.2 138h0M699.8 139.3h0M699.3 140.4h0M699.1 140.4h0M698.4 140.7h0M697.1 140.8h0M696.7 139.9h0M696.5 139.6h0M695.8 138.9h0M695.2 138.3h0M695.1 138.2h0M694.6 137.5h0M693.9 136.1h0M664.6 103.6h0M665.6 103.7h0M666.3 103h0M667.4 103.4h0M667.6 103.1h0M669.2 103.3h0M669.6 102.6h0M670.6 102.9h0M671.3 102.3h0M672.2 102.8h0M672.5 102.8h0M673.8 102.4h0M674.5 102.5h0M675.5 101.3h0M675.6 101.8h0M677.2 101.2h0M677.3 101.2h0M677.9 101.1h0M679.1 100.9h0M679.8 100.8h0M680.6 101.5h0M681.6 101.5h0M682 101.7h0M683.2 102h0M683.5 102.2h0M684 103.2h0M684.7 103.5h0M685.4 104.2h0M686.2 104.5h0M686.2 105.2h0M686.9 106.1h0M686.8 106.6h0M687.1 107.2h0M687.8 108.2h0M688 109h0M688.3 109.8h0M688.6 110.1h0M688.9 110.7h0M688.4 111.8h0M689 112.7h0M689.5 113.3h0M689.3 114.4h0M689.6 115h0M690.1 116.4h0M689.9 116.1h0M690.5 117.3h0M690.5 117.7h0M691 118.7h0M691.3 119.5h0M691.4 120.6h0M691.5 121.3h0M692 122.1h0M691.8 122h0M692.5 123.7h0M693.2 124.3h0M693.2 124.6h0M693.6 125.5h0M693.4 126.6h0M694.2 126.9h0M694.8 128.2h0M694.5 128.8h0M694.7 129.2h0M695 129.9h0M695.4 131.1h0M695.7 131.7h0M695.9 132.2h0M696.1 132.9h0M696.5 134h0M696.1 134.9h0M696.9 135.2h0M697 135.9h0M667.6 105.6h0M672.8 101.7h0M671.4 103.2h0M671.8 102.9h0M673.8 105.1h0M674 106.5h0M675.1 104.8h0M669.9 104.6h0M666.4 101h0M667.3 102.9h0M667.6 106.7h0M668.5 104.2h0M671.8 101.1h0M669.8 106.1h0M666.9 103.2h0M672.5 104.9h0M672.9 103.3h0M670.7 106.5h0M674 106h0M670.1 103.8h0M673.2 102.1h0M671.6 104.1h0M672.1 106.4h0M674.3 101.6h0M674.1 105.1h0M674.2 104.9h0M673.1 100.5h0M673.3 100.4h0M667.9 107.4h0M673.8 103.4h0M668.4 102h0M672.6 101.5h0M670.8 102.1h0M670.4 100.8h0M674.1 103.4h0M668.3 106h0M668 100.7h0M672.2 102.9h0M666.9 102.1h0M666.8 102.7h0M672.6 102.7h0M671 106.4h0M670.2 103.5h0M668.1 102.8h0M675.1 104.3h0M676.9 106.3h0M676.7 106.6h0M677.1 107.9h0M676.9 108.8h0M677.4 108.9h0M677.9 109.9h0M678.2 110.8h0M678.1 111.1h0M678.4 112.2h0M679.2 112.6h0M679 113.2h0M679.5 114.2h0M680 115.3h0M680.2 115.9h0M680.4 116.7h0M680.8 116.7h0M682 117.4h0M681.9 118.4h0M682.5 118.5h0M683.4 119.9h0M684 119.5h0M684.9 119.6h0M685.2 119.2h0M686.4 118.5h0M686.4 117.9h0M686.9 117.3h0M687 116.7h0M687.1 115.7h0M686.6 115.5h0M686.7 114h0M686.5 113.8h0M686.4 113.3h0M685.9 112.5h0M685.5 111.4h0M685.3 110.4h0M684.9 110.1h0M684.7 109.2h0M684.3 108.7h0M683.6 108h0M683 107h0M682.1 106.8h0M681.7 106.5h0M681 106.1h0M680 105.3h0M679.6 105.4h0M678.4 104.7h0M677.9 105.1h0M677.4 105.4h0M658.6 110.3h0M659.4 110.1h0M660 110h0M660.8 108.6h0M660.6 108.7h0M661.8 107.9h0M662.5 107.7h0M663 107.4h0M663.2 105.9h0M663.8 106.1h0M664.7 105.7h0M665 105.6h0M665.8 104.8h0M685.3 120.7h0M684.9 121.7h0M685.5 122.4h0M685.6 123.2h0M685.9 123.8h0M686.2 124.8h0M686.4 125h0M687.1 126.5h0M687.1 127h0M687.6 127.6h0M688.3 128.7h0M688.4 129h0M688 129.9h0M688.4 130.4h0M688.9 131.2h0M688.9 131.9h0M689.3 132.8h0M689.4 133.7h0M689.6 134.2h0M690.5 134.9h0M690.6 136h0M690.4 136.2h0M687.9 127h0M688.7 128h0M689.1 128.3h0M689.3 129.3h0M689.7 129.5h0M690.6 130.3h0M691.2 131.5h0M690.8 132.1h0M692.1 132.7h0M691.6 132.9h0M692.5 134.2h0M692.5 135.2h0M693.3 135.2h0M693 136.4h0M694.1 136.5h0M694.5 137h0M694.8 137.9h0M695.9 138.6h0M673.9 114.2h0M673.8 114.5h0M674.4 115.3h0M673.8 117h0M673.7 117.4h0M674.9 117.5h0M675.2 118.6h0M674.7 120.1h0M674.3 120.2h0M674.6 121.5h0M675.2 121.4h0M674.8 122.1h0M675.7 123.6h0M676 124.3h0M675.9 125.4h0M676.4 125.6h0M676 126.5h0M677.2 126.8h0M676.8 128.4h0M677.4 128.8h0M677.6 130h0M678.6 129.9h0M678.9 130.1h0M679.6 131.1h0M680.1 132h0M680.7 132h0M681.1 133h0M682.2 133.5h0M682.6 133.5h0M683.2 134.4h0M667.7 101.6h0M667.1 101.6h0M667.4 102.4h0M667.3 103.3h0M666.8 104.1h0M667.2 105.1h0M667.7 105.5h0M667.3 106.7h0M667.1 107.3h0M667.2 108.1h0M667.2 109.2h0M667.7 110h0M667.6 110.7h0M668.2 111.6h0M668.3 112.3h0M668.3 112.7h0M669.2 114h0M669 114.4h0M668.7 115.2h0M669.6 115.7h0M670.1 116.4h0M670.7 116.7h0M670.8 108.1h0M671.3 108.8h0M671.1 110h0M671.1 110.4h0M671.7 110.7h0M671.3 112h0M671.4 113.1h0M671.4 113.7h0M671.2 114.3h0M671.5 115.2h0M671.2 116.3h0M671.5 116.5h0M672 117.6h0M672.4 118.5h0M672.4 119h0M673.3 119.7h0M673.4 120h0M673.8 121.1h0M674.5 121.8h0M674.8 122.6h0M674.9 122.8h0M675.7 123.4h0M680.2 119.6h0M680.2 120.8h0M680.7 121.1h0M680.4 122h0M680.9 122.8h0M681.6 123.5h0M682.1 124.5h0M681.9 125.2h0M682.6 125.9h0M683.2 126h0M683.5 127h0M684.3 128h0M684.7 128.3h0M684.7 129.2h0M685.9 129.7h0M685.8 130.6h0M686.3 131.2h0M686.7 131.5h0M687.3 132.7h0M687.6 133h0M688.1 133.7h0M688.8 134.5h0M689.6 135.4h0M689.3 135.2h0M640.6 139.2h0M640.6 139.7h0M642 140.4h0M642.1 141.8h0M643.1 141.4h0M642.7 141.6h0M644.5 142.2h0M644.7 143.3h0M645.5 143.5h0M645.7 144h0M646.1 143.9h0M647.1 144h0M647.1 145.3h0M647.6 145.8h0M647.9 146.2h0M648.1 146.6h0M648.8 147.4h0M649.3 148.3h0M649.4 148.4h0M649 149.5h0M649.6 150.6h0M650.2 150.3h0M650.2 151.3h0M651.5 151.3h0M651.4 151.8h0M651.5 153.6h0M651.5 153.9h0M652.7 154.8h0M651.6 154.6h0M653.1 155.2h0M653.1 154.9h0M654.1 155.2h0M655.5 154.9h0M656.1 154.8h0M656.9 153.9h0M657 153.3h0M657.2 152.9h0M658.4 154h0M659.4 152.9h0M659.6 152.7h0M659.6 153.2h0M660.8 152.2h0M661.4 152h0M661.9 151.5h0M663.3 152.2h0M663.8 151.9h0M664.3 150.3h0M664.9 150.8h0M665.4 151.1h0M666.3 150.4h0M666.3 149.9h0M667.7 148.5h0M668.7 148.5h0M667.8 149.1h0M669.6 147.4h0M669.1 148.2h0M670.4 147.7h0M671 148.2h0M672.2 148.1h0M671.8 148.5h0M672.7 149h0M673.9 149.1h0M673.9 149.9h0M673.5 150.9h0M673.5 150.8h0M672.6 152.5h0M672.7 152.9h0M674.2 153.3h0M674.6 154.4h0M673.9 154.6h0M674.2 155.9h0M674.4 157.2h0M673.6 156.9h0M673.9 156.8h0M674.3 158.8h0M675.3 159.4h0M675.6 159.7h0M675.8 161.5h0M677.1 160.7h0M676.6 161.6h0M676.9 161.1h0M676.4 162.8h0M678.4 163.3h0M677.8 163.3h0M678.2 164.6h0M679.3 166.1h0M679.8 165.5h0M679.2 165.6h0M680.3 166.3h0M680.4 167.3h0M681.7 167.5h0M681.6 168.2h0M682.1 168.8h0M682.3 169.1h0M683.3 170.1h0M683.9 170.2h0M683.5 171.2h0M684.8 170.5h0M686.3 171.1h0M685.2 171.2h0M686.7 172.1h0M687 172.1h0M687.8 172.8h0M688.3 173.3h0M688.3 173.9h0M688.9 174.5h0M689.4 174.8h0M690.5 175.5h0M690.5 175.1h0M641 139.8h0M640.9 139.2h0M641.5 138.2h0M640.8 137.6h0M641.8 136.5h0M642.2 135.8h0M642.4 135.3h0M642.4 134.4h0M642.9 133.4h0M643.2 132.8h0M643.1 132.5h0M643.3 131.7h0M643.7 131.2h0M644.5 129.8h0M643.8 130h0M645 128.9h0M645 127.5h0M645.2 126.7h0M645.5 126.7h0M646 125.6h0M646.5 124.9h0M646.4 123.9h0M647 123.6h0M647.8 122.8h0M647.4 122.3h0M647.7 121.5h0M648 120.5h0M648.3 120.1h0M649.4 119.5h0M649.2 118.3h0M648.9 117.7h0M649.5 117.5h0M650 116.1h0M650.1 115.5h0M650.1 114.1h0M650.3 113.3h0M651.3 113.3h0M652 112.6h0M652 111.9h0M652 111.1h0M652 110.2h0M652.2 109.4h0M652.3 108.6h0M653.2 107.7h0M653 107.2h0M699.5 132.9h0M700.5 132.3h0M703 132.4h0M705.1 132.4h0M708.1 132.5h0M711.1 133.1h0M714.1 133.6h0M716.9 134.1h0M720.2 135.1h0M723.5 135.7h0M727 137.1h0M730.1 138.6h0M733.6 139.8h0M736.9 141.8h0M739.8 144.4h0M742.9 146.8h0M745.8 149.5h0M748.6 152.9h0M750.4 156.3h0M752.8 160h0M754.7 164.1h0M756.2 168.1h0M757.7 172h0M759 176.4h0M760.6 180.6h0M762.6 184.6h0M765.6 188.5h0M767.9 192.2h0M769.9 196.5h0M772.3 200.9h0M775.3 204.4h0M682.4 147.6h0M683.1 147.7h0M684.4 147.4h0M685 147.8h0M686 147.6h0M686.9 147.5h0M688 147.3h0M689.5 147.1h0M690.6 147.4h0M691.6 147.5h0M693.2 147.4h0M694.6 147.2h0M696 147h0M698.1 147.4h0M699.3 147.5h0M701.2 147.3h0M702.4 147.6h0M704.4 147.9h0M706.4 148.7h0M708.1 148.9h0M709.9 149.1h0M712.2 149.8h0M714.1 150.2h0M716.1 151h0M718.3 152.2h0M720.4 153.7h0M721.7 155.3h0M724.6 156.3h0M727.2 156.8h0M729.8 157.2h0M732.4 158.3h0M735.1 159.7h0M736.9 161.7h0M738.8 164.6h0M739.8 167.5h0M741.5 170.5h0M743.4 173h0M745.3 175.6h0M747.3 178.8h0M749.8 181.8h0M752.4 184.8h0M754.8 187.7h0M756.9 191.5h0M759 194.6h0M761.9 198.3h0M765.3 201.7h0M717.3 163.2h0M718.2 163.2h0M719.6 163.2h0M721.5 162.9h0M722.8 162.8h0M725 162.4h0M726.9 161.9h0M729.1 162.4h0M731.7 162.5h0M733.6 163.5h0M736.2 164.7h0M737.7 166.6h0M739.7 168.7h0M741.7 170.7h0M743.6 173.1h0M745.2 175.7h0M747.2 177.9h0M749.2 180.5h0M751.5 183.3h0M753.6 185.9h0M755.7 188.7h0M758.1 191.5h0M760.4 194.7h0M763.1 197.5h0M765.6 200.5h0M768.7 203.2h0M691.3 176h0M692.3 179.5h0M694.1 182.8h0M696.6 185.9h0M698.4 189.3h0M700.4 192.8h0M702.6 196.1h0M705.6 199.2h0M709.2 201.4h0M713 202.9h0M716.7 204.1h0M721.6 205.1h0M725.7 205.4h0M702.2 180.1h0M705.4 182h0M707.1 185.3h0M710 188.6h0M712.2 191.9h0M715.1 194.8h0M718.3 197.5h0M722 199.7h0M726.3 201.3h0M732.8 205.5h0M734 205.4h0M735 205.6h0M735.9 205.3h0M737 205.6h0M738.1 205.4h0M739.2 205.4h0M740.2 205.5h0M741.1 205.4h0M742 205.5h0M742.8 205.5h0M744 205.5h0M745.2 205.5h0M745.8 205.4h0M746.7 205.6h0M748.1 205.4h0M748.9 205.2h0M750 205.3h0M750.9 205.4h0M752.1 205.3h0M753.2 205.4h0M753.9 205.3h0M755.2 205.3h0M755.8 205.4h0M757.2 205.5h0M758 205.3h0M759.1 205.4h0M759.9 205.4h0M761.1 205.5h0M761.9 205.5h0M763 205.4h0M764 205.2h0M765 205.4h0M766 205.5h0M767.1 205.4h0M768.1 205.5h0M769 205.3h0M770.1 205.4h0M771 205.4h0M771.9 205.3h0M773 205.6h0M773.9 205.5h0M774.9 205.5h0M775.9 205.4h0M772.4 203.5h0M774.7 201.2h0M769.9 204.3h0M767.7 205.2h0M769.8 202.3h0M770.2 204.3h0M775 202.9h0M769.9 200.3h0M773.8 203h0M770 201h0M771.2 204.5h0M773.1 201.1h0M771.1 200.5h0M774.1 204.3h0" stroke="#848484" stroke-width="2.7" stroke-linecap="round" fill="none"/><path d="M630.9 191.4L630.9 190.2L631 188.5L631 186.6L631.2 184.4L631.5 182.2L632 179.8L632.7 177.3L633.5 174.6L634.3 172L635 169.6L635.6 167.5L636.1 165.6L636.5 163.7L637 161.9L637.5 160L638 158.1L638.5 156.1L639 154.1L639.5 152.1L640 150L640.5 147.7L640.9 145.2L641.3 142.8L641.7 140.4L642.2 138.3L642.7 136.6L643.1 135.1L643.6 133.7L644.2 132.4L644.7 130.9L645.3 129.2L645.8 127.4L646.4 125.6L647.1 123.8L647.8 122.2L648.6 120.7L649.5 119.2L650.4 117.8L651.2 116.6L652.1 115.5L652.9 114.6L653.7 114L654.5 113.4L655.3 113L656 112.6L656.7 112.3L657.4 112L658 111.9L658.7 111.8L659.5 111.8L660.3 111.9L661.2 112L662.2 112.2L663.1 112.4L664 112.8L664.8 113.2L665.5 113.6L666.2 114.1L667.1 114.8L668.3 115.8L669.9 117.3L671.7 119.1L673.8 121.1L675.7 123.1L677.5 125L679 126.6L680.3 128.2L681.5 129.7L682.8 131.3L684.4 133L686.2 134.9L688.3 137L690.4 139.1L692.6 141.3L694.8 143.4L697 145.5L699.3 147.6L701.7 149.6L704 151.7L706.3 153.7L708.4 155.6L710.5 157.4L712.5 159.2L714.8 161.1L717.4 163.2L720.5 165.5L723.9 168L727.6 170.5L731.3 173L734.9 175.4L738.5 177.6L742.2 179.8L745.9 181.9L749.4 183.9L752.4 185.9L755 187.8L757.2 189.6L759.2 191.3L761.1 193L762.8 194.6L764.5 196.2L766.1 197.7L767.5 199.1L768.7 200.4L769.8 201.6L770.6 202.6L771.3 203.6L771.8 204.4L772.1 205L772.4 205.5" stroke="#000" stroke-width="1.8" stroke-linejoin="round" stroke-linecap="round" fill="none"/><path d="M630.9 191.4L630.9 190.2L631 188.5L631 186.6L631.2 184.4L631.5 182.2L632 179.8L632.7 177.2L633.5 174.5L634.3 171.9L635 169.6L635.7 167.6L636.4 165.9L637.1 164.3L637.8 162.7L638.4 160.9L639 159L639.5 157.1L640 155.1L640.4 153L640.9 150.9L641.4 148.6L641.8 146.1L642.2 143.7L642.6 141.3L643.1 139.2L643.6 137.5L644 136L644.5 134.6L645.1 133.3L645.6 131.8L646.2 130.1L646.7 128.3L647.3 126.5L648 124.7L648.7 123.1L649.5 121.6L650.4 120.1L651.3 118.7L652.1 117.5L653 116.4L653.8 115.5L654.7 114.8L655.5 114.3L656.2 113.8L656.9 113.5L657.4 113.3L657.9 113.2L658.3 113.2L658.7 113.2L659.3 113.3L660.1 113.4L661 113.5L661.9 113.7L662.9 114L663.8 114.3L664.6 114.7L665.3 115.1L666 115.6L666.9 116.3L668.1 117.3L669.7 118.8L671.5 120.6L673.6 122.6L675.5 124.6L677.3 126.5L678.8 128.1L680.1 129.7L681.3 131.2L682.6 132.8L684.2 134.5L686 136.4L688.1 138.5L690.2 140.6L692.4 142.8L694.6 144.9L696.8 147L699.1 149.1L701.5 151.1L703.8 153.2L706.1 155.2L708.2 157.1L710.3 158.9L712.3 160.7L714.6 162.6L717.2 164.7L720.3 167L723.7 169.5L727.4 172L731.1 174.5L734.7 176.9L738.3 179.1L742 181.3L745.7 183.4L749.2 185.4L752.2 187.4L754.8 189.3L757 191.2L759 192.9L760.8 194.6L762.6 196.1L764.3 197.4L765.9 198.6L767.4 199.7L768.7 200.7L769.8 201.6L770.7 202.5L771.3 203.5L771.8 204.3L772.1 205L772.4 205.5" stroke="#000" stroke-width="1.4" stroke-linejoin="round" stroke-linecap="round" fill="none"/><path d="M630.9 191.4L630.9 190.2L631 188.5L631 186.6L631.2 184.4L631.5 182.2L632 179.8L632.6 177.2L633.4 174.4L634.2 171.9L635 169.6L635.9 167.8L636.8 166.3L637.8 165L638.7 163.6L639.5 162L640.1 160.2L640.6 158.2L641.1 156.2L641.5 154.1L642 152L642.4 149.7L642.9 147.2L643.3 144.7L643.7 142.4L644.2 140.3L644.7 138.5L645.1 137.1L645.6 135.7L646.1 134.4L646.7 132.9L647.2 131.2L647.8 129.4L648.4 127.6L649.1 125.8L649.8 124.2L650.6 122.7L651.4 121.2L652.3 119.8L653.2 118.5L654.1 117.5L654.9 116.6L655.8 115.9L656.6 115.3L657.4 114.9L658 114.6L658.3 114.5L658.5 114.5L658.5 114.7L658.7 114.9L659.1 115.1L659.7 115.2L660.6 115.4L661.6 115.5L662.6 115.8L663.6 116.1L664.4 116.5L665.1 116.9L665.8 117.4L666.7 118.1L667.9 119.1L669.4 120.6L671.3 122.4L673.3 124.4L675.3 126.4L677.1 128.3L678.5 129.9L679.8 131.5L681.1 133L682.4 134.6L684 136.3L685.8 138.2L687.8 140.3L690 142.4L692.2 144.6L694.4 146.7L696.6 148.8L698.9 150.9L701.2 152.9L703.6 155L705.9 157L708 158.9L710 160.7L712.1 162.5L714.3 164.4L717 166.5L720.1 168.8L723.5 171.3L727.2 173.8L730.9 176.3L734.5 178.7L738.1 181L741.8 183.3L745.4 185.4L748.9 187.5L752 189.2L754.6 190.6L757 191.7L759.1 192.6L761 193.5L762.8 194.6L764.5 195.9L766.1 197.4L767.5 198.9L768.7 200.4L769.8 201.6L770.6 202.6L771.3 203.6L771.8 204.4L772.1 205L772.4 205.5" stroke="#000" stroke-width="1.3" stroke-linejoin="round" stroke-linecap="round" fill="none"/><path d="M643.1 153.1L643.4 151.4L643.8 149L644.3 146.3L644.8 143.6L645.3 141.4L645.7 139.6L646.2 138.2L646.7 136.8L647.2 135.5L647.8 134L648.3 132.3L648.9 130.5L649.5 128.7L650.2 126.9L650.9 125.3L651.6 123.7L652.5 122.3L653.4 120.9L654.3 119.6L655.2 118.6L656 117.7L656.9 116.9L657.8 116.3L658.6 115.9L659.1 115.7L659.2 115.6L659 115.9L658.8 116.2L658.6 116.6L658.8 116.9L659.4 117.1L660.3 117.2L661.3 117.4L662.4 117.6L663.3 117.9L664.1 118.3L664.8 118.7L665.6 119.2L666.4 119.9L667.6 120.9L669.3 122.5L671.4 124.6L673.6 126.8L675.5 128.7L676.8 130.1" stroke="#000" stroke-width="1.3" stroke-linejoin="round" stroke-linecap="round" fill="none"/><path d="M631 191L631.1 190L631.1 188.6L631.2 186.9L631.4 185L631.8 183L632.4 180.7L633.1 178L634 175.2L634.8 172.4L635.6 170L636.3 168L636.9 166.1L637.5 164.4L638.1 162.8L638.8 161L639.6 159.1L640.4 157.1L641.2 155.2L642.1 153.3L643 151.5L644 149.9L645 148.3L646.1 146.9L647.1 145.4L648 144L648.8 142.6L649.6 141.2L650.3 139.8L650.9 138.4L651.5 137L651.9 135.5L652.2 133.9L652.5 132.3L652.8 130.8L653.3 129.6L654 128.5L654.8 127.6L655.8 126.8L656.7 126.2L657.6 125.9L658.4 125.9L659.3 126.2L660.1 126.7L661 127.4L662 128.4L663.1 129.8L664.4 131.6L665.8 133.5L667 135.4L668.1 137L669 138.2L669.8 139.2L670.5 140L671.2 140.9L671.8 142L672.3 143.3L672.6 144.6L672.9 146L673.4 147.5L674 149.1L674.9 150.8L676.1 152.7L677.3 154.6L678.6 156.5L679.8 158.3L681 159.9L682.1 161.5L683.3 163L684.5 164.5L685.6 166L686.4 167.4L686.9 168.8L687.5 170.2L688.8 171.8L691.2 173.7L695.2 176.2L700.4 179.1L706.3 182.1L712.2 185.1L717.4 187.7L722.1 190L726.7 192.1L731 194.1L735 195.8L738.4 197.3L741 198.5L742.8 199.4L744.3 200.2L746.2 200.9L748.9 201.6L753.1 202.5L758.3 203.4L763.8 204.2L768.7 205L772 205.5" stroke="#000" stroke-width="1.4" stroke-linejoin="round" stroke-linecap="round" fill="none"/><path d="M649.6 151.8L650.1 150.4L650.7 148.5L651.4 146.3L652.1 144L652.7 142L653.1 140.2L653.3 138.5L653.5 136.9L653.7 135.3L654 134L654.4 132.8L654.8 131.6L655.3 130.6L655.8 129.9L656.4 129.6L657.1 129.8L658 130.4L658.8 131.3L659.8 132.3L660.7 133.3L661.7 134.4L662.7 135.8L663.7 137.2L664.7 138.5L665.6 139.5L666.4 140.2L667.2 140.7L667.9 141.1L668.6 141.5L669.3 142L670.1 142.8L671 143.7L671.8 144.6L672.5 145.4L673 146" stroke="#000" stroke-width="1.3" stroke-linejoin="round" stroke-linecap="round" fill="none"/><path d="M631 191L631.4 188.1L631.9 183.9L632.5 179L633.3 174.2L634 170L634.8 166.4L635.6 162.9L636.4 159.6L637.4 156.7L638.5 154.3L639.7 152.4L641.1 151L642.5 149.9L644.1 149L645.9 148.1L647.9 147.1L650.2 146.1L652.6 145.3L654.9 144.7L657 144.4L658.9 144.5L660.6 144.8L662.2 145.4L663.9 146.1L665.6 146.9L667.4 147.7L669.1 148.7L670.9 149.8L672.8 150.8L675 151.8L677.5 152.7L680.3 153.5L683.2 154.2L686.1 155.1L689 156L691.8 157.1L694.5 158.2L697.2 159.4L700 160.6L702.8 161.8L705.6 162.9L708.4 164L711.3 165.1L714.3 166.3L717.4 167.6L721 169.2L725 171.1L729 173L732.5 174.6L734.9 175.8" stroke="#000" stroke-width="1.4" stroke-linejoin="round" stroke-linecap="round" fill="none"/><path d="M662.6 131L663.7 132.3L665.3 134L667.1 136.1L668.9 138.5L670.6 141L672.1 143.9L673.4 147.3L674.8 150.8L676.1 154.1L677.5 156.9L678.8 159L680.1 160.7L681.4 162.1L682.8 163.5L684.4 165L686.1 166.6L687.8 168.1L689.8 169.6L692 171.2L694.8 173L698.1 174.8L701.8 176.7L705.8 178.8L710.3 180.9L715 183.4L720.4 186.4L726.6 189.8L732.9 193.3L738.8 196.5L743.6 199L747 200.8L749.5 202L751.4 202.9L753.4 203.6L755.8 204.2L759 204.7L762.8 205.1L766.5 205.3L769.7 205.4L772 205.5" stroke="#000" stroke-width="1.3" stroke-linejoin="round" stroke-linecap="round" fill="none"/><path d="M679.8 153.5L715 165L734.9 173.9" stroke="#000" stroke-width="0.9" stroke-linejoin="round" stroke-linecap="round" fill="none"/><path d="M675 151L700 164L730 178" stroke="#000" stroke-width="0.8" stroke-linejoin="round" stroke-linecap="round" fill="none"/><path d="M643.5 140.7L644.4 140.4L645.7 140L647.2 139.5L648.6 138.9L649.6 138.3L650.3 137.6L650.7 136.9L651 136.2L651.2 135.4L651.5 134.5L651.8 133.5L652.1 132.4L652.3 131.3L652.5 130.3L652.7 129.6" stroke="#000" stroke-width="1.4" stroke-linejoin="round" stroke-linecap="round" fill="none"/><path d="M682.1 125L683.8 130.7" stroke="#000" stroke-width="2.4" stroke-linejoin="round" stroke-linecap="round" fill="none"/><path d="M670.6 141L671.6 141.1L673.1 141.2L674.8 141.4L676.5 141.5L678 141.5L679.4 141.4L680.9 141.2L682.3 140.9L683.5 140.7L684.4 140.5" stroke="#000" stroke-width="1.2" stroke-linejoin="round" stroke-linecap="round" fill="none"/><path d="M654 122L654.4 121.3L654.9 120.3L655.6 119.2L656.3 118.2L657 117.5L657.7 117.1L658.4 116.8L659.2 116.7L660.1 116.8L661 117L662.1 117.4L663.3 118L664.6 118.7L665.8 119.5L667 120.5L668.1 121.6L669.1 122.8L670.1 124.1L671.1 125.6L672 127L672.9 128.6L673.9 130.5L674.7 132.3L675.5 133.9L676 135" stroke="#000" stroke-width="1.3" stroke-linejoin="round" stroke-linecap="round" fill="none"/><path d="M654 125.5L654.4 124.8L654.9 123.8L655.5 122.7L656.2 121.7L657 121L657.9 120.6L658.9 120.3L659.9 120.2L661 120.3L662 120.5L663 120.9L664 121.5L665 122.2L666 123L667 124L668 125.1L669 126.3L670.1 127.6L671.1 129.1L672 130.5L672.9 132.1L673.9 134L674.7 135.8L675.5 137.4L676 138.5" stroke="#000" stroke-width="1.3" stroke-linejoin="round" stroke-linecap="round" fill="none"/><path d="M654 129L654.4 128.3L654.8 127.3L655.4 126.2L656.2 125.2L657 124.5L658 124.1L659.3 123.8L660.6 123.7L661.9 123.8L663 124L663.9 124.4L664.7 125L665.4 125.7L666.2 126.5L667 127.5L668 128.6L669 129.8L670 131.1L671 132.6L672 134L672.9 135.6L673.9 137.5L674.7 139.3L675.5 140.9L676 142" stroke="#000" stroke-width="1.3" stroke-linejoin="round" stroke-linecap="round" fill="none"/><path d="M624.6 193.7L625 192.5L625.5 190.9L626.1 189.1L626.8 187L627.5 184.8L628.3 182.4L629.1 180L629.9 177.6L630.7 175.3L631.5 173L632.3 170.8L633 168.5L633.8 166.2L634.6 163.8L635.4 161.4L636.2 159L637.1 156.7L637.9 154.4L638.7 152.2L639.6 150L640.5 147.9L641.4 145.7L642.4 143.5L643.4 141.4L644.3 139.3L645.3 137.3L646.3 135.5L647.2 133.7L648 132.1L648.8 130.7L649.5 129.5L650.2 128.5L650.8 127.6L651.3 126.8L651.9 126.2L652.4 125.6L652.9 125.1L653.4 124.7L653.9 124.2L654.5 123.8L655.1 123.4L655.6 123L656.2 122.6L656.7 122.3L657.3 122.1L657.8 121.9L658.4 121.7L659 121.6L659.6 121.5L660.3 121.5L661 121.5L661.7 121.6L662.5 121.7L663.3 121.9L664.1 122.1L664.9 122.3L665.7 122.6L666.6 123L667.4 123.4L668.3 123.8L669.2 124.3L670 124.8L670.9 125.4L671.8 126.1L672.7 126.7L673.6 127.5L674.5 128.2L675.5 129L676.5 129.9L677.5 130.7L678.6 131.6L679.7 132.5L680.8 133.5L681.9 134.5L683.1 135.6L684.3 136.6L685.5 137.7L686.7 138.8L687.8 139.9L689 141L690.1 142.1L691.3 143.2L692.5 144.4L693.6 145.6L694.8 146.7L695.9 147.9L697 149.1L698.2 150.3L699.4 151.4L700.5 152.6L701.5 153.6L702.4 154.4L703.1 155.1L703.9 155.7L704.7 156.5L705.6 157.3L706.7 158.4L708.1 159.8L709.8 161.7L712 164L714.8 167.1L718.3 171L722.4 175.4L726.7 180.3L731.2 185.3L735.6 190.2L739.7 194.9L743.5 199L746.6 202.5L748.9 205.1" stroke="#f00" stroke-width="3" stroke-linejoin="round" stroke-linecap="round" fill="none"/>
</g>
<rect x="621.5" y="38" width="184.5" height="167.5" fill="none" stroke="#000" stroke-width="1"/>
<path d="M621.5 205.5 v-3 M621.5 38 v3 M663.43 205.5 v-3 M663.43 38 v3 M705.36 205.5 v-3 M705.36 38 v3 M747.3 205.5 v-3 M747.3 38 v3 M789.23 205.5 v-3 M789.23 38 v3 M621.5 205.5 h3 M806 205.5 h-3 M621.5 181.57 h3 M806 181.57 h-3 M621.5 157.64 h3 M806 157.64 h-3 M621.5 133.71 h3 M806 133.71 h-3 M621.5 109.79 h3 M806 109.79 h-3 M621.5 85.86 h3 M806 85.86 h-3 M621.5 61.93 h3 M806 61.93 h-3 M621.5 38 h3 M806 38 h-3" stroke="#000" stroke-width="1" fill="none"/>
<text transform="translate(623.1 223.2) scale(0.94 1)" text-anchor="middle">0</text>
<text transform="translate(665.03 223.2) scale(0.94 1)" text-anchor="middle">50</text>
<text transform="translate(706.96 223.2) scale(0.94 1)" text-anchor="middle">100</text>
<text transform="translate(748.9 223.2) scale(0.94 1)" text-anchor="middle">150</text>
<text transform="translate(790.83 223.2) scale(0.94 1)" text-anchor="middle">200</text>
<text transform="translate(614 210.3) scale(0.94 1)" text-anchor="end">0</text>
<text transform="translate(614 186.37) scale(0.94 1)" text-anchor="end">500</text>
<text transform="translate(614 162.44) scale(0.94 1)" text-anchor="end">1000</text>
<text transform="translate(614 138.51) scale(0.94 1)" text-anchor="end">1500</text>
<text transform="translate(614 114.59) scale(0.94 1)" text-anchor="end">2000</text>
<text transform="translate(614 90.66) scale(0.94 1)" text-anchor="end">2500</text>
<text transform="translate(614 66.73) scale(0.94 1)" text-anchor="end">3000</text>
<text transform="translate(614 42.8) scale(0.94 1)" text-anchor="end">3500</text>
<text transform="translate(713.25 23.5) scale(0.94 1)" text-anchor="middle">Data Set 3</text>
<text transform="translate(713.75 241) scale(0.94 1)" text-anchor="middle">Density (1/km)</text>
<text transform="translate(565.9 121.75) rotate(-90) scale(0.94 1)" text-anchor="middle">Flow (1/h)</text>
</g>
<g>
<clipPath id="cB1"><rect x="71.5" y="278.5" width="184.5" height="167.5"/></clipPath>
<text transform="translate(200.5 292.5) scale(0.94 1)" text-anchor="end">Empirical data</text>
<text transform="translate(200.5 305.2) scale(0.94 1)" text-anchor="end">Simulation VDIFF</text>
<text transform="translate(200.5 317.5) scale(0.94 1)" text-anchor="end">Fundamental diagram</text>
<circle cx="224.5" cy="287.8" r="1.4" fill="#888"/>
<path d="M208 300.5 H241" stroke="#000" stroke-width="0.8" fill="none"/>
<circle cx="224.5" cy="300.5" r="0.9" fill="#000"/>
<path d="M208 312.8 H241" stroke="#f00" stroke-width="3" fill="none"/>
<g clip-path="url(#cB1)">
<path d="M109.1 331.2h0M109.9 330.3h0M109.8 329.6h0M110.4 328.9h0M111.9 325.7h0M112.5 325.1h0M112.9 323.9h0M113.4 323.2h0M113.5 322.4h0M114.9 319.2h0M115.3 318.2h0M115.6 317.4h0M116.3 316.7h0M116.4 315.5h0M117 314.8h0M117.1 314.2h0M118.1 311.6h0M118.8 310.7h0M118.9 309.8h0M119.6 309.1h0M119.9 308.2h0M120.1 307.4h0M120.5 306.6h0M121.6 304.2h0M121.9 303.1h0M122.2 302.3h0M122.4 301.6h0M123 301.1h0M123.4 299.8h0M124 299.2h0M125.1 297.5h0M125.9 296.8h0M126.3 296.2h0M126.8 295.3h0M127.6 294.7h0M117.3 333.2h0M125 322h0M124.9 319.8h0M125.2 319.2h0M123 325.2h0M116.9 334.8h0M120.4 332.8h0M117.6 332.5h0M125.3 318.9h0M124.4 322.9h0M124.2 323.9h0M123.5 324.6h0M120.6 330.3h0M121.8 326.3h0M120.8 330.8h0M119.5 327.5h0M116.4 332.9h0M120.1 328.9h0M123.9 323.6h0M121.4 328.7h0M118.9 332.3h0M124.2 322.8h0M121.3 327h0M115.6 335.5h0M124 322.2h0M120.8 331.2h0M124.4 322h0M125.1 318.8h0M120.8 327.3h0M119.9 333.3h0M119 333.3h0M123.8 324.5h0M124.4 321.3h0M119.8 332.2h0M118.8 329.8h0M123.8 320.8h0M117.7 332.1h0M123.3 325.3h0M119.9 326.6h0M122.8 326.6h0M121.2 326.2h0M125.7 319h0M125.8 319.2h0M116.8 331.7h0M123.6 325h0M124.3 324.3h0M116.6 332.2h0M123.8 325.4h0M120.6 330.6h0M121.5 325.8h0M126.2 319.3h0M118.7 328.8h0M125.5 319h0M117.3 332.2h0M126.4 319h0M123.6 322.1h0M119.6 330.1h0M124.9 319.5h0M123.8 323.6h0M121.9 329.4h0M124.4 324.7h0M118.9 333h0M123.1 323.9h0M120.2 333.1h0M115.5 333.1h0M126.8 318h0M120 332.4h0M123.5 322.8h0M124.5 322h0M122 328.1h0M123.3 326.3h0M124.4 320h0M122.7 322.8h0M120.6 330.2h0M120.8 332h0M118.5 331.6h0M119.7 332.3h0M123.6 325.5h0M125.5 320.4h0M119.6 334.6h0M125.6 320.1h0M126.5 318.4h0M125 319.2h0M121.3 324.4h0M124 322.5h0M120.4 330.7h0M126.4 318h0M116.5 333.6h0M124.2 320.2h0M121.4 325.7h0M118.6 332.9h0M120.4 331h0M120.5 329.6h0M119 328.8h0M124.9 319.7h0M125.3 319.4h0M121.5 329.6h0M122.1 329.2h0M120.7 329h0M121.9 331h0M120.8 332.7h0M115.6 334.6h0M126.1 319.3h0M123 326.7h0M118 333.6h0M126 319.3h0M117.4 332.1h0M122.7 328.1h0M123.6 323.8h0M126.2 319.6h0M123.8 320.8h0M121.6 328h0M126 320h0M120.7 327h0M119 332.6h0M122.5 324.4h0M120.1 329.3h0M122.7 322.9h0M122.9 326.2h0M124 324.3h0M124.6 320.9h0M118.8 330.9h0M121.4 331.5h0M121.2 330.2h0M124.8 319.7h0M116.1 334.3h0M119.5 329.7h0M124 321.9h0M124 321.8h0M117.1 335.4h0M126 318.8h0M126.6 318.4h0M126.4 316.6h0M126.2 315.8h0M126.8 315h0M126.5 313.6h0M126.7 313.6h0M127.2 312.4h0M127.6 311.8h0M126.8 310.9h0M127.2 309.9h0M127.2 308.6h0M127 307.6h0M127.9 307h0M128.3 306.1h0M128.3 305.4h0M128.4 304.6h0M128.1 303.9h0M128.7 301.7h0M127.8 301.8h0M128.9 300.5h0M129.7 299.7h0M129.2 299.4h0M128.9 297.6h0M129.1 296.9h0M129.6 295.8h0M129.8 296.2h0M125.9 320.7h0M127.2 321h0M127.5 320.4h0M129.7 320.8h0M129.9 321.7h0M131.1 322.1h0M131 322.8h0M132.1 322.9h0M132.4 323.6h0M132.4 324.9h0M132.2 326.7h0M132.4 327.4h0M134 327.5h0M134.3 329.3h0M134.9 329.4h0M136.4 330.2h0M137.5 330.2h0M138.6 331.4h0M138.3 331.1h0M139.5 332.4h0M139.4 333.7h0M140.5 334.6h0M139.9 334.7h0M140 336.1h0M141.4 337.6h0M141.4 337.4h0M140.8 338.7h0M140.6 340.2h0M140.6 340.2h0M140.7 341.8h0M140.2 342.1h0M139.8 344h0M140.2 344.1h0M138.9 345.2h0M138 347.3h0M138.3 347.8h0M138 348.5h0M137.8 348.9h0M139.3 349.6h0M139.6 349.5h0M140.6 347.7h0M141.6 347.9h0M141.6 347.2h0M143.4 346.4h0M144.3 346.6h0M144.2 346.1h0M145.6 345h0M146.9 345h0M147.9 344.8h0M148.2 345h0M149.6 344.9h0M150.4 345.1h0M151.7 345.8h0M152.4 345.9h0M153.1 345.3h0M154.6 346.7h0M155.2 347.9h0M155.3 347.7h0M156.2 348.5h0M158.4 349.5h0M157.9 350h0M158.3 351.1h0M159.5 351.9h0M159.9 352.6h0M160.2 353h0M161.5 353.4h0M162.7 353.6h0M163 353.1h0M164.5 353.1h0M165.4 352.9h0M166.2 354.7h0M166.6 355.6h0M166.4 356h0M167.8 357.6h0M168 358.2h0M168.4 359.3h0M168.4 358.7h0M170 360.9h0M169.5 361.5h0M171.5 363h0M171.4 363.4h0M171.7 363.9h0M173.3 363.9h0M172.8 366.1h0M174.2 367.2h0M173.5 366.8h0M174.4 368h0M172.3 369h0M173.2 370.2h0M171.9 371.2h0M172.5 372.9h0M173.6 372.1h0M175.2 372.7h0M176.5 373.1h0M177.1 374h0M178 373.6h0M179.6 374.1h0M179.3 374.7h0M180.8 373.9h0M181.5 376h0M182.7 375.8h0M184 376.2h0M183.8 375.8h0M185.4 375.6h0M186.3 378h0M187.1 377.9h0M186.7 377.5h0M188.9 378.4h0M189.6 379.3h0M190.7 379.1h0M191.6 380.2h0M192 380.5h0M125.6 321.5h0M126.9 320.2h0M127.8 320.4h0M129.2 321h0M130.1 321.5h0M130.2 321.9h0M131.4 322.6h0M131.9 323.3h0M131 323.3h0M132.3 326.2h0M133.1 325.9h0M133.2 327.2h0M132.7 327.6h0M133.2 328.8h0M136.3 329.2h0M135.1 330h0M137.4 329.9h0M138 331.1h0M138.2 331.5h0M140 333.7h0M137.8 333.2h0M140.6 333.3h0M140 335.3h0M141 336.2h0M139.9 337.1h0M141.2 338.6h0M139.9 340h0M140.3 341.1h0M139.6 339.9h0M140.1 342.5h0M139.4 343h0M138.5 343h0M139 344.8h0M139.9 346.1h0M138.6 346.8h0M137.6 348.5h0M137.6 348.2h0M139.6 349.1h0M139.3 349.4h0M139.4 348.5h0M140.9 349.4h0M142 347.3h0M143 347h0M142.6 346.1h0M200.1 382.7h0M204.7 380.2h0M208.5 382.1h0M196 387.3h0M199.5 389h0M205.8 387.1h0M204.1 391.3h0M201.8 393.6h0M211 394h0M213.5 395.6h0M198.4 397.1h0M208.5 399.4h0M212.7 400h0M209.3 404h0M200 405.5h0M213 407h0M215.6 409.5h0M217.3 416.2h0M216.5 413h0M219 423.1h0M218 419.5h0M203.5 417.4h0M205.8 421.4h0M211 426.5h0M213.3 430h0M215.6 433.5h0M221.4 427.7h0M222.5 430h0M224.8 432.9h0M227.7 435.8h0M231.1 439.2h0M234 442.7h0M238.6 445h0M220.2 436.9h0M222.5 440.4h0M227.1 441.5h0M229 443.5h0M218 439.5h0M224 444h0M183.9 405.8h0M184.7 407h0M184.9 407.5h0M185.8 408.8h0M185.5 409.7h0M179.3 412.6h0M178.4 411h0M177.9 410h0M177 409.6h0M176.5 408.1h0M176.7 406.7h0M176.9 405.7h0M177.6 405.4h0M178.6 404.1h0M180.5 403.6h0M181.1 404h0M167.6 391.6h0M167.5 391.5h0M165.3 390.8h0M164.8 390.6h0M164.2 390h0M162.7 388.9h0M162.3 388.2h0M161.7 386.8h0M162.1 384.9h0M179 406.9h0M177.2 405.9h0M177.5 405.1h0M177.4 403.7h0M176.6 401.9h0M178.1 402h0M178.7 401.8h0M180.4 401.8h0M181.8 402h0M182.2 403.5h0M184.2 403.7h0M184.6 405.2h0M184.5 406.7h0M185.7 407.5h0M157.6 370.8h0M158.5 372.6h0M159.1 373.3h0M157 373.5h0M156.2 373h0M156.1 372.6h0M175.9 381.5h0M177 381.6h0M178.9 382h0M179 383.2h0M179.9 384.1h0M180.9 385.5h0M180.6 386.3h0M181.3 388h0M181 389h0M179.4 389.6h0M177.9 388.8h0M176.7 389.1h0M176 388.6h0M174.8 387.5h0M174.5 385.9h0M174.5 385.2h0M174.4 383.3h0M174 382h0M175 381.9h0M155.8 385.7h0M155.4 384.9h0M154.2 384h0M153.6 383.2h0M153.6 381.6h0M154.6 381.2h0M156.3 381.7h0M156.5 382.2h0M158.1 382.7h0M158.4 384.3h0M171.3 389.6h0M170.6 388.7h0M169.8 387.7h0M170.1 386.5h0M169.4 385.6h0M171 385.3h0M171 385.4h0M172.7 386.6h0M173.1 388.1h0M186.9 390.3h0M185.9 391.2h0M184.5 391.3h0M183.3 390.2h0M182.5 389.8h0M180.5 388.9h0M179.8 388.3h0M178.6 386.8h0M178.8 385.5h0M179.1 384.9h0M181 384.2h0M181.6 384.2h0M183.4 383.8h0M184.8 384.7h0M185.3 385.4h0M176.6 384.6h0M177.3 384.9h0M178.2 386.3h0M178.2 387.1h0M178.3 388.1h0M179.1 389.8h0M178.3 390.3h0M177 390.2h0M176 389.9h0M174.6 389h0M174.3 388.5h0M173.4 386.7h0M173.3 385.1h0M178.9 378.7h0M179.3 379.6h0M181.4 380.5h0M181.9 380.8h0M182.5 381.6h0M183 382.5h0M183 383.6h0M182.9 385.6h0M181.7 386.1h0M180.9 387h0M179.1 386.8h0M177.7 387.2h0M177 386.9h0M175 386.2h0M174.8 385.3h0M184 402.1h0M184 403.5h0M183.6 404.2h0M184.4 405.7h0M183.8 407.1h0M182.5 407h0M182 406.5h0M180.4 405.3h0M180.2 404.2h0M179.5 403.3h0M180 402.5h0M180.5 405.2h0M181.4 405.6h0M182 405.6h0M183.3 406.1h0M184.2 406.9h0M184.1 408.4h0M183.6 409.2h0M181.9 408.6h0M180.6 408.5h0M179 408.6h0M177.9 408.3h0M179 400h0M180.1 398.8h0M181.7 398.4h0M182.5 398.4h0M183.5 398.3h0M184.4 399.6h0M185.6 400.4h0M186.4 402h0M186.5 403.7h0M186.7 403.8h0M186 404.9h0M179.6 399.1h0M180.3 399.7h0M180.8 401.3h0M181.7 401.9h0M181.9 403.7h0M180.7 404h0M179.2 404.9h0M178.5 404.2h0M177.7 404h0M177 403.2h0M174.8 402.7h0M174.5 402.5h0M173.2 400.7h0M172.9 400h0M172.3 398.6h0M173.9 398h0M174.3 397.8h0M175.7 397.7h0M176.8 398.8h0M142.1 376.4h0M142.7 374.4h0M142.3 374.2h0M148.4 373.5h0M149.6 374.1h0M150.2 375.4h0M151.1 376.2h0M151.3 377h0M151.1 378.6h0M151.3 380.2h0M150.3 380.4h0M186.8 405.2h0M187.6 406.3h0M186.3 407.2h0M184.8 406.7h0M183.9 406.1h0M183.5 405h0M183.5 404.5h0M182 403.4h0M164.7 370.2h0M163.3 369.6h0M162.7 369.1h0M161.8 368.2h0M175.3 404h0M175.1 403.2h0M174.6 402.2h0M173.6 400.3h0M173.3 399.4h0M174.2 398.3h0M174.8 396.3h0M175.1 397.6h0M177.3 398.1h0M178.7 398.6h0M179.2 399.6h0M179.2 400.7h0M179.9 401.6h0M176.9 407.8h0M175.7 407.9h0M174.2 408.2h0M173 407.8h0M171.8 408.2h0M170.8 407.1h0M169.8 407.2h0M168.5 405.9h0M168.1 405.1h0M168.1 404.1h0M167.8 402.4h0M167.7 401.5h0M169.2 401.1h0M145.7 382.6h0M145.3 381.3h0M145.1 379.7h0M145.2 379.3h0M144.5 377.3h0M145.3 375.4h0M146.2 375.2h0M146.2 375.2h0M147.8 374.6h0M148.9 374h0M151 373.8h0M150.8 374.6h0M152.3 375.2h0M153.3 375.8h0M154.1 376.5h0M155.8 376.9h0M156.5 378.8h0M173.2 397.4h0M172 396.5h0M171.2 396.5h0M169.8 395.3h0M169.9 393.9h0M169.8 392.6h0M170.2 392.1h0M171.2 391.9h0M173 392.1h0M174.8 391.6h0M175.3 392.3h0M176.9 393.1h0M159.8 381.2h0M160.8 382.2h0M161.6 383.5h0M161.5 384.5h0M160 386.1h0M159.2 386.1h0M157.4 385.4h0M157.2 385.3h0M156.9 383.8h0M155.9 382.4h0M155.2 381.3h0M156.3 380.3h0M157.2 379.6h0M157.6 380h0M163.4 398h0M163.9 396.8h0M164.2 395.3h0M165.4 394.7h0M165.5 393.7h0M166.8 393.9h0M168.4 394.1h0M169.1 394.6h0M170.5 395.3h0M171 396.5h0M171.7 397.7h0M172.2 398h0M172.7 400.1h0M171.6 401.1h0M170.8 402.3h0M170.8 402.4h0M169.2 402.9h0M167.6 402.1h0M166.5 401.7h0M172.2 405.6h0M171 404.7h0M171.1 404.1h0M172.3 403h0M173.8 403.3h0M175.2 403.6h0M176 404.4h0M153.9 383.2h0M154.2 383h0M152.8 384.6h0M151.5 383.9h0M149.8 382.6h0M148.9 382.7h0M148.5 382.2h0M147.6 380.6h0M146.3 380h0M144.8 379.1h0M149.7 387.1h0M151.5 387.3h0M152.2 387.1h0M153.9 387.5h0M154.9 387.5h0M155.4 387.5h0M157.1 389.2h0M158.2 389.3h0M158.6 390.9h0M159.3 392.1h0M159.6 393.5h0M159.9 393.9h0M158.7 394.7h0M157.8 394.9h0M156.9 395h0M169 379.3h0M169.7 379.7h0M170.9 380.3h0M171.9 381.8h0M171.7 382.7h0M172.5 383h0M173.2 384.5h0M172.1 385.7h0M170.7 386h0M169.6 385.9h0M168.7 384.6h0M168.2 384.3h0M167.9 382.7h0M167.4 382h0M179.6 391.9h0M180.6 391.4h0M182.4 393.1h0M182.8 392.8h0M184.2 393.5h0M185.2 394.7h0M185.2 396.2h0M184.9 397.3h0M185.2 398.2h0M183.8 399.3h0M182.7 399.1h0M181.3 399.3h0M180 398.5h0M179 398.2h0M177.8 397.8h0M177.7 396.7h0M177 395h0M170 397.9h0M169.6 399.9h0M167.9 399.3h0M166.5 399.2h0M165.6 397.8h0M165.4 396.8h0M165.9 395.4h0M166.9 395.9h0M168.2 395.7h0M169.6 396.6h0M169.7 397.6h0M152.6 381.3h0M153.1 382.5h0M152.8 384.2h0M151.5 383.5h0M150.5 383.5h0M149.5 382.8h0M147.9 382h0M146.8 381.5h0M146.2 380.3h0M185.9 396.3h0M187.1 396.9h0M187.9 397.5h0M188.4 399.2h0M188.6 400h0M188.6 401.4h0M187.7 401.3h0M186.9 401.4h0M185.3 401.2h0M184.6 399.7h0M183.6 399.5h0M183 398.3h0M183.9 397.4h0M184.2 396h0M187.3 397h0M189 397h0M190 397.1h0M191.6 397.5h0M189.1 401.5h0M188.7 401.2h0M154.7 388.9h0M155.5 387.8h0M156.9 388.2h0M157.8 388.3h0M159.2 388.7h0M160.9 389h0M161 390.4h0M161.7 391.9h0M161.8 392.8h0M162.8 394.3h0M162.1 395.8h0M161.4 396.2h0M160.4 397h0M159.8 396.8h0M157.7 395.8h0M156.5 394.5h0M156.6 393.4h0M155.5 392.1h0M154.4 392.6h0M148.6 386.1h0M148.9 385.3h0M149.2 384.2h0M150.3 384.2h0M151.6 383h0M152.5 384.1h0M153.9 384.8h0M188.4 397.2h0M188.2 398.2h0M187.9 400.3h0M186.3 400.7h0M185.7 400.1h0M184.3 399.9h0M184.1 399.9h0M183.1 398.3h0M182.4 397h0M160.8 374.8h0M161.4 375.7h0M161.2 376.5h0M160.7 377h0M158.6 377.6h0M158.3 377.5h0M156.9 377.3h0M156.6 375.7h0M155.9 374.7h0M155.9 373.6h0M156.2 373h0M157.7 371.5h0M188.6 404.3h0M187.6 403.5h0M186.9 402.8h0M186.3 401.8h0M186.4 400.4h0M186.4 399.8h0M186.9 399h0M187.9 398.7h0M179.7 381.9h0M178.1 380.9h0M176.9 381.5h0M175.5 380.7h0M175 380.1h0M173.8 379.6h0M173.3 378.6h0M172.1 377.2h0M172.2 375.8h0M171.7 375h0M172 374.1h0M180.2 404h0M180.4 402.2h0M182 402.4h0M183.3 403.4h0M183.8 404.4h0M184.9 404.3h0M185.7 405.5h0M186.7 406.8h0M181.1 411.2h0M179.6 410.8h0M179.5 410.7h0M178 409.8h0M177.5 409h0M178 407.2h0M177.4 406.1h0M178.8 405.6h0M179.7 405.4h0M180.7 404.7h0M182.2 404.9h0M183.3 405.7h0M184.5 405.8h0M185.9 406.8h0M186.9 406.7h0M186.8 408.7h0M179.1 378.5h0M180.2 378.5h0M181.2 378.7h0M182.3 379.2h0M183.8 380.1h0M184.2 381.1h0M183.9 383.1h0M184.2 383.4h0M184.1 384.9h0M183.1 385h0M181.9 385.2h0M181 384.1h0M180.3 383.6h0M179.5 382.9h0M177 392.1h0M176.3 392.3h0M174.5 391.1h0M173.9 390.2h0M174.4 389.1h0M173.3 388.8h0M173.9 386.7h0M174.9 386.9h0M176.1 387.5h0M177.4 387.5h0M177.6 387.9h0M178.6 389.6h0M179.2 390.4h0M179.8 391.8h0M178.2 392.2h0M164.2 388.8h0M164.2 388.3h0M164.2 386.6h0M165.4 387.2h0M166.8 387.9h0M168.4 388.2h0M168.7 389.4h0M169.1 390.4h0M169.8 391.6h0M170.8 392h0M169.5 393.7h0M168.9 392.7h0M160.8 368.7h0M162.2 369.2h0M163.1 368.6h0M164.5 368.5h0M164.8 368.9h0M167.1 369.6h0M167.7 371.2h0M169.4 371.3h0M169.6 371.8h0M170.1 373.2h0M169.4 374.2h0M168.4 374.2h0M166.6 374.5h0M165.4 374.1h0M164.5 373h0M163.3 372.4h0M162.5 371.6h0M165.9 401.3h0M166.9 401.1h0M167.6 402.6h0M167.8 403.8h0M168 404.1h0M161.3 399.6h0M163 398.9h0M164.3 398.8h0M163.2 399.6h0M163.6 398.1h0M163.7 397.1h0M165.7 397h0M167.2 398.3h0M167.5 398.5h0M168.3 399.8h0M169 400.7h0M169.4 402.3h0M169.2 403h0M168.2 402.7h0M166.8 403.4h0M169.6 399.3h0M170.2 399.8h0M170.9 400.4h0M171.2 402.2h0M171.2 403.9h0M170.8 404.8h0M169.3 405.3h0M168.6 405.3h0M167.8 406.3h0M161.2 399.6h0M160.5 398.1h0M153.2 376.1h0M155.1 375.5h0M156.2 375.4h0M157.3 377h0M157.8 376.2h0M158.7 377.3h0M159.1 378.8h0M160 380.2h0M159.7 381.3h0M158.8 382.2h0M157.8 382h0M156.1 381.2h0M155.9 380.6h0M165.2 371.5h0M159.3 374.8h0M178.2 401.1h0M176.1 401.4h0M177.5 409.2h0M154.1 372.5h0M168.7 381.4h0M177.9 406.6h0M181.8 389.9h0M178 407.3h0M172.1 394.1h0M169.1 370.1h0M163.8 371.9h0M174.8 384.1h0M139.8 374.6h0M175.5 397.6h0M158.8 374h0M161.6 371.3h0M180 385.1h0M162.4 377.9h0M180.4 379.9h0M171.3 399.9h0M148.2 378.4h0M163.3 373h0M174.9 408.9h0M181.5 393.8h0M170.1 399.4h0M176.1 400.1h0M169.9 390.4h0M185.7 401.2h0M191.6 390.2h0M165.1 402.6h0M155.1 384.4h0M145.6 380.6h0M182.7 382.7h0M178.4 404.9h0M177.2 411.7h0M178 378.2h0M168 404h0M190.1 393.5h0M185.6 406.1h0M180.4 384.9h0M148 374.3h0M175.6 379.6h0M185.8 390.6h0M158.2 383.5h0M157.6 391.9h0M177.2 406.8h0M159 395.4h0M190.9 398.3h0M146.6 381.9h0M175 382.4h0M160.7 398.7h0M164.2 379.1h0M174.9 400.2h0M139.8 373.4h0M163.2 377.4h0M149.3 382.8h0M160 385h0M166.6 404.1h0M169.9 399.3h0M179.1 401.2h0M160.1 382.6h0M171.4 406.9h0M177.6 402.6h0M178 379.7h0M182 411.2h0M160.3 391.2h0M177.1 407.6h0M189.1 382.7h0M197.4 424.8h0M199.3 424h0M199.9 425.4h0M201.3 425.5h0M201.7 425.7h0M203 427.2h0M203.8 427.3h0M204.2 429.4h0M205.2 430.4h0M205.4 432.1h0M203.5 432.7h0M203 432.7h0M202.4 432.4h0M200.4 432.1h0M204.5 414.9h0M203.5 413.9h0M202.1 414h0M201.6 412.2h0M201 411.1h0M200.9 410.1h0M201.7 410h0M202.6 408.6h0M186.7 418.9h0M186.5 418.5h0M186.4 416.4h0M186.1 415h0M186.6 414.5h0M187.8 413.5h0M188.9 414.3h0M189.7 414.8h0M190.2 415.8h0M191 417.1h0M190.9 417.9h0M187.6 418h0M188.5 418.5h0M189.9 418.2h0M191 418.4h0M191.6 419.7h0M191.9 420.5h0M192.4 422.3h0M191.8 423h0M201.4 416.5h0M201.5 416.1h0M200.4 415.7h0M199.8 414.7h0M200 413.4h0M200.9 412.6h0M203 412.1h0M203.7 412.8h0M204.2 413.1h0M198.2 423.7h0M196.5 423.8h0M195.1 422.9h0M195 422.5h0M194.4 421.2h0M193.7 420.1h0M193.9 418.6h0M202.9 410.6h0M196.5 391h0M207.8 430.9h0M196.8 416.6h0M198.5 405.4h0M192 401h0M215.4 445.5h0M196.5 403.2h0M194.3 426.8h0M198 407.8h0M192.6 397h0M191.1 424h0M191.9 409.3h0M195.7 432.8h0M191.1 407.7h0M193.5 415.1h0M209.6 425.5h0M196.4 421.7h0M204.3 422.2h0M185.2 419.4h0M205 427.5h0M199.1 433.7h0M199 427.7h0M204 426.2h0M201.4 406.2h0M185.2 415.3h0M209.8 442.1h0M205.4 421.8h0M191.6 410.6h0M199.4 404.2h0M195 396.7h0M201.2 436.9h0M192.1 397.9h0M214.3 436h0M199.4 432.8h0M190.6 402.7h0M197.6 424.8h0M205.5 432.9h0M195.4 432.3h0M192.9 422.6h0M194.2 391.6h0M201.5 424.9h0M197.5 398.1h0M195.7 411.4h0M197.4 434.3h0M208.6 423.5h0M193.8 409.3h0M194 412.3h0M196.4 394.8h0M199.4 412.7h0M197.2 417.9h0M189.9 417.5h0M217.3 442.8h0M195.7 415.2h0M198.7 424.8h0M192.7 429.6h0M193.8 419.5h0M207.6 439.8h0M197.1 426.4h0M195.3 392.9h0M198.3 401.3h0M207.2 440h0M210.8 433.5h0M196.2 424.9h0M202.6 430.9h0M194.9 412.6h0M204.3 413.1h0M201.2 438.6h0M203.8 439.6h0M213.3 442.6h0M199.3 401.6h0M190.6 421.1h0M201.4 429.2h0M195.5 399.6h0M206.7 436.7h0M192.9 395.8h0M204.2 420.8h0M190.7 411.5h0M196.8 420.8h0M200.5 434.3h0M207.5 424.8h0M204.5 443.3h0M201 419.2h0M208.2 431.6h0M208.9 437.6h0M136.8 371.9h0M135.7 373.4h0M135.9 372.7h0M134.2 373.5h0M134.5 373.8h0M133.9 374.9h0M132.6 376.2h0M131.3 375.3h0M130.6 375.2h0M130.5 377.6h0M130.3 376.5h0M128.6 377.4h0M128.6 378.2h0M128.8 379h0M127.7 379.7h0M128 380.2h0M126.5 381.9h0M126.2 383.2h0M126.8 383.7h0M126.5 384h0M124.8 385.6h0M124.8 385.7h0M124.9 387.1h0M124.1 388.7h0M123.7 388.3h0M124.9 389.5h0M124.1 390.6h0M123.3 391.1h0M124.2 392.7h0M124.9 392.4h0M124.7 393.9h0M123.6 395.5h0M125.7 395.8h0M125.2 396.2h0M125.3 398h0M125.3 398h0M124.5 398.5h0M125.8 399.7h0M125.4 400.6h0M126.7 401.2h0M126.5 402.5h0M127.2 403.2h0M126.8 404.7h0M128.1 405.2h0M129.4 406.2h0M129.4 406.6h0M129.9 407h0M130.6 407.6h0M131.6 406.7h0M132.9 408.2h0M133.9 406.1h0M133.7 406.8h0M135.3 407.3h0M135.9 407.1h0M137.4 407h0M138.4 407.7h0M139.3 407.2h0M140 406.1h0M140.6 406.1h0M141.4 405.8h0M142.1 406.2h0M142.8 405.9h0M143.9 403.9h0M144.8 404.2h0M144.5 402.4h0M145 402.5h0M145.2 401.9h0M145.3 400.6h0M146.4 399.6h0M146.9 399.7h0M147.1 398.4h0M146.4 396.7h0M139.2 373.7h0M139 373.8h0M137.6 374.7h0M137.1 375.8h0M136.4 375.2h0M134.8 375.9h0M133.6 376.2h0M134.1 376.3h0M131.7 379.3h0M131.2 378.9h0M130 380.6h0M130.4 381.1h0M130 382.9h0M129.4 383.9h0M128.7 384.3h0M128.5 384.9h0M127.2 387.2h0M126.7 387.7h0M127.8 389.4h0M127.6 389.1h0M127.6 390.1h0M126.6 391.1h0M126.2 392.8h0M126.6 393.7h0M126.8 395.3h0M127.4 396.8h0M126.6 396.2h0M125.9 397.3h0M127.1 398.5h0M127.3 400.6h0M127.3 400.5h0M128 402.1h0M128.4 402.5h0M129 404.4h0M129.3 404.6h0M129.6 405.3h0M131.3 406.3h0M131.6 407.2h0M133.6 407.2h0M132.3 407.7h0M133.6 408.5h0M136.5 408.2h0M136.9 408.4h0M138.2 408.2h0M139.6 408.9h0M140.8 408.4h0M141.8 408.7h0M142.7 407h0M143.7 408h0M144.3 406.2h0M143.2 405.7h0M146.7 405.7h0M138.9 407.1h0M137.7 407.9h0M136.6 408.2h0M136.6 409.3h0M135 409.5h0M135.3 409.8h0M133.2 411.3h0M132.9 411.4h0M132.1 411.6h0M132.3 413.3h0M130.7 413.4h0M131.4 414.6h0M131.3 415.9h0M131.5 417.4h0M130.6 417.9h0M130.8 418h0M131.1 419.1h0M132.8 420.3h0M134.4 422.5h0M135.1 424.8h0M136.2 426.4h0M135.8 428.4h0M136.8 430.4h0M137.2 432.5h0M137.7 435.6h0M137.7 437.3h0M138.8 440h0M140.4 440.1h0M142.6 441.2h0M145.3 442.1h0M147.3 443.1h0M149.5 442.9h0M151.5 442.7h0M153.3 443.3h0M155.7 444.1h0M157.8 443.3h0M159.9 444.2h0M162.3 444.9h0M141.5 405h0M141.3 405.3h0M143.4 405.6h0M143.1 406.5h0M143.3 408.8h0M145.4 409.5h0M145.8 410.7h0M146.4 410.3h0M148.4 411.7h0M149.2 415.9h0M148.7 413.8h0M151.5 415.2h0M151.8 416.8h0M151.2 417.3h0M151.4 418.3h0M152.2 419.4h0M152.3 421.1h0M154.9 422.7h0M155.1 424.6h0M154.2 424.8h0M155.8 425.1h0M156.1 425.6h0M160.7 428h0M158.2 427.9h0M160 427.1h0M162.2 427.6h0M161.7 430.4h0M162 429.7h0M165.6 430.1h0M165.6 431h0M167.1 432.2h0M167.4 433.4h0M167.2 436.1h0M169.5 437.5h0M168.2 437.7h0M170.5 438.8h0M171 439.6h0M171.6 439.9h0M172.2 440.1h0M173.6 440.3h0M175.2 443.5h0M176.1 441.3h0M177.9 442.4h0M140.9 403.3h0M143.3 404.7h0M141.1 406.6h0M142.8 406.5h0M143.4 406h0M143.7 409.1h0M146.6 410.3h0M145.8 410.7h0M147.9 410.9h0M146.9 413.2h0M148.5 414.8h0M149.6 414.3h0M149.1 416.2h0M152.9 415.5h0M151.2 418h0M153.2 418h0M152.2 418.6h0M153.7 421.5h0M154.6 420.7h0M153.8 423.4h0M156.9 425.7h0M158.3 424.7h0M159.5 425.3h0M158 426.4h0M159.4 427h0M161.7 425.9h0M162.5 427.8h0M163.8 428.5h0M165.7 429.4h0M165.2 430.4h0M165.4 431.7h0M166.6 432.6h0M167.1 434h0M168.6 434.1h0M170 434.1h0M171 437.4h0M171.1 439.5h0M169.8 439.3h0M171.9 440.7h0M171.6 440.8h0M174.4 441.1h0M175.7 441h0M177.7 442.2h0M177.6 442.1h0M141.4 406.9h0M142.9 405.9h0M141.9 406.3h0M143.2 406.2h0M144.2 408h0M146.7 407.7h0M146.6 407.8h0M147.5 409.2h0M149.6 412.5h0M148 411.9h0M148.9 414.1h0M149.2 413.4h0M151.3 415.2h0M150.3 417.5h0M153.4 416.9h0M153.4 419.2h0M153.6 420.5h0M153.6 421.3h0M155.4 423.4h0M155.8 423.4h0M156.9 426.1h0M157.6 424.2h0M159.1 425.9h0M159 427.6h0M161.4 426.7h0M162.5 429.1h0M163.1 429.7h0M163.9 430.9h0M164.2 432.9h0M165.8 432.2h0M166.3 432.5h0M166.1 434.2h0M169.2 436.6h0M170.2 434.6h0M173.4 435.5h0M171.8 437.3h0M173.8 437.9h0M173.6 437.5h0M173.9 439.3h0M176.4 438.7h0M177.4 441.3h0M180.4 440.9h0M165.1 414.4h0M165.3 415.9h0M164.4 416h0M163.2 417.3h0M162.1 416.8h0M160.7 415.9h0M158.9 415.6h0M158.6 414.5h0M157.9 414.7h0M156.6 413.6h0M156.9 412.8h0M154.9 419.1h0M155.6 419.4h0M156.1 419.8h0M157.7 420.1h0M158.1 421.5h0M158.6 422.7h0M158.7 424.2h0M158 425.1h0M156.8 423.8h0M156.3 423.6h0M155.3 422.5h0M154.2 421.3h0M177.6 440.4h0M176.4 440.8h0M174.9 440.2h0M173.8 439.5h0M172.4 439.3h0M171.7 438.3h0M170.9 437.5h0M172 435.7h0M172.7 435.9h0M173.7 435.4h0M174.1 436.3h0M175 437.1h0M176.8 437.1h0M177.5 437.8h0M192.2 444.6h0M191.7 443h0M191.3 442.2h0M193.1 440.8h0M194.5 440.6h0M194.9 440.6h0M196.2 440.2h0M196.9 441.5h0M197.8 441.2h0M178.1 430.4h0M176.8 430h0M175.5 428.9h0M175.1 427.5h0M174.8 426.8h0M174.3 425.2h0M174.8 424.1h0M175.9 423.3h0M176.3 424.8h0M177.5 425.3h0M178.3 426.6h0M178.9 427h0M178.8 428.4h0M161.3 430.5h0M161.2 430.2h0M163.4 430.8h0M164.6 430.6h0M165.4 431.5h0M165.5 432.3h0M166.2 433.1h0M167.2 434.3h0M167.8 436.2h0M166.9 436.8h0M154.2 403.4h0M154.5 404.5h0M155.7 406h0M154.3 406.9h0M152.5 406.4h0M152.2 407h0M151.4 405h0M168.1 435.6h0M168.8 436.7h0M169.8 437.1h0M169.7 438.6h0M168.8 438.6h0M168.2 438.2h0M166.8 436.9h0M166.3 436.3h0M165.4 434.8h0M153.2 415.1h0M154 415.9h0M154.9 415.8h0M156 415.5h0M157.1 416.8h0M158.6 418h0M158.4 418.7h0M159.2 419.7h0M159.7 421.4h0M159.3 422.2h0M158.8 423.2h0M190.9 442.3h0M189.8 442.4h0M188.7 440.6h0M188.2 441.1h0M188 439.8h0M188.6 438.6h0M189.5 438h0M190.7 439.9h0M191.4 440.6h0M192.4 441.2h0M192.1 442.7h0M174.9 419.5h0M176.3 420.8h0M177.7 421.1h0M178.2 421.6h0M179.5 422.5h0M179.2 424.2h0M179.7 425.3h0M178.8 426.2h0M178.3 425.7h0M177.2 425.6h0M175.6 425.6h0M174.5 424.6h0M174 422.8h0M173.8 422h0M178.5 439.3h0M179.2 437.8h0M180.4 438.3h0M181.4 438.7h0M183.1 439.5h0M183.4 440.5h0M185 441.5h0M185.5 441.6h0M184.8 443.4h0M183.4 443.7h0M182.4 443.1h0M182.2 443.2h0M180.3 441.7h0M179.7 441h0M179 425.6h0M177.4 425h0M176.7 423.4h0M175.8 422.5h0M175.3 421.5h0M175 420.5h0M175.1 418.6h0M176.3 418.8h0M177.7 418.6h0M171.7 417.8h0M172.5 419.2h0M171.9 420.3h0M170.3 420.2h0M169.5 419.4h0M168.5 418.2h0M167.7 418h0M166.5 416.6h0M166.7 415.2h0M167.6 414.7h0M168.9 415.2h0M169.5 414.6h0M170.3 415.9h0M174.5 416.7h0M176.1 418.3h0M177.1 418.4h0M178.2 419.7h0M177.9 420.8h0M177.7 422h0M177.6 423.8h0M177 424.1h0M174.7 424h0M173.5 424h0M172.7 423h0M172.2 422.4h0M171.4 421.3h0M171.2 420h0M163.7 416.1h0M163.1 415.4h0M161.5 415.7h0M161.1 414.3h0M159.8 413.1h0M159.9 411.7h0M159.2 411.2h0M159.8 409.4h0M160.2 408h0M161.8 407.8h0M162.5 408h0M163.5 407.8h0M192.2 436.6h0M191.6 436.1h0M190.5 435.3h0M189.6 434.1h0M189.6 433.3h0M188.4 431.2h0M189.3 430.7h0M190.6 430.1h0M191.6 430.4h0M195.2 435.3h0M195.6 436.6h0M192.7 443.6h0M193.7 444h0M194.3 445.2h0M187.2 444.5h0M187.3 443h0M187.9 442.3h0M189.3 441.8h0M190.2 442.1h0M169.3 434.8h0M168.9 435.4h0M168 435.5h0M166.2 435.2h0M165.5 434.9h0M165 433.2h0M163.9 432.7h0M163.1 430.2h0M164.7 406.1h0M163.7 406.3h0M162.9 404.2h0M162.6 403.3h0M163.3 402.5h0M166.9 422.3h0M168.7 423.2h0M169 423.2h0M170.2 424.4h0M171.6 424.6h0M172 425.9h0M171.5 426.9h0M170.4 427.2h0M169.7 426.6h0M168.7 425.9h0M167.7 426.7h0M165.8 424.6h0M165.2 423.9h0M165.3 422.6h0M165.6 423.2h0M166.4 423.2h0M167.8 422.7h0M168.6 424h0M168.9 425.2h0M169 426.9h0M168.2 428.1h0M144.6 396.6h0M144.5 395.4h0M146.7 396.4h0M146.9 397.5h0M148.4 397.7h0M149.2 398.2h0M150.6 399.1h0M151 400.4h0M151.2 401.4h0M151.3 402.6h0M151.2 404h0M152 405h0M151.4 403.8h0M150.3 402.6h0M149.2 402.3h0M149.5 400.9h0M150 399.5h0M150.9 399.1h0M152.6 399.6h0M154 400.3h0M190.4 435.2h0M191.7 436h0M193.4 435.6h0M194.8 436.7h0M195.3 437.2h0M196 438.5h0M197.4 438.8h0M197.7 440.1h0M198.7 441.4h0M198.3 442.3h0M197.5 442.9h0M195.7 442.9h0M149.9 399.8h0M148.7 399.9h0M148 399.1h0M147.2 397.6h0M146.7 396.5h0M146.4 396.1h0M146.8 394.5h0M148 395h0M150.1 395h0M150.2 394.8h0M151.4 396.6h0M152 397.6h0M151.5 398.7h0M151.2 399.2h0M173.4 432.2h0M156.8 425.2h0M150.6 395.9h0M165.8 422.2h0M170.6 411.2h0M162.6 419.9h0M177.3 421.3h0M155.2 409.3h0M183.5 432.3h0M184.4 433.6h0M151.5 418.3h0M155.9 401.1h0M156.7 408.7h0M180.9 438.4h0M150.6 398.6h0M199 444.3h0M149.9 393h0M199.6 443.8h0M188.3 438.9h0M168.1 431.1h0M151.2 398.7h0M198.6 438.7h0M201.7 442.1h0M154.1 421h0M170.2 420.1h0M149.1 395.3h0M160.3 414.2h0M189 440.6h0M193 437.6h0M156.6 417.6h0M178.8 437.4h0M153.4 418.7h0M164.9 420.6h0M170.5 434.2h0M157 426.4h0M153.8 405h0M172.8 438.7h0M147.2 397.6h0M176.8 421.2h0M185.7 431.6h0M158.3 421.3h0M161.1 402.4h0M174 418.9h0M185.1 443.4h0M161.3 416.5h0M152.2 416.6h0M176.8 444.1h0M181.6 433.1h0M149.4 412.3h0M159.3 408.2h0M160.4 411.5h0M173.7 429.9h0M146.6 391.8h0M158.2 402.2h0M178.9 418.5h0M198.9 444.1h0M160.1 410.9h0M149.3 401.7h0M155.3 417.8h0M184.9 442.9h0M155.3 422.9h0M147 399.9h0M143.1 404.2h0M176.4 445.4h0M172.4 436.2h0M160.9 413h0M165.1 411h0M153.8 418.1h0M176.1 429.2h0M162.4 428.5h0M199.8 442.4h0M182.1 441.6h0M175.3 423.4h0M191.5 443.9h0M178 432h0M163 424.4h0M178.9 427.2h0M159.8 415.9h0M152.7 406.8h0M161.1 416.4h0M201.8 444.4h0M178.7 444.3h0M150.2 410.3h0M177.4 436.4h0M151.5 416.1h0M169.3 433.2h0M158.3 428.7h0M151.5 413.9h0M154 416.5h0M154.3 419.7h0M171.4 444.4h0M158.7 442h0M159.6 440h0M188.9 441.6h0M194.8 444.7h0M172.8 445.5h0M174.4 438.3h0M163.9 443.9h0M187.8 444.9h0M176.4 437.6h0M161.3 444.3h0M165.5 440.5h0M174.5 442.7h0M170.1 441.8h0M161 445.1h0M174.9 444.4h0M180.3 441.3h0M191.1 445.1h0M186.6 441.5h0M161.5 443.9h0M164 442.6h0M171.6 442.4h0M176.4 437h0M177.7 438.5h0M175.6 441h0M180 439.9h0M157.8 444.8h0M151.2 445.1h0M174.1 439.4h0M192.8 442.1h0M157.5 444h0M177.4 441h0M162.9 441.4h0M162.7 442.6h0M174.2 441h0M174.8 443.2h0M181.8 444.4h0M175.4 438.9h0M181.2 444.8h0M175.9 440.6h0M161 438.7h0M182.9 439.4h0M161.3 442.6h0M168.3 441h0M170.4 443.9h0M176.5 438.7h0M180.2 442.4h0M164.4 442.2h0M170.7 445.5h0M185 442.8h0M181.5 438.5h0M185.4 443h0M169.8 439.7h0M190.8 445.1h0M193.7 443.5h0M171.2 442.6h0M195.7 443.9h0M173.7 437.9h0M175.3 443.2h0M194.1 444.4h0M150 445.6h0M151.1 445.8h0M152 445.8h0M152.9 445.8h0M154.3 445.9h0M155 445.7h0M156.1 445.6h0M157 445.6h0M157.8 445.9h0M159 445.6h0M159.8 445.8h0M161 445.6h0M161.9 445.9h0M163 445.8h0M164 445.8h0M165.1 445.8h0M166 446h0M167 445.6h0M168 446h0M169.1 445.8h0M170.1 445.8h0M171.1 445.7h0M171.6 445.9h0M173.1 445.5h0M173.9 446h0M175.1 445.7h0M176.1 445.9h0M177.1 446h0M178.1 445.4h0M179 446h0M179.7 445.8h0M181 445.6h0M182.1 445.9h0M183.1 445.7h0M184.2 446.1h0M185 445.8h0M185.9 445.6h0M186.8 445.8h0M188 445.9h0M189.1 445.7h0M189.9 446.2h0M191 445.9h0M191.8 445.9h0M193.1 445.8h0M194 446h0M194.9 445.8h0M195.8 445.9h0M197 445.9h0M197.8 446.2h0M199.2 446h0M200.1 445.9h0M201.1 445.5h0M201.9 445.7h0M203.1 445.9h0M203.9 445.8h0M205.2 445.8h0M206.1 445.8h0M206.9 445.6h0M207.9 445.9h0M208.8 445.8h0M210.1 445.9h0M211.2 445.8h0M212 445.8h0M212.9 445.9h0M214.2 445.6h0M215 445.6h0M215.9 445.7h0M217.1 445.7h0M217.9 445.9h0M219.3 445.9h0M220.1 445.8h0M221 445.7h0M222.3 445.7h0M223.3 445.6h0M224 445.8h0M224.8 445.9h0M226.3 445.7h0M227.1 445.7h0M228 446h0M228.9 445.7h0M230.2 445.6h0M231.1 445.8h0M232.1 445.8h0M233.1 445.6h0M234.3 445.7h0M235 445.6h0M236 445.7h0M237.2 445.7h0M237.9 445.8h0M238.9 445.8h0" stroke="#848484" stroke-width="2.7" stroke-linecap="round" fill="none"/><path d="M108.5 332L109.1 332.8L109.9 334L110.8 335.3L111.7 336.6L112.4 337.8L113 338.8L113.7 339.7L114.2 340.5L114.5 341.4L114.6 342.4L114.2 343.5L113.4 344.7L112.5 346L111.6 347.1L111.2 348.1L111.2 348.8L111.4 349.4L111.8 349.8L112.3 350.3L113 351L113.8 351.9L114.8 352.9L115.9 354L117.1 355.1L118.1 356.1L119.1 356.9L120 357.7L120.9 358.4L121.8 359.2L122.7 360.3L123.5 361.7L124.3 363.3L125.1 365L126 366.7L127.2 368.3L128.7 369.8L130.5 371.1L132.5 372.5L134.5 373.8L136.4 375.2L138.1 376.5L139.7 377.6L141.4 378.8L143.2 380.2L145.5 382L148.2 384.2L151.1 386.8L154.3 389.6L157.8 392.6L161.6 395.8L165.7 399.2L170.3 402.9L175 406.7L179.8 410.5L184.5 414.1L189.2 417.5L193.9 420.7L198.6 423.9L203.1 427L207.4 430.1L211.6 433.4L215.9 437L219.9 440.4L223.3 443.2L225.7 445.3" stroke="#000" stroke-width="1.3" stroke-linejoin="round" stroke-linecap="round" fill="none"/><path d="M108.5 332L109.1 332.8L109.9 334L110.8 335.3L111.7 336.6L112.4 337.8L113 338.8L113.7 339.7L114.2 340.5L114.5 341.4L114.6 342.4L114.2 343.5L113.4 344.7L112.5 346L111.6 347.1L111.2 348.1L111.2 348.8L111.4 349.4L111.8 349.8L112.3 350.3L113 351L113.8 351.9L114.8 352.9L115.9 354L117.1 355.1L118.1 356.1L119.1 356.9L120 357.7L120.9 358.4L121.8 359.2L122.7 360.3L123.7 361.8L124.7 363.6L125.7 365.5L126.6 367.2L127.2 368.3" stroke="#000" stroke-width="1.9" stroke-linejoin="round" stroke-linecap="round" fill="none"/><path d="M131.5 379.5L133.5 380.7L136.2 382.4L139.5 384.3L142.8 386.4L146 388.5L149 390.6L152 392.7L155 394.9L158 397.2L161 399.5L164 401.8L167 404.2L170 406.6L173 409.1L176 411.5L179 414L182.1 416.5L185.1 419L188.1 421.5L191 424L193.8 426.5L196.5 429L199.1 431.4L201.6 433.8L204 436L206.4 438.2L208.9 440.4L211.2 442.5L213.1 444.2L214.5 445.5" stroke="#000" stroke-width="1.55" stroke-linejoin="round" stroke-linecap="round" fill="none"/><path d="M131.5 379.5L133.4 380.7L136 382.4L139.1 384.5L142.3 386.6L145.3 388.8L148.2 390.9L151.1 393L154 395.3L156.9 397.6L159.8 399.9L162.8 402.2L165.7 404.7L168.7 407.1L171.6 409.6L174.6 412L177.5 414.5L180.6 417L183.5 419.6L186.5 422.1L189.3 424.5L192 427L194.7 429.4L197.3 431.8L199.8 434.1L202.2 436.3L204.6 438.4L207.1 440.6L209.4 442.6L211.3 444.3L212.7 445.5" stroke="#000" stroke-width="1.55" stroke-linejoin="round" stroke-linecap="round" fill="none"/><path d="M131.5 379.5L133.3 380.8L135.8 382.5L138.7 384.6L141.8 386.9L144.7 389L147.4 391.2L150.1 393.4L152.9 395.6L155.7 398L158.6 400.3L161.4 402.7L164.3 405.1L167.2 407.6L170.1 410.1L173 412.6L175.9 415.1L178.9 417.6L181.8 420.1L184.7 422.6L187.5 425.1L190.2 427.5L192.8 429.9L195.4 432.2L197.8 434.4L200.2 436.5L202.7 438.6L205.1 440.7L207.5 442.7L209.4 444.3L210.9 445.5" stroke="#000" stroke-width="1.55" stroke-linejoin="round" stroke-linecap="round" fill="none"/><path d="M131.5 379.5L133.2 380.8L135.6 382.6L138.3 384.8L141.2 387.1L144 389.3L146.6 391.5L149.3 393.7L151.9 396L154.7 398.3L157.4 400.7L160.2 403.1L163 405.6L165.9 408.1L168.7 410.6L171.6 413.1L174.5 415.6L177.4 418.2L180.2 420.7L183.1 423.2L185.8 425.6L188.5 428L191 430.3L193.6 432.6L196 434.7L198.4 436.8L200.8 438.8L203.3 440.9L205.7 442.8L207.7 444.4L209.1 445.5" stroke="#000" stroke-width="1.55" stroke-linejoin="round" stroke-linecap="round" fill="none"/><path d="M131.5 379.5L133.1 380.8L135.4 382.7L138 384.9L140.8 387.3L143.4 389.5L145.9 391.7L148.4 394L151 396.3L153.7 398.7L156.3 401.1L159 403.5L161.8 406L164.6 408.5L167.5 411.1L170.3 413.6L173.1 416.1L175.9 418.7L178.8 421.2L181.5 423.7L184.2 426.1L186.9 428.4L189.4 430.7L191.9 432.9L194.4 435L196.7 437L199.2 439L201.7 441L204 442.8L206 444.4L207.5 445.5" stroke="#000" stroke-width="1.55" stroke-linejoin="round" stroke-linecap="round" fill="none"/><path d="M131.5 379.5L133 380.9L135.1 382.8L137.6 385.1L140.2 387.5L142.7 389.8L145.1 392.1L147.5 394.3L150 396.7L152.5 399.1L155.1 401.5L157.7 404L160.4 406.5L163.2 409L166 411.6L168.7 414.1L171.5 416.7L174.3 419.2L177 421.8L179.8 424.3L182.4 426.6L185 428.9L187.5 431.2L190 433.3L192.4 435.4L194.8 437.3L197.2 439.2L199.7 441.2L202.1 442.9L204.1 444.4L205.6 445.5" stroke="#000" stroke-width="1.55" stroke-linejoin="round" stroke-linecap="round" fill="none"/><path d="M131.5 379.5L132.9 380.9L134.9 382.9L137.2 385.3L139.6 387.7L142 390.1L144.3 392.4L146.5 394.7L148.9 397.1L151.3 399.5L153.8 401.9L156.4 404.4L159 407L161.8 409.6L164.5 412.1L167.2 414.7L169.9 417.3L172.6 419.8L175.3 422.4L178 424.8L180.6 427.2L183.1 429.5L185.6 431.6L188.1 433.7L190.5 435.7L192.8 437.6L195.2 439.5L197.8 441.3L200.2 443L202.2 444.5L203.7 445.5" stroke="#000" stroke-width="1.55" stroke-linejoin="round" stroke-linecap="round" fill="none"/><path d="M131.5 379.5L132.8 381L134.7 383L136.9 385.4L139.3 387.9L141.5 390.3L143.7 392.6L145.9 394.9L148.1 397.3L150.5 399.7L152.9 402.2L155.4 404.7L158.1 407.3L160.7 409.9L163.4 412.5L166.1 415.1L168.8 417.7L171.4 420.2L174.1 422.8L176.7 425.3L179.3 427.6L181.8 429.8L184.3 432L186.7 434L189.1 436L191.4 437.8L193.8 439.6L196.4 441.4L198.8 443.1L200.9 444.5L202.3 445.5" stroke="#000" stroke-width="1.55" stroke-linejoin="round" stroke-linecap="round" fill="none"/><path d="M131.5 379.5L132.8 381L134.5 383.1L136.6 385.5L138.9 388.1L141 390.5L143.1 392.8L145.2 395.2L147.4 397.6L149.6 400L152 402.5L154.5 405L157.1 407.7L159.7 410.3L162.4 412.9L165 415.5L167.6 418.1L170.2 420.7L172.9 423.2L175.5 425.7L178 428L180.5 430.2L182.9 432.3L185.3 434.3L187.7 436.2L190 438L192.4 439.8L195 441.5L197.4 443.2L199.5 444.5L201 445.5" stroke="#000" stroke-width="1.55" stroke-linejoin="round" stroke-linecap="round" fill="none"/><path d="M150.1 416.4L151.3 417.5L153.1 419L155.3 420.6L157.7 422.3L160 424L162.3 425.7L164.6 427.5L167.1 429.4L169.6 431.2L172 433L174.5 434.7L177.1 436.5L179.6 438.2L182 439.7L184 441L185.7 442.1L187.3 443.2L188.6 444L189.5 444.4L190 444.5L190 444L189.5 443.1L188.7 441.9L187.5 440.5L186 439L184.1 437.3L181.8 435.5L179.2 433.5L176.5 431.4L174 429.5L171.6 427.6L169.1 425.7L166.7 423.9L164.3 422.1L162 420.5L159.7 419L157.5 417.5L155.3 416.2L153.4 415.1L152 414.5L150.9 414.3L150.1 414.4L149.6 414.9L149.6 415.5Z" stroke="#000" stroke-width="1.1" stroke-linejoin="round" stroke-linecap="round" fill="none"/><path d="M165 416.9L166.5 418.3L168.7 420.2L171.1 422.4L173.7 424.8L176 427L178.1 429.2L180.3 431.6L182.4 433.9L184.3 436.1L186 438L187.5 439.7L188.8 441.2L189.9 442.6L190.8 443.7L191.5 444.5" stroke="#000" stroke-width="1.1" stroke-linejoin="round" stroke-linecap="round" fill="none"/><path d="M168.5 420.3L169.8 421.6L172 423.5L174.6 425.6L177.4 427.9L180 430L182.5 432.1L185 434.3L187.6 436.4L190 438.4L192 440L193.8 441.3L195.4 442.3L196.7 443.1L197.8 443.5L198.4 443.6L198.6 443.3L198.5 442.6L198.1 441.6L197.2 440.4L196 439L194.2 437.3L191.9 435.3L189.3 433.2L186.6 431L184 429L181.5 427L178.8 424.9L176.2 422.9L173.9 421.2L172 420L170.5 419.3L169.3 419L168.4 419.1L168.1 419.5Z" stroke="#000" stroke-width="1" stroke-linejoin="round" stroke-linecap="round" fill="none"/><path d="M191.5 445.4L224.8 445.4" stroke="#000" stroke-width="1.4" stroke-linejoin="round" stroke-linecap="round" fill="none"/><path d="M72.3 443.9L72.8 442.4L73.5 440.6L74.3 438.5L75.2 436.1L76.1 433.4L77.2 430.7L78.2 427.7L79.3 424.7L80.4 421.7L81.4 418.7L82.5 415.5L83.6 412L84.9 408.3L86.1 404.5L87.4 400.6L88.6 396.8L89.8 393.2L91 389.8L92 386.8L92.9 384.3L93.7 382.2L94.3 380.6L94.9 379.2L95.5 378.1L95.9 377.1L96.3 376.4L96.8 375.7L97.2 375L97.6 374.3L98 373.5L98.4 372.7L98.9 371.9L99.3 371.2L99.7 370.5L100.1 369.9L100.5 369.3L100.9 368.7L101.2 368.2L101.6 367.7L102 367.2L102.4 366.8L102.7 366.4L103.1 366L103.4 365.7L103.8 365.4L104.1 365.2L104.5 365L104.8 364.8L105.2 364.6L105.5 364.4L105.8 364.2L106.2 364.1L106.5 364L106.9 363.9L107.2 363.8L107.5 363.8L107.9 363.7L108.2 363.7L108.6 363.7L108.9 363.7L109.2 363.7L109.6 363.8L109.9 363.8L110.3 363.9L110.6 363.9L110.9 364L111.3 364.2L111.6 364.3L112 364.4L112.3 364.6L112.6 364.7L112.9 364.9L113.1 364.9L113.3 365L113.5 365.2L113.8 365.4L114.2 365.6L114.6 366L115.1 366.5L115.8 367.2L116.6 368.1L117.6 369.1L118.6 370.2L119.8 371.5L121 372.8L122.3 374.2L123.5 375.6L124.8 377L126 378.5L127.2 379.8L128.3 381.1L129.5 382.5L130.6 383.9L131.8 385.4L133 386.8L134.1 388.2L135.3 389.6L136.4 391L137.6 392.3L138.7 393.5L139.8 394.7L141 395.8L142.1 396.9L143.3 398L144.4 399L145.5 400L146.7 401L147.8 401.9L149 402.9L150.1 403.8L151.2 404.7L152.4 405.6L153.5 406.4L154.7 407.3L155.8 408.1L157 408.9L158.2 409.6L159.3 410.4L160.5 411.1L161.6 411.8L162.7 412.5L163.9 413.1L165 413.7L166.2 414.3L167.3 414.9L168.4 415.4L169.6 415.9L170.7 416.5L171.9 417L173 417.5L174.1 418L175.1 418.4L176.1 418.9L177 419.3L178 419.7L179.1 420.1L180.2 420.5L181.5 421L182.9 421.5L184.5 422.1L186.3 422.8L188.4 423.5L190.5 424.3L192.8 425.2L195.2 426L197.7 426.9L200.2 427.8L202.6 428.6L205.1 429.4L207.4 430.1L209.7 430.8L211.9 431.4L214.2 432L216.5 432.6L218.7 433.1L221 433.7L223.3 434.2L225.6 434.7L227.9 435.3L230.3 435.8L232.8 436.4L235.6 437L238.5 437.6L241.4 438.2L244.3 438.8L247.1 439.4L249.6 439.9L252 440.4L253.9 440.8L255.4 441.1" stroke="#f00" stroke-width="3" stroke-linejoin="round" stroke-linecap="round" fill="none"/>
</g>
<rect x="71.5" y="278.5" width="184.5" height="167.5" fill="none" stroke="#000" stroke-width="1"/>
<path d="M71.5 446 v-3 M71.5 278.5 v3 M113.43 446 v-3 M113.43 278.5 v3 M155.36 446 v-3 M155.36 278.5 v3 M197.3 446 v-3 M197.3 278.5 v3 M239.23 446 v-3 M239.23 278.5 v3 M71.5 446 h3 M256 446 h-3 M71.5 422.07 h3 M256 422.07 h-3 M71.5 398.14 h3 M256 398.14 h-3 M71.5 374.21 h3 M256 374.21 h-3 M71.5 350.29 h3 M256 350.29 h-3 M71.5 326.36 h3 M256 326.36 h-3 M71.5 302.43 h3 M256 302.43 h-3 M71.5 278.5 h3 M256 278.5 h-3" stroke="#000" stroke-width="1" fill="none"/>
<text transform="translate(73.1 463.7) scale(0.94 1)" text-anchor="middle">0</text>
<text transform="translate(115.03 463.7) scale(0.94 1)" text-anchor="middle">50</text>
<text transform="translate(156.96 463.7) scale(0.94 1)" text-anchor="middle">100</text>
<text transform="translate(198.9 463.7) scale(0.94 1)" text-anchor="middle">150</text>
<text transform="translate(240.83 463.7) scale(0.94 1)" text-anchor="middle">200</text>
<text transform="translate(64 450.8) scale(0.94 1)" text-anchor="end">0</text>
<text transform="translate(64 426.87) scale(0.94 1)" text-anchor="end">500</text>
<text transform="translate(64 402.94) scale(0.94 1)" text-anchor="end">1000</text>
<text transform="translate(64 379.01) scale(0.94 1)" text-anchor="end">1500</text>
<text transform="translate(64 355.09) scale(0.94 1)" text-anchor="end">2000</text>
<text transform="translate(64 331.16) scale(0.94 1)" text-anchor="end">2500</text>
<text transform="translate(64 307.23) scale(0.94 1)" text-anchor="end">3000</text>
<text transform="translate(64 283.3) scale(0.94 1)" text-anchor="end">3500</text>
<text transform="translate(163.25 264) scale(0.94 1)" text-anchor="middle">Data Set 1</text>
<text transform="translate(163.75 481.5) scale(0.94 1)" text-anchor="middle">Density (1/km)</text>
<text transform="translate(15.9 362.25) rotate(-90) scale(0.94 1)" text-anchor="middle">Flow (1/h)</text>
</g>
<g>
<clipPath id="cB2"><rect x="344.5" y="281.5" width="185" height="167.5"/></clipPath>
<text transform="translate(473.5 295.5) scale(0.94 1)" text-anchor="end">Empirical data</text>
<text transform="translate(473.5 308.2) scale(0.94 1)" text-anchor="end">Simulation VDIFF</text>
<text transform="translate(473.5 320.5) scale(0.94 1)" text-anchor="end">Fundamental diagram</text>
<circle cx="497.5" cy="290.8" r="1.4" fill="#888"/>
<path d="M481 303.5 H514" stroke="#000" stroke-width="0.8" fill="none"/>
<circle cx="497.5" cy="303.5" r="0.9" fill="#000"/>
<path d="M481 315.8 H514" stroke="#f00" stroke-width="3" fill="none"/>
<g clip-path="url(#cB2)">
<path d="M397.3 366.1h0M397.3 365.8h0M397.2 364.2h0M397.2 364.4h0M398.2 363.4h0M398.1 362.9h0M397.7 361.4h0M397.7 360.9h0M398.3 360.3h0M398.1 359.5h0M398.7 358.5h0M398.9 358.1h0M398.5 357.2h0M399.2 356.4h0M399.9 355.1h0M399.6 354.6h0M399.8 354.1h0M400.1 353.1h0M400.3 352.5h0M400.4 351.4h0M400.8 350.8h0M400.6 349.9h0M400.8 349.9h0M401.3 348.5h0M401.3 347.8h0M401.6 347.2h0M401.4 346.1h0M401.9 345.6h0M402 344.6h0M402.1 344.6h0M402.9 343.2h0M404 342.3h0M403 342.3h0M404.6 341.5h0M404.8 341h0M404.7 339.2h0M405.5 339.7h0M406.5 338.9h0M407.2 339.5h0M407.7 339.8h0M408.4 340.4h0M408.3 340.8h0M408.6 341.8h0M409.1 342.9h0M408.8 343.5h0M409.2 344.4h0M409 345h0M408.7 345.9h0M408.2 346.2h0M408.4 347.7h0M408.5 348.3h0M408 348.6h0M407.8 349.6h0M407.4 350.3h0M407.3 351.3h0M406.8 352.2h0M407.1 353.3h0M407.2 353.7h0M407.1 354.3h0M405.8 355.2h0M406.1 355.6h0M405.6 357.2h0M405.4 357.4h0M405.4 358.4h0M405.4 359.4h0M404.5 359.7h0M404.4 360.6h0M404.2 361.2h0M404.6 361.9h0M403.8 363.1h0M404 362.9h0M403.2 363.7h0M403.2 364.8h0M407.3 364.4h0M408.1 363.5h0M407.4 362.5h0M407.6 362.5h0M408.2 360.7h0M408.5 361h0M408.4 359.1h0M408.8 358.9h0M409.1 358.6h0M408.6 357.3h0M409 355.8h0M409.3 355.8h0M409.7 354.8h0M410 354h0M410.1 353.3h0M410.1 352.2h0M410.4 351.8h0M410.9 351h0M410.5 350.5h0M411.2 349.6h0M411.1 348.6h0M411.6 347.7h0M412 346.8h0M412 346.8h0M412.5 346.4h0M413.3 344.9h0M414 344.2h0M414.6 343.6h0M415.1 343.1h0M415.1 343.2h0M416.3 342.1h0M416.5 341.4h0M417.3 341.7h0M418 341.5h0M418.4 342.1h0M419.3 342.6h0M420.4 342.9h0M420.3 343.7h0M420.7 344.2h0M420.8 344.5h0M421.2 345.8h0M421.5 346.6h0M421.2 347.7h0M421.2 348.8h0M421.1 349.2h0M421.2 350h0M421.2 350.5h0M421 351.1h0M420.6 352.1h0M420.3 353.1h0M420.2 354h0M419.5 355.1h0M419.6 355.3h0M419 356.3h0M418.4 356.7h0M418.4 357.2h0M417.5 357.7h0M417.5 358.7h0M417.1 359.6h0M416.7 359.4h0M416 360.2h0M414.9 360.8h0M414.6 362h0M414.3 362.5h0M413.1 363.4h0M413.1 363.7h0M412.5 363.9h0M411.3 364.3h0M410.2 364.7h0M410 365.4h0M409.9 365.7h0M409.2 366.1h0M419.5 358.1h0M419.7 357.2h0M420.2 357.2h0M420.5 356.6h0M421.3 355.8h0M421.7 355.8h0M422.6 355.1h0M422.5 354.4h0M423.3 353.4h0M423.7 353.2h0M424.2 352h0M424.6 351.8h0M425.1 350.9h0M425.9 350.5h0M425.8 349.7h0M427 349.6h0M427.6 348.6h0M427.8 348.2h0M428.8 347.9h0M429.4 346.7h0M429.9 347h0M430.6 346.1h0M431.1 345.4h0M431.8 345.3h0M432.1 344.5h0M433.1 344.2h0M433.9 344.6h0M434.7 345.3h0M435.4 345.7h0M436 346.1h0M436.6 346.6h0M437.5 347.2h0M437.8 347.4h0M438.5 347.2h0M439 346.7h0M440.1 346.7h0M440.4 346.3h0M441.2 345.5h0M441.7 345.8h0M443 346.1h0M442.6 347.5h0M442.5 348.1h0M443.4 348.6h0M443.2 350.1h0M443.3 349.9h0M442.9 351.2h0M442.9 351.8h0M443 352.6h0M442.9 353.5h0M442.8 354.3h0M443.5 355.4h0M443 355.6h0M442.8 357h0M442.7 357.5h0M442.8 358.3h0M443 359.4h0M442.3 360h0M442.5 360.4h0M441.9 361.8h0M441.9 362.3h0M442.2 363.6h0M442.3 364h0M441 363.7h0M441.5 365.1h0M440.8 365.8h0M440.4 367.5h0M439.9 367.8h0M440.1 368.3h0M439.8 368.6h0M439.1 369.3h0M438.9 370.7h0M437.9 371h0M438.2 371.7h0M437.3 371.9h0M437.5 373.5h0M435.8 374h0M436.1 374h0M435 374.6h0M434.8 375.2h0M434.4 376.2h0M433.3 377.2h0M432.8 377.4h0M432.8 377.7h0M431.4 378.7h0M431.1 379.2h0M431 378.5h0M430.4 380h0M429.7 380.1h0M429.1 381.2h0M428.3 381.6h0M427.7 381h0M426.7 381.6h0M425.7 382h0M425.2 383h0M425.1 382.4h0M423.4 383.1h0M423.5 383.3h0M422.1 383.8h0M422.1 384.2h0M421.2 384.3h0M423.9 354.4h0M424.2 355.9h0M423.7 356.5h0M424.4 357.6h0M424.3 358.2h0M424.5 358.4h0M425.2 359.5h0M425.2 360h0M425.5 361.4h0M426 362.1h0M426.7 361.8h0M427.5 362.3h0M428 361.8h0M428.7 361.9h0M429.9 362.3h0M430.5 362h0M431.3 361.4h0M432.1 361.3h0M433.2 361.1h0M433.6 360.8h0M435 361.2h0M435.5 361.8h0M436.2 361.4h0M437 361.1h0M437.7 361.2h0M438.5 361.6h0M439.7 361.3h0M440.3 361.9h0M440.8 362h0M441.6 362.8h0M441.8 362.9h0M443.2 363.5h0M443.5 363.9h0M444.5 364.3h0M445.4 364.6h0M445.4 365.5h0M446.5 365.5h0M447.4 366.2h0M447.3 366h0M448.5 366.3h0M448.8 367.2h0M449.7 368h0M449.8 368.6h0M450.4 369h0M451.1 369.3h0M451.7 370.1h0M451.7 370.3h0M452.9 371h0M453.7 371.5h0M453.3 372.7h0M454.5 373.2h0M455.1 373.6h0M455.6 374.8h0M455.8 375.2h0M456.2 375.9h0M456.6 376.3h0M457.5 376.9h0M457.5 378.1h0M458 378.4h0M458.2 379.4h0M458 379.4h0M458.7 380.5h0M459.8 381.5h0M459.9 382.2h0M459.8 382.5h0M460.6 383.6h0M461.4 384.5h0M461.4 384.9h0M461.4 384.9h0M461.9 386.3h0M397.5 367h0M397.6 365.3h0M397.9 364.6h0M397.2 363.3h0M398.2 362.6h0M398.2 361.7h0M398.1 361h0M398.4 359.7h0M398.8 358.6h0M398.8 358.4h0M398.9 356.8h0M399.2 355.4h0M399.4 354.6h0M399.5 354.1h0M400 352.4h0M400.2 351.6h0M400.5 351h0M400.6 350.2h0M401.1 349h0M401.1 348.1h0M401.1 347.2h0M402 346.5h0M401.9 345.2h0M402.8 344.1h0M402.4 343.2h0M403.6 342.6h0M404.1 341.5h0M404.1 340.8h0M405.6 340.1h0M406 339.6h0M407.2 339.3h0M407.4 339.4h0M407.8 340.5h0M408.9 341.3h0M408.8 342.5h0M408.9 343.2h0M408.7 344.4h0M408.8 344.9h0M408.1 346.6h0M408.7 346.6h0M408.2 348.1h0M407.5 349.2h0M407.6 349.9h0M407.7 351.4h0M407.8 351.5h0M407 353h0M406.6 353.8h0M406.7 354.4h0M405.7 355.9h0M406.3 356.1h0M405.9 357.8h0M404.9 359.3h0M405.2 359.7h0M405 360.6h0M404.8 361.9h0M404 362.1h0M403.4 363.5h0M403.4 364.7h0M407.6 364.5h0M407.9 363.7h0M408.2 361.9h0M408.1 361.3h0M408.6 360.3h0M408.9 358.8h0M408.3 358.6h0M409.2 356.6h0M409 355.8h0M409.3 355.5h0M409.7 354.4h0M410.1 353.4h0M410.6 351.9h0M410.1 351.5h0M410.8 351.1h0M410.8 349.7h0M411.1 348.7h0M412.4 347.4h0M412.7 346.8h0M412.7 345.8h0M413.2 345h0M414.2 344.8h0M414.3 343.9h0M415.2 343.2h0M416.2 342.6h0M416.8 341.8h0M417.5 341.7h0M418.5 342.4h0M419.2 342.3h0M420.3 343.4h0M420.7 343.9h0M420.7 344.9h0M421.1 346.4h0M420.9 347.1h0M421 347.8h0M421.4 349.1h0M421.3 349.9h0M420.7 351.3h0M420.2 352h0M420.3 353h0M420.4 353.7h0M419.9 354.9h0M419.3 355.7h0M419.3 356.4h0M418.2 357.5h0M418 358.2h0M416.9 359.1h0M416 360.1h0M415.5 360.7h0M415.1 361h0M414.7 362.2h0M414.1 362.8h0M412.6 363.4h0M412.1 364h0M411 364.5h0M410.8 365.4h0M410 366.2h0M408.5 366.7h0M434.1 380.5h0M435.1 380.6h0M436.9 381.1h0M438.1 381.4h0M440.2 381.7h0M441.2 381.8h0M442.8 381.6h0M444.5 381.4h0M446.7 380.7h0M447.3 381.4h0M448.9 381.3h0M450.4 382.1h0M451.8 382.5h0M453 383.1h0M454.6 383.5h0M456.3 383.9h0M457.8 384.6h0M459.1 385h0M459.9 386.3h0M418.5 385.1h0M418.9 384.9h0M420.2 384.9h0M420.7 384.1h0M422.3 384.3h0M422.6 384.2h0M424.3 384.3h0M424.9 384.5h0M426 383.1h0M426.6 383.6h0M428.3 382.9h0M428.4 382.3h0M429.8 382.3h0M430.2 382.1h0M431.3 382.1h0M432.3 381.5h0M433.8 380.9h0M435 380.7h0M419.1 395.7h0M419.9 395.6h0M421.4 395.1h0M422.4 395.6h0M422.9 395.3h0M423.5 395.7h0M424.5 395.5h0M425 396.1h0M425.7 395.8h0M426.6 396.4h0M428.5 396.8h0M429.2 396.6h0M430.3 397.7h0M430.7 397.6h0M431.1 397.6h0M431.8 399.3h0M432.4 399.4h0M433.3 400.4h0M434.4 400.1h0M434.4 401h0M435 402.1h0M435.4 402.5h0M436.4 402.3h0M437.1 402.8h0M438 403.7h0M440 404h0M439.4 405.1h0M440.5 404.8h0M441.3 406.2h0M442.9 405.9h0M442.9 406.1h0M443.4 406h0M443.8 405.6h0M445.2 404.5h0M446 404.1h0M447.2 402.9h0M446.9 402.3h0M447 402.5h0M447.8 401.6h0M447.7 400.2h0M448.7 399h0M449.7 399.3h0M449.7 397.5h0M450.2 397.6h0M450.5 396.8h0M450.3 396h0M451.8 395.3h0M451.8 394.1h0M451.5 392.7h0M452.4 392.6h0M453.3 391.8h0M452.5 390.5h0M453.2 390h0M380.1 363.7h0M380.8 363.6h0M382 364.3h0M382.1 364.9h0M383.2 365.4h0M383.5 365.1h0M384.2 367h0M385 367.1h0M385.2 367.6h0M385.5 368.5h0M385.7 369.9h0M385.7 370.1h0M386.6 369.9h0M387.4 371.1h0M388.2 371.5h0M389.8 371.6h0M390.5 370.7h0M390.9 371.2h0M392.1 370.7h0M392.4 370.5h0M394.2 370.2h0M393.8 369.6h0M395.3 369.3h0M396 368h0M396.6 368.4h0M419.3 367h0M419.3 367h0M418.1 366.2h0M417 365h0M416.3 364.3h0M415.8 363.9h0M415.2 363h0M415.1 363.2h0M413.9 362.1h0M415.2 372.5h0M416.8 372.6h0M417 374h0M418.5 374.3h0M418.3 375.8h0M418.3 376.3h0M418.3 377h0M418.7 378.7h0M417.8 378.5h0M416.7 379.4h0M415.7 378.7h0M414.8 379.7h0M413.7 378.7h0M412.6 378.4h0M412.3 377.7h0M410.9 376.5h0M410.8 375.4h0M410.7 374.1h0M410.8 374.1h0M411.8 373.1h0M412.1 372.5h0M409.4 374.7h0M408.8 375.1h0M407.4 374.1h0M406.8 373.9h0M405.4 374.2h0M404.9 373h0M404.5 371.9h0M403.3 372.1h0M404.1 370h0M403.7 369h0M404.6 368h0M409.1 391h0M407.9 391.2h0M406.2 390.1h0M405.1 389.7h0M404.1 389.3h0M403.3 386.3h0M404.4 385.9h0M404.9 385.7h0M405.6 386.9h0M407.4 387.2h0M409 387.1h0M409.8 370.9h0M408.4 371.8h0M408 372.2h0M406.3 372.8h0M405.8 372.8h0M404.8 372.1h0M403.9 372h0M402.6 371.2h0M402 370.2h0M405.6 364.2h0M405.9 363.6h0M406.3 363.8h0M407.9 363.6h0M408.6 365.2h0M409.4 365.3h0M410.5 366h0M410 367h0M411.4 380.7h0M411.5 380.2h0M411.9 379.1h0M412.1 379.4h0M414.4 378.2h0M414.9 378.5h0M416 379.1h0M416.6 379.2h0M417.7 379.6h0M418.3 379.9h0M419.3 380.2h0M407.4 363h0M407.9 363.9h0M408.6 364.4h0M407.5 365.8h0M407.3 366h0M406.3 366h0M405.1 366.1h0M404.7 365.6h0M403 365.3h0M403.3 364.7h0M419.6 365.7h0M417.4 365.3h0M417.7 365.7h0M416.4 364h0M417.2 363.5h0M415.7 362.7h0M400.8 376.4h0M400.5 375.8h0M401 374.4h0M401.6 374.5h0M403 374.7h0M403.4 374.1h0M405.5 373.8h0M405.4 374.3h0M407 375.7h0M407.1 375.1h0M408.3 375.9h0M408.5 376.6h0M410.1 376.7h0M410.8 378.1h0M411.7 378.2h0M411.8 379.2h0M412.2 380.2h0M411.2 380.3h0M410 381h0M409.5 381.1h0M420.2 372.4h0M419.4 372.9h0M418.5 371.7h0M417.6 370.8h0M417.7 370.8h0M417.6 369.6h0M416.3 369h0M416.5 367.9h0M416.6 367.1h0M418 366.4h0M419.1 367.4h0M420.1 367.2h0M414.8 389.5h0M414.3 388.3h0M413.2 388.1h0M412.5 387.6h0M412.2 387h0M412.6 385.9h0M411.6 384.6h0M411.3 383.1h0M411.9 382.3h0M412.1 381.5h0M413 381h0M413.9 380h0M413.9 380.7h0M415.3 380.2h0M417.2 381h0M410.9 378h0M410.7 376.5h0M410.5 375.8h0M410 374.7h0M410.7 374.6h0M411.1 374.1h0M412.7 373.4h0M412.9 373.2h0M414.5 372.9h0M415.3 373.4h0M416.3 374.1h0M417.4 374.2h0M417.7 373.9h0M418.8 374.9h0M419.4 375.9h0M419 379.4h0M418.8 380h0M406 372.6h0M407.5 370.8h0M407.5 370.7h0M409.2 370.9h0M410 370.3h0M411.1 370.2h0M412.5 370.4h0M412.5 371.3h0M413.4 372h0M414.2 371.7h0M414.6 373h0M414.6 374.5h0M414.9 374.8h0M413.1 375.7h0M412.2 376h0M411.6 376.6h0M410.4 376.5h0M409.2 376.1h0M412.9 374.7h0M413.3 376.1h0M413.2 377.5h0M413.7 377.5h0M413.2 378.6h0M412.8 379.5h0M411.7 379.5h0M410.3 379.5h0M410.1 379.1h0M409.2 377.9h0M408 378.3h0M407.9 377.4h0M407.3 375.7h0M406.7 375.5h0M406.2 374.7h0M407.1 373.5h0M407.2 372.5h0M407.8 372.5h0M416.5 369.5h0M416.7 370.6h0M417.8 370.9h0M418 371.8h0M419.4 373h0M418.8 373.9h0M418.8 374.7h0M418 375.3h0M416.5 376h0M415.7 376.4h0M415.6 375.7h0M402.3 368.5h0M403.1 367.3h0M404.6 367.1h0M405.3 368h0M406.1 368.2h0M407.9 368.6h0M408 368.1h0M408.8 368.7h0M410.2 369.6h0M409.9 368.9h0M410.9 371.2h0M411.5 371.8h0M412.4 372.8h0M412.4 374.3h0M411.9 375.1h0M412.5 376h0M411.4 377.2h0M410.1 376.9h0M409.8 377.6h0M408.9 377.8h0M408.2 378.2h0M407.4 378.1h0M405.7 378.2h0M405.1 378.1h0M403.8 377.6h0M403.6 377h0M402.8 376.9h0M401.9 376.5h0M401 375.5h0M400.7 374.5h0M411.2 371.9h0M411.9 372.3h0M412.9 372.9h0M413.3 373.3h0M414.2 374.5h0M413.8 374.9h0M413.1 376.1h0M412.8 377.2h0M412.3 376.5h0M410.7 376.9h0M409.8 376.6h0M408.6 377h0M408.2 376.8h0M407.6 375.4h0M406.2 375.7h0M406.1 374.3h0M405 374.3h0M404.2 373.1h0M403.2 372.4h0M403.7 371.8h0M409.2 376.1h0M407.9 376h0M407.4 376.4h0M406.1 375.8h0M405.4 375.1h0M404.5 374.9h0M403.8 374.5h0M403.1 373.5h0M401.7 373.2h0M401.5 371.7h0M402.8 368.1h0M403.1 368.5h0M404.4 368.6h0M405 369.2h0M405.9 370h0M407.2 371h0M407.6 370.9h0M408.5 371.9h0M409.2 372.5h0M410.2 373.7h0M410.3 374.2h0M406.1 368.5h0M407.1 367.4h0M407 366.3h0M407.6 365.7h0M409.2 365.9h0M409.7 365.9h0M411.3 365.4h0M411.4 366.6h0M412.3 366.6h0M413.4 368.2h0M414.2 367.2h0M415 369.2h0M415.8 369.7h0M415.5 369.9h0M416.4 371.7h0M416.8 372.9h0M416.7 373.5h0M416.1 374.9h0M416.5 375.2h0M415 376.7h0M413.9 377.2h0M412.9 376.9h0M412.3 377h0M411.5 376.5h0M410.6 376.2h0M409.2 375.4h0M408.2 375.1h0M419.1 380.1h0M418.1 381.5h0M417.7 379.6h0M416.6 378.9h0M415.8 378.8h0M415.2 377.7h0M414.7 376.8h0M414.5 376h0M414.9 374.4h0M403 385.2h0M404.8 386.3h0M405.2 386.2h0M406 386.7h0M406.8 387.5h0M407.6 388.5h0M408 389.7h0M407.4 390.4h0M406.6 363.4h0M406.9 364.7h0M407.3 365.5h0M408.1 366.2h0M408.2 366.7h0M408.1 367.8h0M408.2 368.7h0M407.8 369.1h0M406.1 369.4h0M405.5 368.2h0M405.1 367.9h0M404.6 367.6h0M404 366.3h0M403.1 365.1h0M407.2 364.1h0M408.2 365.2h0M408.8 366h0M407.9 367.3h0M407.7 368h0M407.4 368.5h0M406.5 369.9h0M405.9 369.9h0M404.7 370.1h0M404 370.1h0M403.1 370.4h0M401.8 369.7h0M411.1 376.5h0M412 377.2h0M412.8 377.6h0M413.7 379.1h0M414.9 379.2h0M414.9 379.7h0M415.5 381h0M416 380.5h0M415.7 382.3h0M416.3 383.6h0M414.9 384.3h0M414.1 383.9h0M412.9 384h0M412.5 382.4h0M412.4 382.5h0M411.5 380.4h0M411.5 380.2h0M410.6 380.2h0M410.3 378h0M410.6 363h0M418.8 376.6h0M413.8 366.9h0M415.7 385h0M401.7 374.1h0M418.7 368.5h0M407.3 385.1h0M407.5 381.7h0M415.3 374.3h0M403.6 385.9h0M412.3 392.9h0M406.9 382.9h0M409.9 381h0M414.2 366.6h0M408.2 367.7h0M418.3 374.3h0M413.1 392.4h0M407.3 385.7h0M412.4 368.1h0M401.3 371.9h0M409.3 381.3h0M413.9 383.6h0M401.8 379h0M418.8 377.6h0M406 371.1h0M407.4 374.7h0M408.1 376h0M417.7 381.5h0M403.2 386.6h0M416.3 373.7h0M417.8 375.8h0M412.5 374.2h0M414.6 362.6h0M417.4 379.4h0M418.2 372.3h0M407.2 367.5h0M414.7 383.4h0M417.2 378.7h0M409.5 365.3h0M418.1 367.6h0M419.1 380.1h0M401.6 372.3h0M414.6 376.3h0M407.6 372.4h0M409.4 385.5h0M409.2 361.2h0M408.9 361.5h0M407.7 363.6h0M408.4 364.4h0M408.3 364.3h0M407 365.3h0M406.8 366.3h0M407.5 366.6h0M407.1 368.3h0M406.4 369.4h0M406.1 369.5h0M405.9 370.6h0M405.5 372.1h0M405.1 371.9h0M405.6 373.6h0M405.1 374.4h0M404.6 375.1h0M404.8 376.1h0M404 376.5h0M403 378.2h0M401.9 379.2h0M403.8 379.6h0M402.5 379.9h0M402.4 381.2h0M402.4 381.5h0M402.2 382.7h0M401.5 383.9h0M401.4 384h0M401.4 385.5h0M417.4 359.1h0M416.4 360.2h0M416 361.6h0M417.1 361.6h0M415.1 362.2h0M415.6 364.2h0M414.6 364h0M414.4 364.6h0M414.5 366.1h0M414.1 367.5h0M414 367.4h0M413.2 368.4h0M412.4 369h0M412.6 369.3h0M412.4 371.5h0M412.6 372.1h0M411.6 372.8h0M410.6 374.4h0M410.2 374.7h0M409.9 376h0M409.3 376.4h0M409.6 376h0M410.1 377h0M409.1 379.4h0M408.3 378.8h0M407.2 380.4h0M408.5 380.9h0M407.3 381.8h0M407.7 383h0M406.7 383.1h0M406 384.5h0M406.4 384.9h0M403.7 418.1h0M403.4 418.3h0M403 419.3h0M393.4 412.3h0M393.2 410.9h0M394 409.3h0M394.6 409.1h0M396.5 409.1h0M397.2 408.3h0M398.4 409h0M399.8 409h0M401.1 409.5h0M401.7 411.3h0M402.7 412h0M403.1 412.7h0M403.7 414.5h0M417 405.2h0M416.5 406.2h0M415.7 405.3h0M414.2 403.9h0M413.2 403.8h0M413.2 402.6h0M412.7 401.6h0M412.1 400.4h0M396.4 389.8h0M397.7 389.2h0M398.5 389.7h0M399.4 391.2h0M400.9 390.8h0M401.2 391.9h0M401.3 393.3h0M402.5 394.6h0M402.3 395.8h0M400.5 397h0M399.4 396.9h0M459.7 424.6h0M458.4 424.5h0M457 425.7h0M455.7 426h0M455.2 425.9h0M453.3 426h0M451.9 425.4h0M450.9 425.5h0M449.8 424.9h0M449.1 424.6h0M448.5 423.1h0M447.3 422.5h0M446.8 421.4h0M445.9 420.2h0M447.1 419.3h0M447.9 418.4h0M449 417.8h0M449.8 418.1h0M451.7 417h0M452.3 417.6h0M454.2 418.5h0M455.1 418.8h0M409.1 409.2h0M410.1 410h0M410.5 412.2h0M409.9 412.2h0M408.5 414.4h0M409.5 414.6h0M407.5 415.3h0M407.1 415.3h0M405 415.3h0M404.3 415.2h0M402.9 414.5h0M402 414.4h0M400.8 413.4h0M399.6 412.2h0M398.9 411h0M398.9 410.3h0M398.2 408.9h0M398.6 408.2h0M398.2 407.2h0M400.3 406h0M401.4 405.4h0M402.5 406.1h0M403.8 405.8h0M405 406.6h0M405.7 406.6h0M407.3 407h0M449.6 434.5h0M449 433.3h0M448 432.5h0M448.4 430.9h0M449.4 430.7h0M450.2 430.7h0M451.3 431.7h0M452.9 431.9h0M454.1 432.7h0M454.3 433.6h0M455.1 435.2h0M466.9 445h0M467.3 445.8h0M468.4 447.4h0M468.6 447.3h0M457.8 448.1h0M457.5 446.7h0M456.5 446h0M457.9 444.9h0M457 444.4h0M457.7 442.9h0M458.7 442.4h0M459.2 440.7h0M461 440.4h0M462.2 441h0M413.1 421h0M414.1 422.3h0M412.4 423.3h0M407.8 421.4h0M407.5 420.9h0M407.3 419.8h0M408.1 419h0M409 418.8h0M411.1 419h0M438 414.5h0M438.9 415.6h0M440 416.8h0M440 417.9h0M439.1 418.7h0M438.3 419.5h0M436.8 419.4h0M435.4 419.3h0M434.7 418.8h0M433.4 418.1h0M432.4 416.4h0M432.9 415.2h0M433.1 414.7h0M451.6 420.4h0M453.4 421.3h0M453.8 421.6h0M455.1 422.6h0M456.3 423.2h0M456.7 424.2h0M457.2 425.8h0M456.2 426.3h0M455.5 426.8h0M454.9 425.5h0M453 425.3h0M451.9 424.7h0M451.7 423.6h0M450.6 422.7h0M449.4 421.6h0M458.9 440.4h0M458 439.9h0M457.2 439h0M457.1 438.2h0M455.8 437.2h0M457.3 435.7h0M458.1 435.3h0M459.5 436.4h0M460.6 436.6h0M461.4 438h0M462.4 438.5h0M462.4 439.6h0M430.5 415.6h0M428.9 415.4h0M428.8 415.4h0M427.5 413.7h0M426.4 412.2h0M425.9 411.2h0M425.6 410h0M426 409.2h0M426.2 409.2h0M459 428h0M459 428.2h0M460.1 428.4h0M461.4 429.3h0M462.7 429.7h0M463.3 431.2h0M464.2 431.5h0M465.3 432.9h0M465.9 434h0M466.5 435.8h0M464.4 435.8h0M464 435.9h0M413.7 419.2h0M415.1 420.2h0M415.1 421.5h0M414.7 422.1h0M414.1 423.2h0M413 423.9h0M410.8 423.2h0M407.9 421.8h0M407.7 421.3h0M408 419.6h0M408.6 418.7h0M409.9 418.1h0M410.6 417.8h0M426.6 413.1h0M424.8 412.2h0M424.3 411.7h0M423.3 410.3h0M422.8 409.1h0M423.6 408.2h0M424.6 407.7h0M425.6 408.3h0M427.1 408.2h0M428.5 408.6h0M429.3 409.8h0M386.5 392.3h0M389.3 385.6h0M390.2 386.5h0M392.1 386.6h0M392.6 387.1h0M392.8 387.1h0M394.4 390h0M394.6 390.2h0M395.4 391.8h0M395.8 392.5h0M395.6 393.6h0M395.6 395.2h0M439.6 408.8h0M438.2 409.3h0M437.2 409.2h0M435.9 408.9h0M434.3 407.6h0M434.1 406.6h0M433.1 405.8h0M432.8 403.9h0M432.6 403.9h0M432.8 402.9h0M433.9 401.4h0M416.8 422.9h0M416.7 424.4h0M415.7 424.5h0M414.1 424.3h0M412.8 423.7h0M412 423.6h0M411.2 423.1h0M411 422.2h0M386.1 398h0M388.2 397.1h0M389.2 398.2h0M390 398h0M390.1 399.5h0M390.8 400.3h0M393 400.7h0M393.4 401.9h0M393.6 402.9h0M393.3 404.7h0M392.1 405.5h0M457.1 446.3h0M456.6 444.8h0M457.1 443.8h0M458 443.9h0M459 443.6h0M460.4 443h0M461.3 444.5h0M462.5 444.9h0M427.3 430.8h0M427.5 431.1h0M428.2 429.6h0M428.7 427.7h0M429.9 427h0M431.1 427h0M432 427.4h0M434 427.6h0M434.3 429.3h0M434.8 429.6h0M435.9 430.9h0M436.6 431.6h0M436.2 432.6h0M394.8 392.7h0M394.1 393.9h0M393 395h0M391.3 394.5h0M390.7 393.3h0M389.6 392.3h0M389.4 391.4h0M388.8 389.9h0M389.5 389.3h0M389.5 388.1h0M449 414h0M448.4 413.2h0M447.4 413.6h0M405.3 392.4h0M404.4 391.7h0M402.8 392.1h0M401.7 391.8h0M401.6 391.3h0M399.4 390.1h0M400 389.2h0M400.4 388.5h0M402 388.6h0M403 388.8h0M404 389.9h0M405.8 389.7h0M406.2 390.5h0M400.4 382.6h0M401.3 381.5h0M402.3 381.9h0M403.7 382.8h0M404.6 382.6h0M405.8 383.7h0M406.3 384.8h0M406.8 386.6h0M405.2 385.6h0M403.7 386.1h0M403.4 386h0M402 385.5h0M401.4 384.8h0M400.2 383.8h0M425.5 417.7h0M426 416.5h0M427.9 416.9h0M429.3 416h0M430.1 416.2h0M431.6 416.7h0M432 417h0M433.2 418.2h0M433.6 419.3h0M434.5 420.6h0M435 421.8h0M434.4 422.7h0M434.2 423.7h0M408.8 413.5h0M410.1 412.3h0M410.6 412h0M412.2 411.6h0M413.9 412.3h0M414.3 412.3h0M416.1 413.5h0M416.1 414.3h0M416.6 415.3h0M418.2 417.2h0M418.2 417.8h0M418.9 418.4h0M417.9 419.9h0M416.7 421.4h0M415.8 421.9h0M415.1 422.4h0M413.1 421.9h0M413 421.7h0M412.1 421.3h0M410.9 420.3h0M410.3 418.7h0M409.3 417.9h0M409.3 416.8h0M443.1 416.9h0M441.7 416.9h0M440.8 416.9h0M439.1 416.8h0M437.9 416h0M436.2 415.8h0M436 415.3h0M434.3 414.6h0M434.5 413.6h0M433.4 412.6h0M432.6 412h0M434.5 410.9h0M435.4 410.9h0M436.4 410.5h0M437.5 411h0M438.8 411h0M440.5 411h0M441.6 411.1h0M427.8 429.3h0M405.8 402h0M428.9 401.4h0M427.7 408.5h0M408.5 397.8h0M400.3 386.3h0M409.2 386.1h0M428.7 428h0M407.9 410h0M447.4 434.8h0M410 419.4h0M447.3 415.4h0M430.3 408.8h0M446.2 437.6h0M462.2 447.5h0M437.1 430.8h0M402.5 388.2h0M421.4 401.5h0M430.3 421.6h0M399.1 408.7h0M417 415h0M449.6 423.9h0M401.3 411.7h0M434.5 414.5h0M428.2 412.8h0M402.4 415.3h0M436.4 415.9h0M393.3 392.7h0M445 428.2h0M415.6 391.6h0M425.6 394.3h0M435.9 412.1h0M452.2 440.8h0M407.5 414.4h0M449.2 433.7h0M450 427.7h0M390 406.8h0M417.6 392.9h0M433.8 426.9h0M445.2 441.1h0M392.3 384.5h0M391.3 384.6h0M390.7 385.9h0M390.9 386.5h0M389.6 387.5h0M389.1 388.1h0M389.8 389.3h0M388.3 388.9h0M388.3 390.6h0M388 391.9h0M388.1 392h0M387.2 392.8h0M386.5 393.8h0M386.7 395h0M385.8 395h0M386.7 396.9h0M385.5 398h0M384.4 397.9h0M385 399.6h0M385 399.9h0M385.5 400.6h0M384.7 401.4h0M384.8 402.4h0M384.3 403.8h0M383.9 403.9h0M384 405.3h0M383.8 406.3h0M382.9 406.5h0M383.7 407.4h0M383.8 408.7h0M383.5 409.5h0M383.9 409.8h0M383.8 411.7h0M384.2 412.5h0M384.2 413.8h0M384.9 413.9h0M384.6 414.8h0M384.7 416.2h0M385.6 416.3h0M385.1 417.5h0M387 418.3h0M387.5 416.5h0M388.5 416.7h0M390 416.8h0M388.9 416h0M389.4 416.4h0M391.2 414.3h0M391.6 414.6h0M392.7 413.5h0M393.2 413.1h0M392.7 411.7h0M393.6 411h0M393.3 410.2h0M394 409.1h0M394.3 408.8h0M394.8 407.3h0M394.6 406.2h0M395.3 406.2h0M395.4 405.3h0M395.3 404h0M395.6 403.5h0M395.2 402.9h0M396.3 402.2h0M396.5 400.4h0M396.3 400.1h0M396.6 399.2h0M397.1 398.1h0M396.5 397.2h0M397.6 396.2h0M397.2 395.2h0M397.4 394.7h0M397.8 393.2h0M397.3 392.3h0M397.7 392.3h0M397.6 391.2h0M398.4 389.8h0M397.9 389.1h0M398.5 390.4h0M397.7 391.1h0M397.1 392h0M396.6 392.9h0M397.8 394.4h0M396.7 393.9h0M396.3 395.8h0M395.7 396.3h0M396.6 397.9h0M395.4 397.7h0M395.8 399.1h0M394.2 399.9h0M394.5 400.7h0M395 401.7h0M393.9 402.4h0M394.2 403h0M394.6 403.7h0M393.8 405.2h0M392.6 406.2h0M393.1 407h0M393.5 409.5h0M393.1 408.4h0M392.5 409.4h0M392.7 409.9h0M392.2 411.6h0M392 411.9h0M392.6 413.5h0M392.7 414.3h0M392.6 414.5h0M391.9 415.8h0M391.9 416.3h0M392 417.8h0M391.6 418.7h0M392 418.8h0M392.2 419.4h0M392.1 421h0M392.8 421.3h0M393.3 422.7h0M393.9 423.6h0M394.3 424.5h0M394.6 424.8h0M395.1 425.5h0M395.7 425.4h0M396.4 426.9h0M397.9 427.2h0M398.7 426.9h0M399.7 428.2h0M400.3 427.9h0M400.4 428.5h0M401.5 429h0M402.1 429.1h0M402.6 429.9h0M404.3 430h0M405.4 430h0M405.8 429.7h0M406.5 429.9h0M407.7 429.8h0M408.1 429.2h0M409.1 428.1h0M409.3 427.5h0M410.4 426.8h0M411.5 426.7h0M411.3 426h0M410.7 424.4h0M411.8 423.3h0M411.7 422.9h0M411.8 421.4h0M412 421.3h0M412.6 419.9h0M412.1 418.7h0M412.5 418h0M411.8 417.9h0M411.8 416.8h0M411.6 416.3h0M410.8 415.2h0M410.4 414.2h0M410.1 413h0M410 412.6h0M410.1 412h0M408.7 411.1h0M409 410.4h0M407.8 409.6h0M408.7 407.7h0M407.5 407.7h0M407.2 407.7h0M407.2 406.2h0M405.9 405.5h0M406 404h0M406.2 403.1h0M405.9 402.9h0M405.2 401.7h0M405 400.6h0M404.7 400.3h0M403.6 399.7h0M403.8 397.9h0M404.4 397h0M403.7 396.3h0M403.6 396.2h0M402.8 394.7h0M403 394.1h0M402.1 392.8h0M401.8 392.7h0M390 393.4h0M390.3 395.1h0M389.5 395.1h0M389.5 396.5h0M389.6 397.1h0M389.1 397.9h0M389.6 399h0M389.1 399.4h0M389.4 400.9h0M388.6 401.6h0M388.5 402.5h0M388.6 403.5h0M388.4 404.4h0M389.2 405.2h0M389.2 405.6h0M389.8 407.4h0M388.9 407.4h0M388.6 407.8h0M390.2 410.9h0M389.6 410.4h0M390 410.9h0M389.4 412.7h0M389.4 413.9h0M390.3 413.8h0M390.4 414.8h0M391.5 416.1h0M391 416.9h0M391.8 417.5h0M391.2 418.2h0M392 418.3h0M392.5 419.9h0M392.2 420.4h0M393.6 421.4h0M393.5 422.8h0M394.5 422.4h0M395.4 423.2h0M395.8 423.5h0M396.3 424.4h0M397.5 424.6h0M397.7 424.7h0M399.1 424.6h0M400.9 424.3h0M400.1 424.9h0M402.1 426.2h0M447.9 402.6h0M447.2 401.7h0M446.6 401.1h0M445.1 399.9h0M445 399.3h0M444.8 397.6h0M444.9 396.9h0M445.7 395.9h0M447.1 396.6h0M441.2 409.9h0M440.3 408.5h0M439.5 407.8h0M439.6 406.8h0M437.8 406h0M438.6 404.9h0M438.9 402.6h0M440.1 403.1h0M441.3 402.6h0M442 403h0M442.8 403.3h0M443.8 405.2h0M433.1 402.1h0M434.6 402.5h0M435.1 402.4h0M435.8 403.9h0M437.6 405.1h0M437.9 405.5h0M436.6 406.2h0M436 406.3h0M434.6 406.9h0M435.3 389.5h0M434.8 390.8h0M433.3 390.4h0M432.9 389.4h0M432.3 388.8h0M430.7 387.7h0M430.9 386.3h0M434.5 389.7h0M433.9 389.5h0M433.4 387.6h0M437.9 390.3h0M436.9 391.3h0M436.3 390.1h0M447 396.5h0M445.4 396.9h0M444.5 395h0M444 394.9h0M442 394.3h0M432.9 391.5h0M433.8 391.9h0M434.8 393.6h0M434.4 394.4h0M434.7 395.6h0M433.7 396h0M432.5 396.3h0M430.7 397h0M430.3 396.7h0M428.6 396.1h0M427.5 395h0M427.2 394.3h0M427.4 393h0M423.3 396.1h0M424.8 396.2h0M425.6 397.1h0M426.5 397.4h0M426.6 399.6h0M426.7 400.9h0M425.8 400.6h0M423.5 392.9h0M422.9 391.5h0M421.7 390.3h0M422.8 388.7h0M423 388.1h0M424.3 387.3h0M424.8 386.9h0M425.8 387.2h0M427.1 387.2h0M428 387.7h0M428.9 388.7h0M430.3 390h0M431.3 392.1h0M430.6 393.2h0M423.8 397h0M424.5 397.7h0M426.1 398.5h0M427.1 398.9h0M427.5 399.6h0M428 400.7h0M428.3 402.2h0M428.5 403.2h0M437.4 402.7h0M436.3 402.6h0M434.9 402.3h0M434.7 401h0M433.4 400.3h0M433.3 398.5h0M435.1 398.6h0M435.7 398.1h0M437.2 397.9h0M438.2 399.6h0M439 399.2h0M440.2 400.8h0M441.3 401.6h0M429.6 401.7h0M428.9 402.8h0M426.7 402h0M431.9 403.2h0M432.8 403.1h0M434.9 403.8h0M435.6 404.1h0M435.7 405.2h0M436.5 406.9h0M435.5 407.2h0M425.8 389h0M426.4 389.7h0M425.7 391.6h0M424.8 392.5h0M424.1 392.2h0M423.2 392.9h0M421.4 392.6h0M420.4 391.8h0M419.5 390.9h0M418.9 390.4h0M417.4 388.9h0M417.6 387.6h0M438.1 390.9h0M437.2 390.4h0M436.4 389.3h0M435.5 408.1h0M435.4 407.4h0M436.5 406.6h0M437.9 407h0M438.9 406.6h0M439.1 408.1h0M440.3 409h0M440.1 410.3h0M422.9 393.1h0M437 393.2h0M433.1 400.6h0M430.6 399.5h0M434.8 388h0M437.2 397h0M427.4 389.5h0M431.7 401.5h0M443.8 401.3h0M444.3 394.2h0M442.4 393h0M422.1 392.2h0M437.7 401.4h0M446 394.3h0M438.6 395.9h0M441.9 401.4h0M447.8 400.3h0M443.2 399.8h0M435.2 389.5h0M444.8 405.4h0M438.9 398.2h0M420.5 391.8h0M440.8 400.9h0M443.7 402.9h0M437.6 400.7h0M432.2 387.1h0M430.5 389h0M422.9 394.1h0M426 398.8h0M446.7 401.5h0M440.8 402h0M438.6 406.1h0M438.3 394.4h0M432.7 397.5h0M429.4 395.6h0M439.1 393.4h0M435.6 395.8h0M433.9 394.5h0M447 405h0M427.5 400.1h0M457.7 397.9h0M458.8 398.8h0M459.9 399.1h0M459.6 399.2h0M460.8 400.5h0M461.5 400.8h0M461.6 402.1h0M462.1 403.8h0M461.2 404.9h0M460.6 403.8h0M459.3 405.1h0M458.2 405.2h0M457.3 404.5h0M456.9 404.4h0M455.3 403.9h0M454.1 403.2h0M453.8 401.6h0M453.5 401.7h0M453 401.2h0M452.4 400.2h0M455.5 392.3h0M455 391.8h0M454.2 390.6h0M454.1 389.5h0M455.6 389.5h0M456.9 390.6h0M457.1 391h0M459.3 392h0M458.2 391.9h0M453.7 389.4h0M454.6 390.8h0M454.4 391.1h0M454.9 392.4h0M454.4 393.6h0M453.7 394.8h0M452.7 393.8h0M454 395.3h0M455.2 395.5h0M455.9 397.1h0M455.9 397.6h0M455.2 398.1h0M454.5 399.5h0M453.8 398.6h0M452.5 398.2h0M451.5 398h0M451.1 397.1h0M449.9 395.8h0M450.6 395.2h0M451.7 394.9h0M464.3 396.4h0M464 396.7h0M462.7 395.8h0M461.1 394.8h0M461.2 394.1h0M460.5 393.7h0M460.2 392.5h0M460.6 391.9h0M461.6 391.6h0M462.2 392h0M449.8 405h0M448.5 404.3h0M447.6 404.2h0M446.7 404.2h0M445.8 402.9h0M445.9 401.5h0M444.8 401.1h0M446.1 398h0M446.7 398.9h0M448.2 399.6h0M447.5 400.5h0M447.6 401.7h0M447 402.2h0M445.9 402.4h0M444.5 401.5h0M456.8 392h0M455.9 391.8h0M456 390.2h0M456.8 389.2h0M457.9 389.8h0M458.3 388.9h0M459.2 390.1h0M456.6 407.5h0M455.7 406.8h0M455 406.6h0M454.7 404.8h0M454.6 404.1h0M454 403.7h0M454.2 402.4h0M455.6 402.5h0M456.6 402.4h0M457.4 403.5h0M458.3 404.2h0M458.3 405.9h0M459 406.3h0M458.6 406.7h0M458.5 408h0M459.3 395.2h0M459.8 394.7h0M459.9 394.2h0M461.7 393.7h0M463.3 393.6h0M463.9 394.2h0M464.4 394.5h0M465.5 401.1h0M461.9 403.1h0M461.6 402.7h0M460.3 402h0M460.5 401.5h0M459.6 401h0M458.4 400.2h0M458.8 399.1h0M458.6 397.9h0M459.6 396.8h0M460.8 396.7h0M461.3 396.5h0M462.7 396.6h0M463.5 397h0M464.1 397.1h0M464.9 397.7h0M465 402.7h0M463.9 403.2h0M459.9 403.7h0M459.7 404.4h0M458.6 405.1h0M457.8 405.5h0M456.4 405h0M456.2 404.1h0M455.2 403.7h0M454.4 402.4h0M453.4 402.5h0M452.8 401.2h0M452.9 400.3h0M453 399.1h0M453.5 398.2h0M454.7 397.9h0M455.1 397.3h0M456.6 398h0M456.9 398h0M458.6 397.9h0M459.1 398.7h0M451.9 391.7h0M453.1 392.3h0M453.9 392.4h0M455 393.1h0M454.8 393.7h0M455.8 394.3h0M456.1 395.5h0M456.1 395.9h0M456.7 397.2h0M456 397.7h0M455.4 397.7h0M454.4 397.2h0M453 396.9h0M452.5 395.9h0M452.4 394.6h0M452.3 394.1h0M454.8 400.9h0M452.6 392.3h0M454.7 411.3h0M452.2 400.4h0M458.2 404.5h0M457.2 395.3h0M453.8 408.3h0M455 394.6h0M451.4 401.2h0M449.7 397.5h0M461.4 393.3h0M460.4 409.1h0M457.9 401.9h0M457.9 406.7h0M447.4 400.6h0M446.9 404.7h0M449.4 401h0M462.1 397.1h0M456.2 402h0M461.7 394.1h0M461.9 404.1h0M457 394.7h0M451.3 398.3h0M450.8 404.1h0M451.3 391.6h0M454 394.3h0M457.5 395.5h0M459.9 406.3h0M463.6 399.7h0M451.9 399.6h0M449.5 401.9h0M452.5 401.3h0M453 398h0M449.1 399.1h0M458.9 408.4h0M449.3 397.7h0M452 403.6h0M449 396.6h0M452.2 399.9h0M454 405.4h0M458.3 400.3h0M457 394.6h0M453.5 392.8h0M461.1 396.1h0M455.1 396.6h0M457.9 398.9h0M452.9 404.2h0M455.6 411h0M457.7 407.5h0M456 405.3h0M459.2 402.7h0M450.1 406.4h0M461.6 402.3h0M462.6 399.8h0M459.6 390.7h0M452.3 409.4h0M462.6 407.9h0M456 397h0M462.7 398.4h0M458.8 399.2h0M461.7 396.6h0M460.4 409.3h0M456.9 388.9h0M456.9 389.2h0M465.5 402.4h0M461.9 406.5h0M459 389.6h0M453.5 389.8h0M461.7 408.6h0M449 406.2h0M462.9 392.5h0M449.5 407.2h0M461.5 407.3h0M447.1 396.3h0M452.4 390.9h0M454.9 407.1h0M461.9 391.4h0M447.6 405.2h0M457.7 406.1h0M459.3 389.6h0M450.2 406.6h0M461.4 393.3h0M460.8 396.4h0M464 400.3h0M454.6 404.3h0M484.8 436.4h0M497.1 438h0M475.5 418.7h0M470.8 415.7h0M465.8 413.3h0M492.1 425.5h0M486.4 422.3h0M466.1 420.7h0M475.4 398.5h0M479.8 447.1h0M492.6 445.7h0M493.4 442.9h0M462 409.1h0M466.1 404.2h0M476.3 419.4h0M491.9 425.5h0M479.9 397.9h0M466.5 416.8h0M489.9 425.1h0M475.1 409.6h0M489.8 442h0M466.1 405h0M476.7 412.4h0M489.7 447h0M474.6 404.2h0M489.8 444.4h0M495.1 431.8h0M483.4 415.8h0M483.6 418.2h0M485.6 415.5h0M482.5 405.4h0M464.1 421.7h0M474.4 396.3h0M493.9 428.5h0M482.9 436.9h0M476.8 404h0M470.3 406.1h0M474.1 439.7h0M474.6 414.5h0M483.2 415.5h0M477.1 392.5h0M473.9 432.7h0M474 426.1h0M478.1 405.7h0M473.5 426.3h0M480.2 402.6h0M478.9 422.4h0M478.4 440.6h0M490.5 446.1h0M466.4 393h0M490.3 437.4h0M477.5 420.3h0M464.9 411.8h0M470.5 407h0M489.7 443.2h0M473.3 412.6h0M466.9 384.1h0M462.8 406.2h0M474.7 411h0M471.6 431.7h0M486.1 445.2h0M489.1 418.7h0M487.3 445.5h0M473.6 425.9h0M484.1 428.6h0M464.4 408.4h0M486.4 411.3h0M493.6 433.2h0M474.8 439.5h0M476.9 410h0M477.7 426h0M471.4 418.9h0M488.2 421.6h0M469.1 399.8h0M468.8 386.2h0M469.1 415.3h0M485.5 419.5h0M482.1 402.3h0M480.5 404.6h0M473.9 433.7h0M490.8 435.5h0M492.5 438.9h0M493.7 447.5h0M465 415.5h0M490.7 425.1h0M469.5 398.5h0M474.6 410.2h0M468.2 408.9h0M490.7 438.6h0M473.6 411.7h0M476.1 422.7h0M473.4 428h0M474.4 400.6h0M478.7 435.8h0M466.9 407.6h0M470 411.4h0M472.9 430.2h0M476.5 417.3h0M482.4 416.4h0M473.7 388.2h0M493.1 438.4h0M475.5 433.8h0M493.1 424.7h0M485.4 426.2h0M487.5 427.8h0M471.9 409.4h0M484.3 406.2h0M467.7 429h0M487.2 444.5h0M465.2 394.9h0M474.9 424.1h0M465.5 419.1h0M490.8 421.9h0M486.9 437.5h0M482.9 420.9h0M446.9 389.4h0M468.2 384h0M472.8 383.3h0M473.4 388.2h0M473.9 390.2h0M477.4 390.2h0M484.8 447.4h0M484.3 445.3h0M483.2 445h0M483.8 443.3h0M483.6 440.1h0M483.4 439.7h0M483.8 437.8h0M484 435.3h0M485.6 436.1h0M486.3 435.2h0M486.8 433.4h0M489.2 433.1h0M490.4 433.1h0M492.7 432h0M494.2 433.6h0M495 432.5h0M498 432.1h0M498 436.1h0M497.2 435.2h0M499.6 438h0M501.1 438.4h0M501.1 440.8h0M500.7 441.7h0M500.3 443.8h0M500 445h0M499.2 447.4h0M498 447.9h0M492.8 448.3h0M495.9 434h0M495.1 443.1h0M500.1 447.4h0M485.8 431.6h0M487.7 434.4h0M485.6 448.1h0M490.9 443h0M479.4 436.4h0M490.9 436.7h0M485.2 436.3h0M494.4 437.1h0M483.8 448.3h0M480 439.9h0M496.9 445.4h0M495 436.7h0M491.6 432.4h0M487.8 443.4h0M494.8 447h0M495 445h0M491.9 447.5h0M487.8 443.4h0M480.6 447.6h0M478.5 433.9h0M484.3 440.6h0M482.5 442.8h0M497.4 444h0M489.2 434h0M481.3 443.2h0M494.7 432.9h0M488.9 443.5h0M487.4 438h0M491.8 431.9h0M487.4 439.8h0M486.4 445.5h0M487.7 431.9h0M481.4 434.1h0M495.9 435.4h0M494.5 443.3h0M482.1 442.2h0M498.1 436.3h0M487.2 433.8h0M485.7 431.5h0M495.5 439.1h0M486.8 447.1h0M486.1 448.3h0M481.1 440.7h0M498.8 446.6h0M495.6 443.5h0M480.9 440.2h0M498.8 443.5h0M488.1 446.3h0M500.9 442.8h0M482.6 435.7h0M489.7 445.7h0M497.9 437h0M487.6 431.2h0M487.8 436.8h0M479.4 435.5h0M380.9 412.2h0M384.9 412.7h0M383.1 409.5h0M381.4 414.9h0M383.5 415.5h0M384.2 414.8h0M384.8 414h0M381.8 411.3h0M382 410.9h0M383.2 415.8h0M383.7 413.7h0M383.4 411.5h0M383.3 413.2h0M383.3 411.2h0M384.1 411.4h0M384.4 414.5h0M381.3 409.3h0M383.2 408.8h0M383.1 410.3h0M382.7 410.2h0M383.3 409h0M383.5 414.6h0M384 413.5h0M384.1 414.8h0M385 412.8h0M382.7 412.4h0M383.4 415.2h0M384.3 416.3h0M385.4 417.3h0M385.5 418.3h0M385.8 419.2h0M386.3 419.4h0M386.6 420.6h0M387 421.7h0M388.1 422.3h0M388 423.6h0M389 423.8h0M389.8 425h0M390.4 426h0M390.4 426.9h0M391.4 427.3h0M391.5 424.1h0M392.2 425.9h0M392.5 428.4h0M394.1 431.1h0M394.2 432.8h0M395.4 434.8h0M396 437.1h0M396.9 439.5h0M398.2 441.4h0M399.8 443.4h0M400.9 444.8h0M402.5 446h0M405.4 447.3h0M407.1 447.9h0M411.2 432h0M412.5 434h0M413.4 435.4h0M414.2 437.5h0M414.2 439.8h0M413.1 442.4h0M414.6 443.6h0M416.6 445h0M420.9 433.7h0M421.8 435.3h0M423.5 436.8h0M424.9 437.7h0M426.8 440.2h0M428.2 441.9h0M430 443.5h0M432 444.7h0M434 445.3h0M436 446.6h0M408.1 448.7h0M409.1 448.9h0M409.9 448.9h0M411.1 449.1h0M411.8 448.8h0M413 448.9h0M414.1 448.9h0M415.1 449h0M416 449.1h0M416.9 448.7h0M418 449h0M418.9 448.9h0M419.9 448.8h0M421.2 449.1h0M422 448.8h0M423.1 448.9h0M424 448.9h0M424.9 448.9h0M426.1 448.9h0M427.1 448.8h0M428 448.9h0M428.8 449h0M430.2 448.9h0M431 449.1h0M431.9 449h0M433 448.8h0M434 449h0M435.2 449.1h0M436 448.8h0M436.9 448.9h0M438.3 448.8h0M439.1 449h0M440.2 448.8h0M440.9 448.8h0M441.9 448.8h0M443.1 449.1h0M444.1 448.8h0M444.9 449h0M446 449h0M446.7 448.7h0M447.9 449h0M449 448.8h0M450.1 448.9h0M450.8 449h0M452 448.8h0M453.1 449h0M454.1 448.8h0M454.9 448.9h0M455.9 449h0M457 448.7h0M457.8 448.9h0M458.8 448.8h0M460.1 448.9h0M461.1 448.9h0M462 449h0M463.2 449h0M464.2 448.9h0M465.1 448.7h0M466 449h0M467.1 449h0M468 449.1h0M469 449h0M470.1 448.8h0M470.9 448.7h0M472 448.6h0M473.2 448.9h0M474.1 449.1h0M475.1 448.8h0M476.1 448.9h0M476.9 449.1h0M477.9 449h0M479.1 448.9h0M479.9 448.9h0M481 449h0M482.3 448.8h0M483.1 449.1h0M484 449h0M485.1 449h0M486 448.9h0M486.9 449.1h0M487.9 448.9h0M489.1 448.8h0M490 448.8h0M490.9 448.8h0M491.9 449h0M493.1 449h0M493.9 448.9h0M495.1 448.6h0M496 449h0M497.2 449h0M498 448.8h0M499 448.8h0M500.1 448.8h0M501.1 449h0M502.1 448.8h0M502.9 449.1h0" stroke="#848484" stroke-width="2.7" stroke-linecap="round" fill="none"/><path d="M377.3 350L377.2 350.9L377 352.2L376.9 353.7L376.8 355.3L376.9 356.8L377.2 358.2L377.6 359.5L378.1 360.9L378.8 362.2L379.6 363.7L380.5 365.3L381.6 366.9L382.9 368.6L384.1 370.2L385.4 371.7L386.7 373L388.1 374.2L389.5 375.4L390.9 376.6L392.2 377.9L393.4 379.4L394.5 381.1L395.6 382.8L396.7 384.5L397.9 386L399.3 387.4L400.9 388.7L402.5 389.9L403.8 390.9L404.8 391.6" stroke="#000" stroke-width="1.5" stroke-linejoin="round" stroke-linecap="round" fill="none"/><path d="M406 370.1L405.4 370L404.6 369.9L403.7 369.9L402.8 369.8L402 369.8L401.3 369.9L400.6 370L400 370.1L399.5 370.3L399.1 370.6L399 371L399.1 371.5L399.3 372L399.5 372.5L399.5 373L399.4 373.5L399.1 373.9L398.8 374.4L398.5 374.8L398 375.2L397.4 375.5L396.6 375.8L395.7 376L395 376.2L394.5 376.3" stroke="#000" stroke-width="1.3" stroke-linejoin="round" stroke-linecap="round" fill="none"/><path d="M385 375L385.9 376.2L387.2 378L388.8 380L390.4 382.1L392 384L393.7 385.8L395.5 387.7L397.3 389.4L398.9 390.9L400 392" stroke="#000" stroke-width="1.1" stroke-linejoin="round" stroke-linecap="round" fill="none"/><path d="M401.6 388L405.6 392.1L411.4 397.9L418.1 404.7L425.1 411.7L431.5 418.3L438 424.9L445 432L451.7 438.8L457.4 444.7L461.5 448.9" stroke="#000" stroke-width="1.2" stroke-linejoin="round" stroke-linecap="round" fill="none"/><path d="M403.1 386.4L407.1 390.7L412.6 396.9L419.2 404.1L426 411.4L432.6 418.2L439.5 424.9L447.1 432.1L454.6 438.9L461 444.8L465.5 448.9" stroke="#000" stroke-width="1.2" stroke-linejoin="round" stroke-linecap="round" fill="none"/><path d="M403.9 386.3L408.2 390.7L414.1 396.9L421.1 404.1L428.5 411.5L435.5 418.4L442.7 425.1L450.5 432.2L458.2 439L464.8 444.8L469.5 448.9" stroke="#000" stroke-width="1.2" stroke-linejoin="round" stroke-linecap="round" fill="none"/><path d="M403.2 387.8L407.8 392.1L414.2 398.2L421.8 405.3L429.6 412.5L437.1 419.2L444.8 425.7L453.2 432.6L461.4 439.2L468.5 444.9L473.5 448.9" stroke="#000" stroke-width="1.2" stroke-linejoin="round" stroke-linecap="round" fill="none"/><path d="M403.7 387L408.5 391.2L415.3 397.2L423.3 404.2L431.6 411.5L439.5 418.2L447.6 424.8L456.6 432L465.2 438.8L472.7 444.7L478 448.9" stroke="#000" stroke-width="1.2" stroke-linejoin="round" stroke-linecap="round" fill="none"/><path d="M402.3 386.5L403.9 388.4L406.1 391L408.7 394.1L411.5 397.2L414 400L416.6 402.7L419.4 405.5L422 408.1L424.4 410.4L426 412" stroke="#000" stroke-width="3.2" stroke-linejoin="round" stroke-linecap="round" fill="none"/><path d="M425 411L426.2 412.3L428 414.2L430 416.3L432.1 418.5L434 420.5L435.9 422.4L438 424.4L440 426.3L441.8 427.9L443 429" stroke="#000" stroke-width="2" stroke-linejoin="round" stroke-linecap="round" fill="none"/><path d="M411.5 389.5L414.6 392.4L419.1 396.5L424.3 401.3L429.6 406.2L434.6 410.5L439.2 414.3L443.9 418L448.5 421.5L453.1 425L457.5 428.3L462.1 431.7L466.9 435.1L471.4 438.4L475.3 441.1L478 443.1" stroke="#000" stroke-width="1" stroke-linejoin="round" stroke-linecap="round" fill="none"/><path d="M408 388.5L411.3 391.4L415.9 395.5L421.3 400.3L426.9 405.1L432 409.5L436.7 413.4L441.5 417.3L446.1 421L450.7 424.6L455 428L459.3 431.2L463.5 434.4L467.5 437.3L471.1 439.9L474 442L476.1 443.6L477.6 444.7L478.7 445.5L479.4 446L480 446.5" stroke="#000" stroke-width="1" stroke-linejoin="round" stroke-linecap="round" fill="none"/><path d="M462 448.9L480 448.9" stroke="#000" stroke-width="1.4" stroke-linejoin="round" stroke-linecap="round" fill="none"/><path d="M345.3 440.9L345.7 436.2L346.3 429.8L347.1 422.1L347.8 413.9L348.6 405.7L349.3 398L350 390.8L350.6 383.6L351.3 376.3L352 369.1L352.6 362L353.3 355L354 348.1L354.6 341.2L355.2 334.4L355.9 327.7L356.5 321.3L357.2 315L357.9 308.8L358.6 302.6L359.4 296.5L360.1 290.9L360.7 285.8L361.2 281.6L361.5 278.3L361.7 275.7L361.8 273.7L361.9 272.2L361.9 271L362 270" stroke="#f00" stroke-width="3" stroke-linejoin="round" stroke-linecap="round" fill="none"/><path d="M371.8 270L371.9 270.8L371.9 271.7L372 272.8L372 274.1L372.1 275.6L372.3 277.3L372.5 279.3L372.8 281.6L373.2 284.3L373.6 287.3L374.1 290.7L374.7 294.3L375.3 298L375.9 301.8L376.4 305.5L377 309L377.6 312.5L378.1 316.1L378.7 319.7L379.3 323.2L379.8 326.8L380.4 330.2L381 333.4L381.5 336.4L382 339.2L382.5 341.7L382.9 344.1L383.4 346.3L383.8 348.5L384.3 350.7L384.8 352.8L385.4 355L386 357.2L386.7 359.4L387.4 361.6L388.2 363.8L388.9 365.9L389.7 368L390.4 370L391.1 372L391.8 373.9L392.4 375.7L393 377.5L393.6 379.2L394.3 380.9L395 382.6L395.7 384.3L396.5 386L397.4 387.8L398.3 389.6L399.3 391.4L400.3 393.3L401.4 395.1L402.4 396.8L403.5 398.5L404.6 400L405.7 401.4L406.8 402.8L407.9 404.1L409 405.3L410.1 406.4L411.3 407.6L412.5 408.7L413.8 409.8L415.1 410.9L416.5 412L417.9 413L419.4 414L420.9 415L422.4 416L423.8 416.9L425.3 417.8L426.7 418.6L428.1 419.5L429.6 420.2L431 421L432.4 421.7L433.8 422.4L435.3 423L436.8 423.7L438.3 424.3L439.9 425L441.5 425.6L443.1 426.2L444.7 426.7L446.3 427.3L447.9 427.8L449.4 428.3L450.8 428.8L452.2 429.2L453.4 429.6L454.7 430L456 430.3L457.5 430.7L459.1 431.2L460.9 431.7L462.9 432.3L465.1 432.9L467.5 433.6L469.9 434.3L472.5 435L475.1 435.7L477.7 436.4L480.4 437L483.1 437.6L485.8 438.1L488.6 438.6L491.5 439L494.4 439.5L497.3 440L500.3 440.4L503.3 440.9L506.5 441.4L509.9 441.9L513.5 442.5L517.1 443L520.5 443.5L523.7 444L526.3 444.4L528.4 444.7L529.8 444.9L530.7 445L531.1 445.1L531.3 445.1L531.2 445.1L531.1 445.1L531 445.1L531 445.1" stroke="#f00" stroke-width="3" stroke-linejoin="round" stroke-linecap="round" fill="none"/>
</g>
<rect x="344.5" y="281.5" width="185" height="167.5" fill="none" stroke="#000" stroke-width="1"/>
<path d="M344.5 449 v-3 M344.5 281.5 v3 M386.55 449 v-3 M386.55 281.5 v3 M428.59 449 v-3 M428.59 281.5 v3 M470.64 449 v-3 M470.64 281.5 v3 M512.68 449 v-3 M512.68 281.5 v3 M344.5 449 h3 M529.5 449 h-3 M344.5 425.07 h3 M529.5 425.07 h-3 M344.5 401.14 h3 M529.5 401.14 h-3 M344.5 377.21 h3 M529.5 377.21 h-3 M344.5 353.29 h3 M529.5 353.29 h-3 M344.5 329.36 h3 M529.5 329.36 h-3 M344.5 305.43 h3 M529.5 305.43 h-3 M344.5 281.5 h3 M529.5 281.5 h-3" stroke="#000" stroke-width="1" fill="none"/>
<text transform="translate(346.1 466.7) scale(0.94 1)" text-anchor="middle">0</text>
<text transform="translate(388.15 466.7) scale(0.94 1)" text-anchor="middle">50</text>
<text transform="translate(430.19 466.7) scale(0.94 1)" text-anchor="middle">100</text>
<text transform="translate(472.24 466.7) scale(0.94 1)" text-anchor="middle">150</text>
<text transform="translate(514.28 466.7) scale(0.94 1)" text-anchor="middle">200</text>
<text transform="translate(337 453.8) scale(0.94 1)" text-anchor="end">0</text>
<text transform="translate(337 429.87) scale(0.94 1)" text-anchor="end">500</text>
<text transform="translate(337 405.94) scale(0.94 1)" text-anchor="end">1000</text>
<text transform="translate(337 382.01) scale(0.94 1)" text-anchor="end">1500</text>
<text transform="translate(337 358.09) scale(0.94 1)" text-anchor="end">2000</text>
<text transform="translate(337 334.16) scale(0.94 1)" text-anchor="end">2500</text>
<text transform="translate(337 310.23) scale(0.94 1)" text-anchor="end">3000</text>
<text transform="translate(337 286.3) scale(0.94 1)" text-anchor="end">3500</text>
<text transform="translate(436.5 267) scale(0.94 1)" text-anchor="middle">Data Set 2</text>
<text transform="translate(437 484.5) scale(0.94 1)" text-anchor="middle">Density (1/km)</text>
<text transform="translate(288.9 365.25) rotate(-90) scale(0.94 1)" text-anchor="middle">Flow (1/h)</text>
</g>
<g>
<clipPath id="cB3"><rect x="624" y="281.5" width="184.5" height="167.5"/></clipPath>
<text transform="translate(753 295.5) scale(0.94 1)" text-anchor="end">Empirical data</text>
<text transform="translate(753 308.2) scale(0.94 1)" text-anchor="end">Simulation VDIFF</text>
<text transform="translate(753 320.5) scale(0.94 1)" text-anchor="end">Fundamental diagram</text>
<circle cx="777" cy="290.8" r="1.4" fill="#888"/>
<path d="M760.5 303.5 H793.5" stroke="#000" stroke-width="0.8" fill="none"/>
<circle cx="777" cy="303.5" r="0.9" fill="#000"/>
<path d="M760.5 315.8 H793.5" stroke="#f00" stroke-width="3" fill="none"/>
<g clip-path="url(#cB3)">
<path d="M656.7 350.1h0M656.7 350h0M657 348.5h0M656.9 347.8h0M657.1 347.3h0M657.9 346.2h0M657.8 345.6h0M658.4 344.9h0M658.6 344.4h0M659.6 343.3h0M659.5 342.6h0M660.1 342h0M660.2 341.5h0M660.2 340.4h0M660.8 339.4h0M661.2 338.8h0M661.7 339.1h0M662.6 337.8h0M663.1 337.2h0M663.4 336.2h0M663.7 335.5h0M664.3 335.6h0M664.2 334.8h0M665.1 333.7h0M665.3 333.5h0M666.2 332.3h0M666.9 331.9h0M666.9 331.1h0M667.5 331.2h0M668.4 330.2h0M668.2 329.3h0M669 329.1h0M669.5 328.3h0M669.8 328.8h0M670.2 329.7h0M671.2 330h0M671.1 330.4h0M671.7 331.1h0M672.2 332.1h0M672.9 332.2h0M673.8 333.3h0M673.9 333.1h0M674.4 332.6h0M675 332.3h0M675.6 331.8h0M676.2 331.3h0M676.6 330.7h0M677.3 330.3h0M677.8 330.6h0M678 331.2h0M677.6 331.9h0M677.5 333h0M677.2 333.5h0M677.5 334.8h0M677.8 335.5h0M677.3 336.1h0M677 337.2h0M677 336.9h0M677.4 338.3h0M677.1 339h0M677.1 339.7h0M676.8 341h0M676.6 341.5h0M676.7 342.5h0M676.8 343h0M677.1 343.9h0M676.9 344.8h0M676.7 345.5h0M676.1 346.7h0M676.7 347h0M677.1 347.8h0M676.7 348.5h0M676.5 349.6h0M676.5 349.9h0M676.4 351.7h0M676.4 351.5h0M676 352.9h0M675.9 353.3h0M676.4 354.2h0M676.5 355.1h0M676.5 355.7h0M676 356.9h0M675.9 357.4h0M678.6 343.4h0M679 342.9h0M679.4 342.1h0M679.8 341.7h0M680.4 341h0M680.8 340.1h0M681.9 339.8h0M681.8 339.1h0M682.6 339.1h0M682.6 338.1h0M683.4 337.5h0M684.3 337h0M684.9 336.7h0M685.1 336.3h0M686.5 335.7h0M686.8 335.6h0M687.5 335h0M688.2 334.4h0M689 334h0M689.9 334.1h0M690.1 332.9h0M691.2 333.4h0M692.1 333h0M692.5 332.7h0M693.9 332.7h0M694.4 332.6h0M695.2 332.5h0M695.9 332.5h0M696.9 333.1h0M697.4 333h0M698.1 333.6h0M698.5 333.8h0M700 333.9h0M700.1 333.9h0M701.3 334.6h0M702 335.3h0M702.4 336h0M703 336.3h0M703.5 336.5h0M703.7 337.3h0M704.9 337.7h0M705 338.4h0M705.9 339.3h0M706.5 339.1h0M706.7 340.1h0M706.9 340.6h0M707.7 341.8h0M707.5 342.1h0M708.5 343.1h0M708.4 344.2h0M708.9 344.7h0M709 345.4h0M709.5 346.5h0M709.6 346.7h0M710 348.2h0M710.6 348.4h0M710.3 349.3h0M710.7 350.5h0M710.7 351.2h0M710.5 351.4h0M711.1 352.1h0M711.2 353.2h0M710.9 353.9h0M710.9 354.8h0M710.9 355.2h0M710.5 356.4h0M710.5 357.1h0M709.4 357.9h0M709.4 358.7h0M709.2 359.1h0M709 360.1h0M708.4 361h0M707.8 361.6h0M707.8 362h0M707.2 363.3h0M707.4 363.6h0M706.6 364.3h0M706.5 364.3h0M705.9 365.9h0M705.6 366.7h0M705.5 367.1h0M705.2 368h0M704.2 368.3h0M704 369h0M704.1 369.6h0M703.2 370.8h0M702.2 371h0M702.2 371.6h0M702.1 372.7h0M701.6 373.3h0M701.1 374.2h0M700.8 374.4h0M701 375.6h0M700.9 376.2h0M700.8 377.2h0M700.9 378.6h0M700.7 378.9h0M701.7 379.6h0M701.4 380.2h0M701.8 380.9h0M701.7 381.5h0M702.3 382.8h0M701.8 383.9h0M701.6 383.9h0M700.9 384.2h0M699.6 384.3h0M699.2 383.4h0M699 383.1h0M698.3 382.4h0M697.7 381.8h0M697.6 381.7h0M697.1 381h0M696.4 379.6h0M667.1 347.1h0M668.1 347.2h0M668.8 346.5h0M669.9 346.9h0M670.1 346.6h0M671.7 346.8h0M672.1 346.1h0M673.1 346.4h0M673.8 345.8h0M674.7 346.3h0M675 346.3h0M676.3 345.9h0M677 346h0M678 344.8h0M678.1 345.3h0M679.7 344.7h0M679.8 344.7h0M680.4 344.6h0M681.6 344.4h0M682.3 344.3h0M683.1 345h0M684.1 345h0M684.5 345.2h0M685.7 345.5h0M686 345.7h0M686.5 346.7h0M687.2 347h0M687.9 347.7h0M688.7 348h0M688.7 348.7h0M689.4 349.6h0M689.3 350.1h0M689.6 350.7h0M690.3 351.7h0M690.5 352.5h0M690.8 353.3h0M691.1 353.6h0M691.4 354.2h0M690.9 355.3h0M691.5 356.2h0M692 356.8h0M691.8 357.9h0M692.1 358.5h0M692.6 359.9h0M692.4 359.6h0M693 360.8h0M693 361.2h0M693.5 362.2h0M693.8 363h0M693.9 364.1h0M694 364.8h0M694.5 365.6h0M694.3 365.5h0M695 367.2h0M695.7 367.8h0M695.7 368.1h0M696.1 369h0M695.9 370.1h0M696.7 370.4h0M697.3 371.7h0M697 372.3h0M697.2 372.7h0M697.5 373.4h0M697.9 374.6h0M698.2 375.2h0M698.4 375.7h0M698.6 376.4h0M699 377.5h0M698.6 378.4h0M699.4 378.7h0M699.5 379.4h0M670.1 349.1h0M675.3 345.2h0M673.9 346.7h0M674.3 346.4h0M676.3 348.6h0M676.5 350h0M677.6 348.3h0M672.4 348.1h0M668.9 344.5h0M669.8 346.4h0M670.1 350.2h0M671 347.7h0M674.3 344.6h0M672.3 349.6h0M669.4 346.7h0M675 348.4h0M675.4 346.8h0M673.2 350h0M676.5 349.5h0M672.6 347.3h0M675.7 345.6h0M674.1 347.6h0M674.6 349.9h0M676.8 345.1h0M676.6 348.6h0M676.7 348.4h0M675.6 344h0M675.8 343.9h0M670.4 350.9h0M676.3 346.9h0M670.9 345.5h0M675.1 345h0M673.3 345.6h0M672.9 344.3h0M676.6 346.9h0M670.8 349.5h0M670.5 344.2h0M674.7 346.4h0M669.4 345.6h0M669.3 346.2h0M675.1 346.2h0M673.5 349.9h0M672.7 347h0M670.6 346.3h0M677.6 347.8h0M679.4 349.8h0M679.2 350.1h0M679.6 351.4h0M679.4 352.3h0M679.9 352.4h0M680.4 353.4h0M680.7 354.3h0M680.6 354.6h0M680.9 355.7h0M681.7 356.1h0M681.5 356.7h0M682 357.7h0M682.5 358.8h0M682.7 359.4h0M682.9 360.2h0M683.3 360.2h0M684.5 360.9h0M684.4 361.9h0M685 362h0M685.9 363.4h0M686.5 363h0M687.4 363.1h0M687.7 362.7h0M688.9 362h0M688.9 361.4h0M689.4 360.8h0M689.5 360.2h0M689.6 359.2h0M689.1 359h0M689.2 357.5h0M689 357.3h0M688.9 356.8h0M688.4 356h0M688 354.9h0M687.8 353.9h0M687.4 353.6h0M687.2 352.7h0M686.8 352.2h0M686.1 351.5h0M685.5 350.5h0M684.6 350.3h0M684.2 350h0M683.5 349.6h0M682.5 348.8h0M682.1 348.9h0M680.9 348.2h0M680.4 348.6h0M679.9 348.9h0M661.1 353.8h0M661.9 353.6h0M662.5 353.5h0M663.3 352.1h0M663.1 352.2h0M664.3 351.4h0M665 351.2h0M665.5 350.9h0M665.7 349.4h0M666.3 349.6h0M667.2 349.2h0M667.5 349.1h0M668.3 348.3h0M687.8 364.2h0M687.4 365.2h0M688 365.9h0M688.1 366.7h0M688.4 367.3h0M688.7 368.3h0M688.9 368.5h0M689.6 370h0M689.6 370.5h0M690.1 371.1h0M690.8 372.2h0M690.9 372.5h0M690.5 373.4h0M690.9 373.9h0M691.4 374.7h0M691.4 375.4h0M691.8 376.3h0M691.9 377.2h0M692.1 377.7h0M693 378.4h0M693.1 379.5h0M692.9 379.7h0M690.4 370.5h0M691.2 371.5h0M691.6 371.8h0M691.8 372.8h0M692.2 373h0M693.1 373.8h0M693.7 375h0M693.3 375.6h0M694.6 376.2h0M694.1 376.4h0M695 377.7h0M695 378.7h0M695.8 378.7h0M695.5 379.9h0M696.6 380h0M697 380.5h0M697.3 381.4h0M698.4 382.1h0M676.4 357.7h0M676.3 358h0M676.9 358.8h0M676.3 360.5h0M676.2 360.9h0M677.4 361h0M677.7 362.1h0M677.2 363.6h0M676.8 363.7h0M677.1 365h0M677.7 364.9h0M677.3 365.6h0M678.2 367.1h0M678.5 367.8h0M678.4 368.9h0M678.9 369.1h0M678.5 370h0M679.7 370.3h0M679.3 371.9h0M679.9 372.3h0M680.1 373.5h0M681.1 373.4h0M681.4 373.6h0M682.1 374.6h0M682.6 375.5h0M683.2 375.5h0M683.6 376.5h0M684.7 377h0M685.1 377h0M685.7 377.9h0M670.2 345.1h0M669.6 345.1h0M669.9 345.9h0M669.8 346.8h0M669.3 347.6h0M669.7 348.6h0M670.2 349h0M669.8 350.2h0M669.6 350.8h0M669.7 351.6h0M669.7 352.7h0M670.2 353.5h0M670.1 354.2h0M670.7 355.1h0M670.8 355.8h0M670.8 356.2h0M671.7 357.5h0M671.5 357.9h0M671.2 358.7h0M672.1 359.2h0M672.6 359.9h0M673.2 360.2h0M673.3 351.6h0M673.8 352.3h0M673.6 353.5h0M673.6 353.9h0M674.2 354.2h0M673.8 355.5h0M673.9 356.6h0M673.9 357.2h0M673.7 357.8h0M674 358.7h0M673.7 359.8h0M674 360h0M674.5 361.1h0M674.9 362h0M674.9 362.5h0M675.8 363.2h0M675.9 363.5h0M676.3 364.6h0M677 365.3h0M677.3 366.1h0M677.4 366.3h0M678.2 366.9h0M682.7 363.1h0M682.7 364.3h0M683.2 364.6h0M682.9 365.5h0M683.4 366.3h0M684.1 367h0M684.6 368h0M684.4 368.7h0M685.1 369.4h0M685.7 369.5h0M686 370.5h0M686.8 371.5h0M687.2 371.8h0M687.2 372.7h0M688.4 373.2h0M688.3 374.1h0M688.8 374.7h0M689.2 375h0M689.8 376.2h0M690.1 376.5h0M690.6 377.2h0M691.3 378h0M692.1 378.9h0M691.8 378.7h0M643.1 382.7h0M643.1 383.2h0M644.5 383.9h0M644.6 385.3h0M645.6 384.9h0M645.2 385.1h0M647 385.7h0M647.2 386.8h0M648 387h0M648.2 387.5h0M648.6 387.4h0M649.6 387.5h0M649.6 388.8h0M650.1 389.3h0M650.4 389.7h0M650.6 390.1h0M651.3 390.9h0M651.8 391.8h0M651.9 391.9h0M651.5 393h0M652.1 394.1h0M652.7 393.8h0M652.7 394.8h0M654 394.8h0M653.9 395.3h0M654 397.1h0M654 397.4h0M655.2 398.3h0M654.1 398.1h0M655.6 398.7h0M655.6 398.4h0M656.6 398.7h0M658 398.4h0M658.6 398.3h0M659.4 397.4h0M659.5 396.8h0M659.7 396.4h0M660.9 397.5h0M661.9 396.4h0M662.1 396.2h0M662.1 396.7h0M663.3 395.7h0M663.9 395.5h0M664.4 395h0M665.8 395.7h0M666.3 395.4h0M666.8 393.8h0M667.4 394.3h0M667.9 394.6h0M668.8 393.9h0M668.8 393.4h0M670.2 392h0M671.2 392h0M670.3 392.6h0M672.1 390.9h0M671.6 391.7h0M672.9 391.2h0M673.5 391.7h0M674.7 391.6h0M674.3 392h0M675.2 392.5h0M676.4 392.6h0M676.4 393.4h0M676 394.4h0M676 394.3h0M675.1 396h0M675.2 396.4h0M676.7 396.8h0M677.1 397.9h0M676.4 398.1h0M676.7 399.4h0M676.9 400.7h0M676.1 400.4h0M676.4 400.3h0M676.8 402.3h0M677.8 402.9h0M678.1 403.2h0M678.3 405h0M679.6 404.2h0M679.1 405.1h0M679.4 404.6h0M678.9 406.3h0M680.9 406.8h0M680.3 406.8h0M680.7 408.1h0M681.8 409.6h0M682.3 409h0M681.7 409.1h0M682.8 409.8h0M682.9 410.8h0M684.2 411h0M684.1 411.7h0M684.6 412.3h0M684.8 412.6h0M685.8 413.6h0M686.4 413.7h0M686 414.7h0M687.3 414h0M688.8 414.6h0M687.7 414.7h0M689.2 415.6h0M689.5 415.6h0M690.3 416.3h0M690.8 416.8h0M690.8 417.4h0M691.4 418h0M691.9 418.3h0M693 419h0M693 418.6h0M643.5 383.3h0M643.4 382.7h0M644 381.7h0M643.3 381.1h0M644.3 380h0M644.7 379.3h0M644.9 378.8h0M644.9 377.9h0M645.4 376.9h0M645.7 376.3h0M645.6 376h0M645.8 375.2h0M646.2 374.7h0M647 373.3h0M646.3 373.5h0M647.5 372.4h0M647.5 371h0M647.7 370.2h0M648 370.2h0M648.5 369.1h0M649 368.4h0M648.9 367.4h0M649.5 367.1h0M650.3 366.3h0M649.9 365.8h0M650.2 365h0M650.5 364h0M650.8 363.6h0M651.9 363h0M651.7 361.8h0M651.4 361.2h0M652 361h0M652.5 359.6h0M652.6 359h0M652.6 357.6h0M652.8 356.8h0M653.8 356.8h0M654.5 356.1h0M654.5 355.4h0M654.5 354.6h0M654.5 353.7h0M654.7 352.9h0M654.8 352.1h0M655.7 351.2h0M655.5 350.7h0M702 376.4h0M703 375.8h0M705.5 375.9h0M707.6 375.9h0M710.6 376h0M713.6 376.6h0M716.6 377.1h0M719.4 377.6h0M722.7 378.6h0M726 379.2h0M729.5 380.6h0M732.6 382.1h0M736.1 383.3h0M739.4 385.3h0M742.3 387.9h0M745.4 390.3h0M748.3 393h0M751.1 396.4h0M752.9 399.8h0M755.3 403.5h0M757.2 407.6h0M758.7 411.6h0M760.2 415.5h0M761.5 419.9h0M763.1 424.1h0M765.1 428.1h0M768.1 432h0M770.4 435.7h0M772.4 440h0M774.8 444.4h0M777.8 447.9h0M684.9 391.1h0M685.6 391.2h0M686.9 390.9h0M687.5 391.3h0M688.5 391.1h0M689.4 391h0M690.5 390.8h0M692 390.6h0M693.1 390.9h0M694.1 391h0M695.7 390.9h0M697.1 390.7h0M698.5 390.5h0M700.6 390.9h0M701.8 391h0M703.7 390.8h0M704.9 391.1h0M706.9 391.4h0M708.9 392.2h0M710.6 392.4h0M712.4 392.6h0M714.7 393.3h0M716.6 393.7h0M718.6 394.5h0M720.8 395.7h0M722.9 397.2h0M724.2 398.8h0M727.1 399.8h0M729.7 400.3h0M732.3 400.7h0M734.9 401.8h0M737.6 403.2h0M739.4 405.2h0M741.3 408.1h0M742.3 411h0M744 414h0M745.9 416.5h0M747.8 419.1h0M749.8 422.3h0M752.3 425.3h0M754.9 428.3h0M757.3 431.2h0M759.4 435h0M761.5 438.1h0M764.4 441.8h0M767.8 445.2h0M719.8 406.7h0M720.7 406.7h0M722.1 406.7h0M724 406.4h0M725.3 406.3h0M727.5 405.9h0M729.4 405.4h0M731.6 405.9h0M734.2 406h0M736.1 407h0M738.7 408.2h0M740.2 410.1h0M742.2 412.2h0M744.2 414.2h0M746.1 416.6h0M747.7 419.2h0M749.7 421.4h0M751.7 424h0M754 426.8h0M756.1 429.4h0M758.2 432.2h0M760.6 435h0M762.9 438.2h0M765.6 441h0M768.1 444h0M771.2 446.7h0M693.8 419.5h0M694.8 423h0M696.6 426.3h0M699.1 429.4h0M700.9 432.8h0M702.9 436.3h0M705.1 439.6h0M708.1 442.7h0M711.7 444.9h0M715.5 446.4h0M719.2 447.6h0M724.1 448.6h0M728.2 448.9h0M704.7 423.6h0M707.9 425.5h0M709.6 428.8h0M712.5 432.1h0M714.7 435.4h0M717.6 438.3h0M720.8 441h0M724.5 443.2h0M728.8 444.8h0M735.3 449h0M736.5 448.9h0M737.5 449.1h0M738.4 448.8h0M739.5 449.1h0M740.6 448.9h0M741.7 448.9h0M742.7 449h0M743.6 448.9h0M744.5 449h0M745.3 449h0M746.5 449h0M747.7 449h0M748.3 448.9h0M749.2 449.1h0M750.6 448.9h0M751.4 448.7h0M752.5 448.8h0M753.4 448.9h0M754.6 448.8h0M755.7 448.9h0M756.4 448.8h0M757.7 448.8h0M758.3 448.9h0M759.7 449h0M760.5 448.8h0M761.6 448.9h0M762.4 448.9h0M763.6 449h0M764.4 449h0M765.5 448.9h0M766.5 448.7h0M767.5 448.9h0M768.5 449h0M769.6 448.9h0M770.6 449h0M771.5 448.8h0M772.6 448.9h0M773.5 448.9h0M774.4 448.8h0M775.5 449.1h0M776.4 449h0M777.4 449h0M778.4 448.9h0M774.9 447h0M777.2 444.7h0M772.4 447.8h0M770.2 448.7h0M772.3 445.8h0M772.7 447.8h0M777.5 446.4h0M772.4 443.8h0M776.3 446.5h0M772.5 444.5h0M773.7 448h0M775.6 444.6h0M773.6 444h0M776.6 447.8h0" stroke="#848484" stroke-width="2.7" stroke-linecap="round" fill="none"/><path d="M633.5 434.7L633.5 433.4L633.6 431.5L633.7 429.2L633.8 427L634.1 424.9L634.5 423L635.1 421.2L635.7 419.4L636.4 417.5L637 415.7L637.5 413.8L638 411.9L638.5 409.9L639.1 408.1L639.8 406.5L640.7 405.1L641.8 404L642.9 402.9L644 401.9L645 400.8L645.9 399.7L646.8 398.5L647.7 397.4L648.4 396.2L649 395L649.4 393.7L649.7 392.3L649.9 390.9L650 389.5L650.2 388L650.4 386.5L650.5 384.9L650.7 383.2L650.8 381.6L651 380L651.2 378.4L651.5 376.7L651.7 375.1L651.9 373.5L652 372L652 370.6L651.9 369.4L651.8 368.2L651.6 367.1L651.5 366L651.4 364.9L651.2 363.9L651 362.9L650.9 362.1L650.8 361.5" stroke="#000" stroke-width="2.2" stroke-linejoin="round" stroke-linecap="round" fill="none"/><path d="M639.3 406L640.1 405.5L641.2 404.7L642.5 403.8L643.8 402.8L645 401.8L646 400.8L647.1 399.9L648.1 398.8L648.9 397.6L649.6 396L650 394L650.3 391.6L650.4 389.1L650.6 386.7L650.8 384.5L651.1 382.5L651.5 380.7L651.9 379L652.3 377.5L652.5 376.5" stroke="#000" stroke-width="1.4" stroke-linejoin="round" stroke-linecap="round" fill="none"/><path d="M649.6 381L649 381.3L648 381.7L647 382.3L645.9 382.8L645 383.4L644.2 384L643.4 384.6L642.6 385.3L642 386L641.6 386.8L641.4 387.7L641.5 388.7L641.6 389.7L641.9 390.6L642.1 391.4L642.3 392L642.7 392.5L643 392.9L643.3 393.3L643.5 393.5" stroke="#000" stroke-width="1.4" stroke-linejoin="round" stroke-linecap="round" fill="none"/><path d="M650.8 361.5L650.7 361.8L650.5 362.3L650.3 362.9L650 363.7L649.6 365L649.1 366.9L648.5 369.3L647.9 371.9L647.2 374.4L646.7 376.5L646.3 377.9L646 379L645.8 379.9L645.5 380.9L645 382.2L644.3 383.9L643.5 385.8L642.6 387.8L641.8 389.9L641 392L640.3 394.3L639.6 396.8L638.9 399.3L638.4 401.5L638 403" stroke="#000" stroke-width="1.3" stroke-linejoin="round" stroke-linecap="round" fill="none"/><path d="M653.1 374.2L653.9 374.2L655.1 374.3L656.5 374.4L657.8 374.5L658.8 374.7L659.6 375L660.3 375.4L660.8 375.8L661.1 376.2L661.1 376.5L660.7 376.7L659.9 376.8L659 376.8L657.9 376.8L657 376.8L656.1 376.8L655 376.7L654 376.6L653.1 376.6L652.5 376.5" stroke="#000" stroke-width="1.4" stroke-linejoin="round" stroke-linecap="round" fill="none"/><path d="M650.8 361.5L651.5 362L652.4 362.6L653.5 363.3L654.9 364.1L656.5 365L658.3 365.9L660.4 366.8L662.8 367.7L665.3 368.8L668 370.1L671 371.7L674.2 373.5L677.6 375.4L681.1 377.2L684.5 378.7L687.9 379.8L691.4 380.5L694.9 381.2L698.4 382L701.9 383.1L705.4 384.7L708.9 386.5L712.4 388.5L715.9 390.6L719.4 392.7L722.9 394.7L726.4 396.8L729.9 399L733.4 401.1L736.9 403.2L740.4 405.3L743.9 407.4L747.4 409.5L750.9 411.6L754.4 413.7L757.9 415.8L761.4 417.9L764.8 419.9L768.3 422L771.8 424.2L775.3 426.4L778.7 428.7L782.2 430.9L785.7 433.2L789.3 435.5L793.3 438L797.8 440.6L802.1 443.2L805.9 445.3L808.5 446.9" stroke="#000" stroke-width="1.5" stroke-linejoin="round" stroke-linecap="round" fill="none"/><path d="M651 362.5L651.7 363L652.7 363.7L654 364.6L655.4 365.5L657 366.5L658.8 367.5L660.8 368.5L663 369.5L665.4 370.7L668 372L670.9 373.5L674.2 375.3L677.6 377.1L681.1 378.9L684.5 380.3L687.9 381.3L691.4 382L694.9 382.7L698.4 383.4L701.9 384.6L705.4 386.2L708.9 388.1L712.4 390.2L715.9 392.3L719.4 394.5L722.9 396.7L726.4 398.9L729.9 401.1L733.4 403.5L736.9 405.8L740.4 408.2L743.9 410.6L747.4 413.1L750.9 415.5L754.4 418L757.9 420.4L761.4 422.9L764.8 425.3L768.3 427.8L771.8 430.3L775.5 433L779.5 436L783.3 438.9L786.7 441.4L789.3 443.4L791 444.6L792 445.3L792.4 445.7L792.7 445.8L793 446" stroke="#000" stroke-width="1.3" stroke-linejoin="round" stroke-linecap="round" fill="none"/><path d="M650.8 361.5L651.5 362L652.4 362.6L653.5 363.3L654.9 364.1L656.5 365L658.3 365.9L660.4 366.8L662.8 367.7L665.3 368.8L668 370.1L671 371.7L674.2 373.5L677.6 375.4L681.1 377.2L684.5 378.7L688.2 379.9L692.2 381L696.1 381.9L699.5 382.6L701.9 383.1" stroke="#000" stroke-width="2.4" stroke-linejoin="round" stroke-linecap="round" fill="none"/><path d="M662 369L664.4 370.3L667.8 372.1L671.8 374.1L676 376.2L680 378L683.9 379.4L688 380.7L692.2 381.9L696.2 383.1L700 384.5L703.7 386.2L707.5 388.2L710.9 390.1L713.9 391.8L716 393" stroke="#000" stroke-width="1.2" stroke-linejoin="round" stroke-linecap="round" fill="none"/><path d="M652 363L652.8 363.8L653.8 364.8L655 366L656.4 367.5L658 369L659.8 370.8L661.9 372.8L664.1 374.9L666.2 377L668 378.8L669.4 380.3L670.5 381.7L671.5 383L672.6 384.3L673.8 385.7L675.2 387.2L676.8 388.9L678.4 390.5L680.1 392.2L681.8 393.7L683.5 395.1L685.3 396.3L687.1 397.5L689 398.9L691 400.6L693 402.7L694.9 405L697 407.6L699.3 410.2L701.9 413L705.1 416L708.7 419.3L712.5 422.6L716.1 425.7L719.4 428.5L722.3 430.9L725 433.1L727.5 435.1L729.7 436.8L731.6 438.1L733 439L734.1 439.4L734.9 439.6L735.7 439.7L736.9 439.9L738.1 440.1L739.3 440.2L740.7 440.4L742.7 440.5L745.6 440.8L749.9 441.2L755.2 441.7L761.1 442.3L766.8 442.9L771.8 443.4L775.8 443.9L779.3 444.3L782.6 444.8L785.8 445.2L789.3 445.5L793.3 445.8L797.8 446L802.1 446.2L805.9 446.4L808.5 446.5" stroke="#000" stroke-width="1.6" stroke-linejoin="round" stroke-linecap="round" fill="none"/><path d="M652 363L652.8 363.8L653.8 364.8L655 366L656.4 367.5L658 369L659.8 370.8L661.9 372.8L664.1 374.9L666.2 377L668 378.8L669.4 380.3L670.5 381.7L671.5 383L672.6 384.3L673.8 385.7L675.2 387.2L676.8 388.9L678.4 390.5L680.1 392.2L681.8 393.7L683.5 395.1L685.3 396.3L687.1 397.5L689 398.9L691 400.6L693.2 402.9L695.8 405.8L698.2 408.7L700.4 411.2L701.9 413" stroke="#000" stroke-width="2.8" stroke-linejoin="round" stroke-linecap="round" fill="none"/><path d="M731.6 438.1L732.3 438.4L733.2 438.7L734.3 439.2L735.5 439.6L736.9 439.9L738.1 440.1L739.3 440.2L740.7 440.4L742.7 440.5L745.6 440.8L749.9 441.2L755.2 441.7L761.1 442.3L766.8 442.9L771.8 443.4L775.8 443.9L779.3 444.3L782.6 444.8L785.8 445.2L789.3 445.5L793.3 445.8L797.8 446L802.1 446.2L805.9 446.4L808.5 446.5" stroke="#000" stroke-width="2.4" stroke-linejoin="round" stroke-linecap="round" fill="none"/><path d="M660 373L661.3 374.3L663.1 376.1L665.2 378.3L667.6 380.6L670 383L672.6 385.4L675.3 387.8L678.3 390.5L681.3 393.2L684.5 396.2L687.8 399.5L691.2 403.1L694.8 406.7L698.4 410.4L701.9 413.7L705.4 416.8L709.1 419.8L712.6 422.6L716.1 425.2L719.4 427.7L722.5 430L725.6 432.2L728.5 434.1L731.1 435.9L733.4 437.3L735.3 438.4L736.9 439.2L738.2 439.8L739.2 440.2L740 440.5" stroke="#000" stroke-width="1.2" stroke-linejoin="round" stroke-linecap="round" fill="none"/><path d="M664 379L665.5 380.5L667.5 382.8L670 385.3L672.5 387.8L675 390L677.4 391.7L679.8 393.1L682.3 394.4L684.9 396L687.6 398L690.4 400.6L693.4 403.6L696.5 406.8L699.5 410L702.5 413L705.4 415.7L708.3 418.2L711.2 420.6L714.1 423L717 425.6L720.1 428.5L723.3 431.6L726.4 434.7L729.3 437.5L731.6 439.5L733.3 440.7L734.6 441.2L735.6 441.3L736.3 441.2L736.9 441.3" stroke="#000" stroke-width="1.2" stroke-linejoin="round" stroke-linecap="round" fill="none"/><path d="M653.1 381.6L654 382.1L655.3 382.9L656.8 383.7L658.4 384.7L660 385.7L661.5 386.7L663.2 387.8L664.8 389L666.5 390.2L668 391.4L669.5 392.7L670.8 394.2L672.2 395.6L673.5 397L674.9 398.3L676.2 399.3L677.5 400.1L678.9 400.9L680.3 401.8L681.8 403L683.5 404.6L685.2 406.4L687 408.4L689 410.4L691 412.3L693.1 414.1L695.3 415.9L697.6 417.7L700 419.6L702.5 421.5L705.3 423.5L708.3 425.7L711.3 427.8L714.3 429.9L717 431.8L719.5 433.6L722 435.3L724.3 436.9L726.3 438.3L728 439.5L729.2 440.5L729.9 441.2L730.4 441.8L730.9 442.2L731.6 442.5L732.6 442.5L733.9 442.3L735.1 441.9L736.2 441.5L736.9 441.3" stroke="#000" stroke-width="1.5" stroke-linejoin="round" stroke-linecap="round" fill="none"/><path d="M624.9 445.6L625.4 443.4L626.1 440.5L626.8 437.1L627.7 433.2L628.6 429.2L629.6 425.2L630.4 421.4L631.2 418L631.9 414.8L632.7 411.6L633.4 408.3L634.1 405.2L634.8 402.3L635.4 399.5L635.9 397.1L636.4 395L636.8 393.4L637 392.3L637.2 391.5L637.3 390.9L637.4 390.4L637.6 389.9L637.8 389.1L638.1 388L638.5 386.5L639.1 384.8L639.7 383L640.3 381L640.9 379.1L641.6 377.2L642.2 375.6L642.7 374.2L643.2 373.1L643.6 372.1L644 371.3L644.5 370.6L644.9 370L645.3 369.5L645.7 368.9L646.2 368.4L646.7 367.9L647.2 367.4L647.8 366.9L648.4 366.5L648.9 366.1L649.5 365.8L650.2 365.6L650.8 365.5L651.5 365.5L652.1 365.6L652.9 365.7L653.6 365.9L654.3 366.2L655 366.5L655.8 366.9L656.5 367.3L657.2 367.7L657.9 368.2L658.6 368.7L659.3 369.3L660 369.9L660.7 370.5L661.5 371.2L662.3 371.9L663.2 372.7L664.1 373.5L665.1 374.3L666.1 375.2L667.1 376.1L668.2 377L669.2 377.9L670.3 378.8L671.4 379.7L672.5 380.5L673.6 381.4L674.7 382.2L675.8 383.1L677 383.9L678.2 384.8L679.5 385.7L680.8 386.6L682.2 387.5L683.6 388.4L685.1 389.3L686.6 390.2L688.1 391.2L689.5 392.1L691 393L692.4 393.9L693.7 394.8L695.1 395.7L696.4 396.5L697.8 397.4L699.2 398.4L700.8 399.3L702.5 400.3L704.3 401.4L706.3 402.5L708.4 403.6L710.6 404.8L712.8 406L715 407.2L717.2 408.3L719.4 409.3L721.6 410.3L723.7 411.2L725.9 412.1L728.1 412.9L730.3 413.8L732.5 414.6L734.7 415.4L736.9 416.3L739.1 417.2L741.3 418.1L743.5 419L745.7 419.9L747.8 420.7L750 421.6L752.2 422.5L754.4 423.3L756.6 424.1L758.8 424.9L760.9 425.7L763.1 426.4L765.3 427.2L767.4 427.9L769.6 428.6L771.8 429.4L774 430.2L776.1 430.9L778.3 431.7L780.4 432.5L782.6 433.3L784.8 434L787 434.8L789.3 435.5L791.7 436.2L794.4 437L797.1 437.7L799.8 438.5L802.4 439.2L804.8 439.8L806.9 440.4L808.5 440.8L809.6 441.1L810.4 441.3L810.8 441.4L811 441.5L811 441.5L810.9 441.5L810.9 441.5L811 441.5" stroke="#f00" stroke-width="3" stroke-linejoin="round" stroke-linecap="round" fill="none"/>
</g>
<rect x="624" y="281.5" width="184.5" height="167.5" fill="none" stroke="#000" stroke-width="1"/>
<path d="M624 449 v-3 M624 281.5 v3 M665.93 449 v-3 M665.93 281.5 v3 M707.86 449 v-3 M707.86 281.5 v3 M749.8 449 v-3 M749.8 281.5 v3 M791.73 449 v-3 M791.73 281.5 v3 M624 449 h3 M808.5 449 h-3 M624 425.07 h3 M808.5 425.07 h-3 M624 401.14 h3 M808.5 401.14 h-3 M624 377.21 h3 M808.5 377.21 h-3 M624 353.29 h3 M808.5 353.29 h-3 M624 329.36 h3 M808.5 329.36 h-3 M624 305.43 h3 M808.5 305.43 h-3 M624 281.5 h3 M808.5 281.5 h-3" stroke="#000" stroke-width="1" fill="none"/>
<text transform="translate(625.6 466.7) scale(0.94 1)" text-anchor="middle">0</text>
<text transform="translate(667.53 466.7) scale(0.94 1)" text-anchor="middle">50</text>
<text transform="translate(709.46 466.7) scale(0.94 1)" text-anchor="middle">100</text>
<text transform="translate(751.4 466.7) scale(0.94 1)" text-anchor="middle">150</text>
<text transform="translate(793.33 466.7) scale(0.94 1)" text-anchor="middle">200</text>
<text transform="translate(616.5 453.8) scale(0.94 1)" text-anchor="end">0</text>
<text transform="translate(616.5 429.87) scale(0.94 1)" text-anchor="end">500</text>
<text transform="translate(616.5 405.94) scale(0.94 1)" text-anchor="end">1000</text>
<text transform="translate(616.5 382.01) scale(0.94 1)" text-anchor="end">1500</text>
<text transform="translate(616.5 358.09) scale(0.94 1)" text-anchor="end">2000</text>
<text transform="translate(616.5 334.16) scale(0.94 1)" text-anchor="end">2500</text>
<text transform="translate(616.5 310.23) scale(0.94 1)" text-anchor="end">3000</text>
<text transform="translate(616.5 286.3) scale(0.94 1)" text-anchor="end">3500</text>
<text transform="translate(715.75 267) scale(0.94 1)" text-anchor="middle">Data Set 3</text>
<text transform="translate(716.25 484.5) scale(0.94 1)" text-anchor="middle">Density (1/km)</text>
<text transform="translate(568.4 365.25) rotate(-90) scale(0.94 1)" text-anchor="middle">Flow (1/h)</text>
</g>
</svg></body></html>
